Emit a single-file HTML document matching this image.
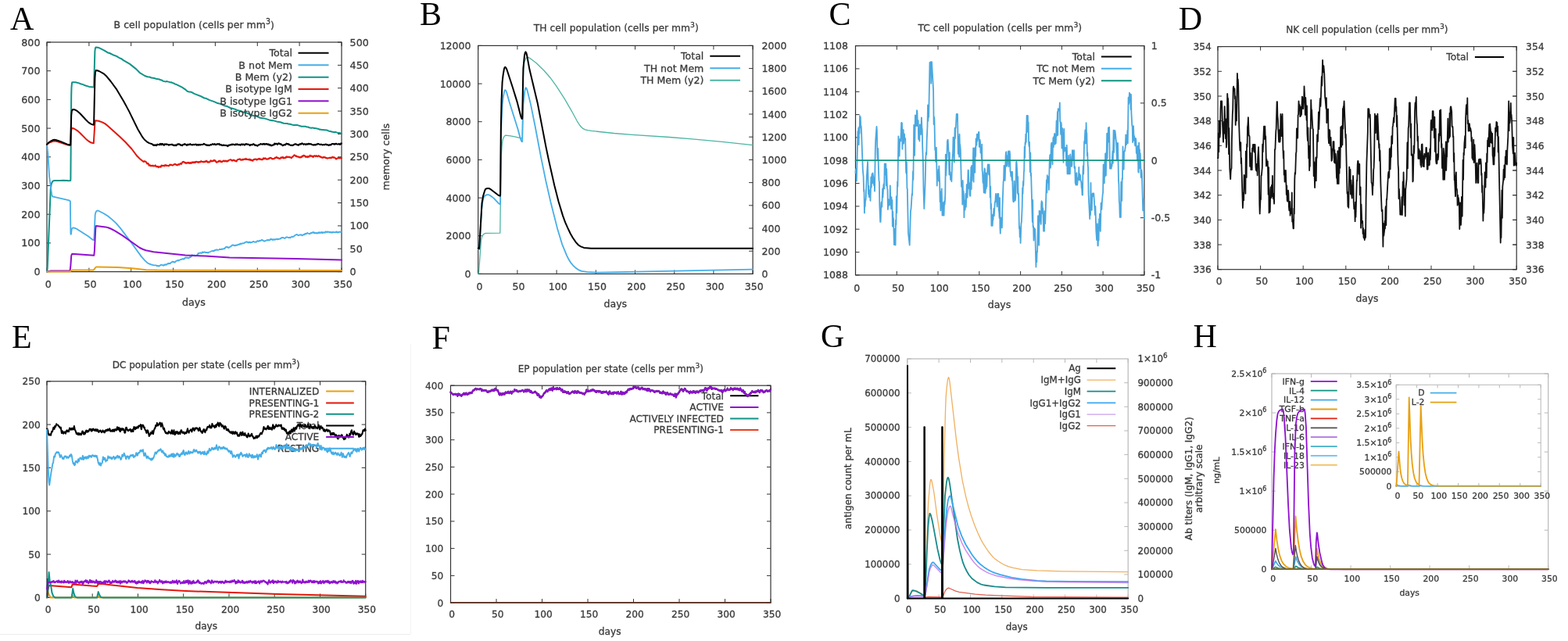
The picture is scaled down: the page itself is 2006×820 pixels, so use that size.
<!DOCTYPE html>
<html><head><meta charset="utf-8"><title>Immune simulation</title>
<style>html,body{margin:0;padding:0;background:#fff;} svg{display:block;} text{stroke:#3a3a3a;stroke-width:0.3px;} text.L{stroke:none;}</style></head>
<body><svg width="2006" height="820" viewBox="0 0 2006 820">
<rect width="2006" height="820" fill="#fff"/>
<text class="L" x="13.0" y="37.8" font-size="42" fill="#000" font-family="'Liberation Serif', 'DejaVu Serif', serif">A</text>
<text transform="translate(248.2,36.0) scale(0.96,1)" font-size="13.02" text-anchor="middle" fill="#3a3a3a" font-family="'DejaVu Sans', 'Liberation Sans', sans-serif">B cell population (cells per mm<tspan dy="-5" font-size="9.8">3</tspan><tspan dy="5">)</tspan></text>
<rect x="60.0" y="54.0" width="377.0" height="293.6" fill="none" stroke="#333" stroke-width="1.2"/>
<line x1="60.0" y1="347.6" x2="60.0" y2="342.6" stroke="#333" stroke-width="1"/>
<line x1="60.0" y1="54.0" x2="60.0" y2="59.0" stroke="#333" stroke-width="1"/>
<text transform="translate(61.7,368.0) scale(0.975,1)" font-size="13.02" text-anchor="middle" fill="#3a3a3a" font-family="'DejaVu Sans', 'Liberation Sans', sans-serif" >0</text>
<line x1="113.9" y1="347.6" x2="113.9" y2="342.6" stroke="#333" stroke-width="1"/>
<line x1="113.9" y1="54.0" x2="113.9" y2="59.0" stroke="#333" stroke-width="1"/>
<text transform="translate(115.6,368.0) scale(0.975,1)" font-size="13.02" text-anchor="middle" fill="#3a3a3a" font-family="'DejaVu Sans', 'Liberation Sans', sans-serif" >50</text>
<line x1="167.7" y1="347.6" x2="167.7" y2="342.6" stroke="#333" stroke-width="1"/>
<line x1="167.7" y1="54.0" x2="167.7" y2="59.0" stroke="#333" stroke-width="1"/>
<text transform="translate(169.4,368.0) scale(0.975,1)" font-size="13.02" text-anchor="middle" fill="#3a3a3a" font-family="'DejaVu Sans', 'Liberation Sans', sans-serif" >100</text>
<line x1="221.6" y1="347.6" x2="221.6" y2="342.6" stroke="#333" stroke-width="1"/>
<line x1="221.6" y1="54.0" x2="221.6" y2="59.0" stroke="#333" stroke-width="1"/>
<text transform="translate(223.3,368.0) scale(0.975,1)" font-size="13.02" text-anchor="middle" fill="#3a3a3a" font-family="'DejaVu Sans', 'Liberation Sans', sans-serif" >150</text>
<line x1="275.4" y1="347.6" x2="275.4" y2="342.6" stroke="#333" stroke-width="1"/>
<line x1="275.4" y1="54.0" x2="275.4" y2="59.0" stroke="#333" stroke-width="1"/>
<text transform="translate(277.1,368.0) scale(0.975,1)" font-size="13.02" text-anchor="middle" fill="#3a3a3a" font-family="'DejaVu Sans', 'Liberation Sans', sans-serif" >200</text>
<line x1="329.3" y1="347.6" x2="329.3" y2="342.6" stroke="#333" stroke-width="1"/>
<line x1="329.3" y1="54.0" x2="329.3" y2="59.0" stroke="#333" stroke-width="1"/>
<text transform="translate(331.0,368.0) scale(0.975,1)" font-size="13.02" text-anchor="middle" fill="#3a3a3a" font-family="'DejaVu Sans', 'Liberation Sans', sans-serif" >250</text>
<line x1="383.1" y1="347.6" x2="383.1" y2="342.6" stroke="#333" stroke-width="1"/>
<line x1="383.1" y1="54.0" x2="383.1" y2="59.0" stroke="#333" stroke-width="1"/>
<text transform="translate(384.8,368.0) scale(0.975,1)" font-size="13.02" text-anchor="middle" fill="#3a3a3a" font-family="'DejaVu Sans', 'Liberation Sans', sans-serif" >300</text>
<line x1="437.0" y1="347.6" x2="437.0" y2="342.6" stroke="#333" stroke-width="1"/>
<line x1="437.0" y1="54.0" x2="437.0" y2="59.0" stroke="#333" stroke-width="1"/>
<text transform="translate(438.7,368.0) scale(0.975,1)" font-size="13.02" text-anchor="middle" fill="#3a3a3a" font-family="'DejaVu Sans', 'Liberation Sans', sans-serif" >350</text>
<line x1="60.0" y1="347.6" x2="65.0" y2="347.6" stroke="#333" stroke-width="1"/>
<text transform="translate(51.5,352.1) scale(0.975,1)" font-size="13.02" text-anchor="end" fill="#3a3a3a" font-family="'DejaVu Sans', 'Liberation Sans', sans-serif" >0</text>
<line x1="60.0" y1="310.9" x2="65.0" y2="310.9" stroke="#333" stroke-width="1"/>
<text transform="translate(51.5,315.4) scale(0.975,1)" font-size="13.02" text-anchor="end" fill="#3a3a3a" font-family="'DejaVu Sans', 'Liberation Sans', sans-serif" >100</text>
<line x1="60.0" y1="274.2" x2="65.0" y2="274.2" stroke="#333" stroke-width="1"/>
<text transform="translate(51.5,278.7) scale(0.975,1)" font-size="13.02" text-anchor="end" fill="#3a3a3a" font-family="'DejaVu Sans', 'Liberation Sans', sans-serif" >200</text>
<line x1="60.0" y1="237.5" x2="65.0" y2="237.5" stroke="#333" stroke-width="1"/>
<text transform="translate(51.5,242.0) scale(0.975,1)" font-size="13.02" text-anchor="end" fill="#3a3a3a" font-family="'DejaVu Sans', 'Liberation Sans', sans-serif" >300</text>
<line x1="60.0" y1="200.8" x2="65.0" y2="200.8" stroke="#333" stroke-width="1"/>
<text transform="translate(51.5,205.3) scale(0.975,1)" font-size="13.02" text-anchor="end" fill="#3a3a3a" font-family="'DejaVu Sans', 'Liberation Sans', sans-serif" >400</text>
<line x1="60.0" y1="164.1" x2="65.0" y2="164.1" stroke="#333" stroke-width="1"/>
<text transform="translate(51.5,168.6) scale(0.975,1)" font-size="13.02" text-anchor="end" fill="#3a3a3a" font-family="'DejaVu Sans', 'Liberation Sans', sans-serif" >500</text>
<line x1="60.0" y1="127.4" x2="65.0" y2="127.4" stroke="#333" stroke-width="1"/>
<text transform="translate(51.5,131.9) scale(0.975,1)" font-size="13.02" text-anchor="end" fill="#3a3a3a" font-family="'DejaVu Sans', 'Liberation Sans', sans-serif" >600</text>
<line x1="60.0" y1="90.7" x2="65.0" y2="90.7" stroke="#333" stroke-width="1"/>
<text transform="translate(51.5,95.2) scale(0.975,1)" font-size="13.02" text-anchor="end" fill="#3a3a3a" font-family="'DejaVu Sans', 'Liberation Sans', sans-serif" >700</text>
<line x1="60.0" y1="54.0" x2="65.0" y2="54.0" stroke="#333" stroke-width="1"/>
<text transform="translate(51.5,58.5) scale(0.975,1)" font-size="13.02" text-anchor="end" fill="#3a3a3a" font-family="'DejaVu Sans', 'Liberation Sans', sans-serif" >800</text>
<line x1="437.0" y1="347.6" x2="432.0" y2="347.6" stroke="#333" stroke-width="1"/>
<text transform="translate(447.6,352.1) scale(0.975,1)" font-size="13.02" text-anchor="start" fill="#3a3a3a" font-family="'DejaVu Sans', 'Liberation Sans', sans-serif" >0</text>
<line x1="437.0" y1="318.2" x2="432.0" y2="318.2" stroke="#333" stroke-width="1"/>
<text transform="translate(447.6,322.7) scale(0.975,1)" font-size="13.02" text-anchor="start" fill="#3a3a3a" font-family="'DejaVu Sans', 'Liberation Sans', sans-serif" >50</text>
<line x1="437.0" y1="288.9" x2="432.0" y2="288.9" stroke="#333" stroke-width="1"/>
<text transform="translate(447.6,293.4) scale(0.975,1)" font-size="13.02" text-anchor="start" fill="#3a3a3a" font-family="'DejaVu Sans', 'Liberation Sans', sans-serif" >100</text>
<line x1="437.0" y1="259.5" x2="432.0" y2="259.5" stroke="#333" stroke-width="1"/>
<text transform="translate(447.6,264.0) scale(0.975,1)" font-size="13.02" text-anchor="start" fill="#3a3a3a" font-family="'DejaVu Sans', 'Liberation Sans', sans-serif" >150</text>
<line x1="437.0" y1="230.2" x2="432.0" y2="230.2" stroke="#333" stroke-width="1"/>
<text transform="translate(447.6,234.7) scale(0.975,1)" font-size="13.02" text-anchor="start" fill="#3a3a3a" font-family="'DejaVu Sans', 'Liberation Sans', sans-serif" >200</text>
<line x1="437.0" y1="200.8" x2="432.0" y2="200.8" stroke="#333" stroke-width="1"/>
<text transform="translate(447.6,205.3) scale(0.975,1)" font-size="13.02" text-anchor="start" fill="#3a3a3a" font-family="'DejaVu Sans', 'Liberation Sans', sans-serif" >250</text>
<line x1="437.0" y1="171.4" x2="432.0" y2="171.4" stroke="#333" stroke-width="1"/>
<text transform="translate(447.6,175.9) scale(0.975,1)" font-size="13.02" text-anchor="start" fill="#3a3a3a" font-family="'DejaVu Sans', 'Liberation Sans', sans-serif" >300</text>
<line x1="437.0" y1="142.1" x2="432.0" y2="142.1" stroke="#333" stroke-width="1"/>
<text transform="translate(447.6,146.6) scale(0.975,1)" font-size="13.02" text-anchor="start" fill="#3a3a3a" font-family="'DejaVu Sans', 'Liberation Sans', sans-serif" >350</text>
<line x1="437.0" y1="112.7" x2="432.0" y2="112.7" stroke="#333" stroke-width="1"/>
<text transform="translate(447.6,117.2) scale(0.975,1)" font-size="13.02" text-anchor="start" fill="#3a3a3a" font-family="'DejaVu Sans', 'Liberation Sans', sans-serif" >400</text>
<line x1="437.0" y1="83.4" x2="432.0" y2="83.4" stroke="#333" stroke-width="1"/>
<text transform="translate(447.6,87.9) scale(0.975,1)" font-size="13.02" text-anchor="start" fill="#3a3a3a" font-family="'DejaVu Sans', 'Liberation Sans', sans-serif" >450</text>
<line x1="437.0" y1="54.0" x2="432.0" y2="54.0" stroke="#333" stroke-width="1"/>
<text transform="translate(447.6,58.5) scale(0.975,1)" font-size="13.02" text-anchor="start" fill="#3a3a3a" font-family="'DejaVu Sans', 'Liberation Sans', sans-serif" >500</text>
<text transform="translate(248.0,390.5) scale(0.975,1)" font-size="13.02" text-anchor="middle" fill="#3a3a3a" font-family="'DejaVu Sans', 'Liberation Sans', sans-serif" >days</text>
<text x="0.0" y="0.0" font-size="13.02" text-anchor="middle" fill="#3a3a3a" font-family="'DejaVu Sans', 'Liberation Sans', sans-serif" transform="translate(498,200.7) rotate(-90) scale(0.975,1)">memory cells</text>
<polyline points="60.0,347.6 60.5,345.4 60.8,340.3 64.6,246.4 64.8,241.1 65.7,235.5 66.5,233.4 67.5,231.8 69.7,230.9 78.3,231.1 80.2,230.8 86.7,231.0 87.2,231.3 90.2,231.0 90.4,228.8 91.2,122.5 91.5,111.9 92.0,106.1 92.3,105.3 96.6,105.3 101.2,106.4 103.1,107.3 106.3,108.1 107.9,109.0 113.9,110.9 119.5,111.5 120.1,111.1 121.4,65.3 121.9,61.8 122.5,60.5 125.2,60.7 127.1,61.4 133.5,64.6 137.6,67.2 140.2,68.0 144.6,70.2 149.1,71.9 153.4,74.5 154.8,74.9 158.3,77.4 166.1,81.9 174.2,88.4 178.5,92.8 185.2,97.0 188.7,98.2 191.4,98.5 193.8,99.6 197.3,100.0 200.6,101.1 204.1,101.6 205.4,102.3 207.0,102.6 208.4,103.6 211.3,104.4 213.8,104.1 218.1,105.4 219.4,105.3 221.0,106.2 222.4,106.4 223.7,107.5 225.3,107.9 232.9,111.6 236.9,114.3 239.1,116.3 240.7,117.2 244.5,117.7 248.5,119.9 256.0,122.7 261.4,125.5 263.6,125.8 267.6,127.9 274.1,130.1 278.4,132.1 283.8,133.3 285.7,134.6 288.1,135.5 290.8,136.1 294.5,138.0 300.5,139.6 303.4,141.0 307.7,141.9 311.5,143.7 316.1,144.6 323.9,148.1 324.2,147.9 326.1,148.4 328.2,148.5 332.8,150.8 338.2,151.4 344.4,153.4 348.1,154.2 349.2,154.1 353.8,155.4 358.6,156.3 362.9,157.8 367.3,157.9 368.6,158.6 371.0,158.8 375.6,160.1 380.7,160.1 385.8,161.7 390.7,161.8 393.1,162.6 394.2,162.5 395.5,163.2 398.5,163.7 399.8,163.4 402.0,164.0 402.8,163.9 407.6,165.0 409.3,165.8 410.3,165.6 412.2,166.1 418.4,166.6 420.8,167.7 423.0,168.0 424.3,168.6 428.1,169.2 428.7,169.0 429.7,169.1 433.0,170.1 434.3,170.0 437.0,171.0" fill="none" stroke="#0f9488" stroke-width="2.0" stroke-linejoin="round" stroke-linecap="round" opacity="1.0"/>
<polyline points="60.0,184.3 61.3,196.6 63.2,226.5 66.2,249.0 67.0,251.1 68.1,251.6 87.7,256.1 89.9,257.3 90.4,298.8 90.7,299.8 91.0,299.4 91.8,292.6 93.4,291.5 95.3,291.6 98.0,292.8 113.3,302.5 118.4,306.6 120.3,307.2 121.7,274.6 122.5,271.5 123.3,270.2 124.4,269.5 126.2,269.7 133.0,273.2 137.8,276.3 143.2,280.6 148.6,285.6 154.0,291.9 166.6,308.5 180.6,327.9 185.2,333.1 188.2,335.9 190.6,337.4 194.1,338.7 196.8,339.3 200.0,339.4 200.6,340.3 201.6,339.8 202.5,340.4 203.0,340.2 203.5,340.6 204.3,339.7 204.9,339.7 206.0,338.6 208.1,339.3 208.6,339.2 209.2,339.7 210.0,338.7 210.3,339.1 210.8,339.0 211.1,338.3 211.6,338.8 211.9,338.5 212.1,338.8 212.7,338.3 213.2,338.6 214.3,337.3 214.8,337.4 215.1,336.9 215.4,336.8 215.6,337.6 216.5,337.0 217.0,336.9 217.3,337.3 218.1,336.9 219.1,335.5 220.2,335.1 220.5,334.7 220.8,335.0 221.0,334.7 221.8,334.9 222.1,335.3 222.6,335.0 222.9,335.6 223.5,335.3 223.7,335.5 225.3,334.0 227.2,333.0 227.8,333.5 228.6,332.9 228.8,333.3 231.0,332.0 232.3,331.8 232.6,331.4 233.4,331.4 233.7,331.0 234.2,331.7 234.8,331.7 235.0,331.2 235.6,331.4 235.8,330.4 236.7,330.3 237.2,329.3 238.5,329.5 238.8,329.9 239.3,329.6 239.6,329.9 239.9,329.6 240.7,329.7 241.0,330.2 241.8,329.7 242.0,329.8 243.1,328.6 243.7,329.0 244.5,328.5 245.0,327.9 245.8,326.0 246.1,326.6 247.2,327.0 248.2,326.4 249.0,326.6 249.6,327.6 250.1,327.0 251.5,326.9 251.7,326.3 252.8,325.7 253.3,324.4 254.2,323.9 254.4,324.3 255.2,323.7 256.0,323.7 256.3,323.2 257.4,324.0 257.7,323.6 257.9,323.8 258.2,323.7 258.7,322.5 259.3,322.4 259.8,323.3 261.2,322.3 262.5,322.8 262.8,322.6 263.0,323.0 264.7,322.8 265.5,323.4 266.0,323.1 266.5,323.4 267.4,322.5 269.2,322.0 271.1,321.0 272.2,321.3 272.5,320.9 273.0,320.9 273.8,321.3 274.4,320.3 275.2,319.7 275.7,320.0 276.5,319.7 276.8,319.9 277.0,319.6 277.3,319.8 277.6,319.2 278.7,319.9 280.3,319.5 281.1,318.6 281.6,318.8 281.9,319.2 282.4,319.2 283.8,318.5 284.0,319.0 284.6,318.4 285.4,318.7 287.0,317.7 287.3,318.1 288.9,316.0 289.7,316.1 290.2,315.8 290.8,316.4 291.0,315.9 291.9,316.5 292.1,317.1 292.9,316.5 293.7,316.6 294.5,315.4 295.6,315.2 297.2,313.4 297.8,313.4 298.3,313.9 298.9,313.6 299.9,313.8 300.2,314.4 301.3,313.7 301.8,314.0 302.4,313.4 303.2,313.8 304.2,313.0 304.5,313.1 305.3,312.6 306.4,312.8 307.2,311.6 307.7,312.4 308.6,311.5 309.1,311.9 310.2,311.5 310.7,311.0 311.8,311.3 312.3,311.1 313.1,310.6 313.4,310.0 313.7,310.3 313.9,309.8 314.7,309.7 315.3,309.2 316.4,309.9 316.6,309.5 316.9,309.6 317.7,310.6 318.2,309.8 318.8,310.1 319.3,309.5 320.1,309.9 320.4,310.6 321.2,310.0 322.0,310.2 324.2,308.8 325.5,309.7 326.1,309.8 326.9,309.3 327.7,309.9 329.3,308.0 330.9,308.9 331.7,307.9 332.0,308.1 332.5,307.6 333.1,308.0 334.1,307.7 334.9,306.6 336.0,307.7 336.8,307.5 337.4,308.4 337.9,308.5 338.2,308.3 338.4,308.7 339.2,308.5 339.8,307.8 340.6,307.7 341.7,306.9 342.2,307.5 343.0,307.0 343.3,307.2 343.6,306.8 344.1,307.3 344.9,307.4 346.0,305.8 346.8,306.4 347.3,305.9 347.9,306.1 348.1,306.5 348.4,306.2 349.2,307.1 350.6,305.9 351.4,306.8 352.4,306.4 352.7,305.9 353.8,305.9 354.6,306.4 355.1,305.5 356.5,306.2 357.0,305.7 358.1,305.7 358.4,305.3 358.6,305.6 360.3,304.0 361.1,303.8 362.1,304.1 362.9,304.0 363.5,304.8 364.0,304.9 365.1,304.6 365.9,303.4 366.7,303.5 367.3,303.2 369.1,304.2 369.4,303.9 369.7,304.2 370.2,304.1 370.5,303.6 371.6,304.3 372.1,303.4 373.2,303.0 373.4,302.5 374.0,303.0 374.8,303.2 375.1,302.7 376.4,302.0 376.7,301.5 377.2,301.5 377.8,300.8 379.4,300.0 379.9,300.0 380.4,300.6 380.7,300.5 381.8,301.3 382.1,300.9 383.1,300.7 383.4,300.3 384.8,300.7 385.3,300.1 386.6,301.4 387.5,300.5 388.3,300.3 388.5,299.9 389.1,300.4 390.4,298.8 390.7,299.3 391.5,299.4 392.0,298.6 392.3,298.9 392.6,298.4 393.4,298.0 394.2,298.7 395.0,298.9 395.8,298.8 396.3,299.4 398.0,297.7 398.2,297.6 398.8,298.4 400.4,297.0 400.6,297.3 400.9,297.0 401.7,298.3 402.5,297.5 402.8,297.9 403.6,298.4 404.4,297.8 405.2,298.6 405.8,298.7 406.0,298.0 406.3,298.2 407.1,297.2 408.2,298.3 409.0,297.1 409.5,297.6 409.8,297.5 410.1,297.8 410.3,297.5 410.9,298.0 411.7,296.8 412.8,298.3 413.8,297.1 414.4,297.4 415.2,297.3 415.7,297.8 416.5,296.2 417.3,296.9 418.1,296.7 418.4,297.1 418.7,296.4 419.8,296.9 420.0,296.5 420.3,296.8 420.6,296.6 421.9,297.5 422.7,296.6 423.8,297.7 424.9,296.9 425.4,297.5 426.0,296.8 426.2,297.2 427.3,297.0 428.9,297.4 429.7,296.6 430.0,297.0 430.3,296.4 430.5,297.1 431.3,296.6 431.9,297.4 432.4,297.6 433.5,296.6 433.8,297.1 434.8,296.5 435.4,296.6 435.7,297.0 436.7,296.3 437.0,296.8" fill="none" stroke="#45aee8" stroke-width="1.8" stroke-linejoin="round" stroke-linecap="round" opacity="1.0"/>
<polyline points="60.0,347.6 65.1,346.5 89.6,346.5 90.4,339.6 91.2,327.4 91.8,325.6 92.3,324.8 120.3,326.7 120.9,321.1 122.2,293.1 122.7,289.2 123.0,288.9 135.1,290.4 138.4,291.2 141.6,292.5 146.7,295.2 157.2,301.6 178.8,317.0 183.1,319.0 186.6,320.3 196.5,322.2 237.2,326.5 262.8,327.5 293.7,329.5 379.6,331.0 437.0,332.4" fill="none" stroke="#9010d0" stroke-width="2.0" stroke-linejoin="round" stroke-linecap="round" opacity="1.0"/>
<polyline points="60.0,347.6 89.6,347.6 91.2,346.1 93.1,345.4 119.8,345.4 122.5,341.9 123.6,341.4 151.0,341.9 169.3,343.3 186.8,345.2 201.1,345.6 437.0,346.1" fill="none" stroke="#e8a010" stroke-width="2.0" stroke-linejoin="round" stroke-linecap="round" opacity="1.0"/>
<polyline points="60.0,184.7 62.4,182.9 65.1,181.7 67.8,180.8 70.2,180.6 74.0,181.3 86.9,185.6 90.2,186.1 91.0,168.8 91.5,163.7 94.7,164.5 98.5,166.8 102.0,169.8 110.1,177.9 113.9,181.0 116.8,182.6 119.8,183.2 121.4,157.5 121.9,154.2 122.5,154.2 126.2,154.8 131.4,156.6 134.6,158.4 138.1,161.2 153.4,175.0 160.4,181.8 168.5,190.5 175.5,199.8 179.0,203.2 182.5,206.1 183.9,207.0 184.4,206.1 185.2,206.6 185.8,206.4 186.3,206.6 186.6,207.1 186.8,207.0 188.2,209.4 188.4,209.5 189.0,208.8 190.1,209.8 190.6,211.7 190.9,211.8 191.1,211.3 192.5,211.6 192.8,212.3 193.6,211.9 193.8,212.2 194.6,212.1 194.9,212.3 195.5,211.6 196.8,212.6 197.9,212.2 198.7,211.3 199.2,212.5 199.5,212.4 199.8,212.9 200.0,212.8 200.3,213.3 200.6,212.9 201.1,213.1 201.4,213.5 201.9,212.8 202.7,214.1 203.0,213.8 203.3,214.0 203.5,213.3 204.6,213.5 205.1,213.1 205.7,213.7 206.5,211.5 207.6,212.2 208.1,211.7 208.6,212.1 208.9,211.8 209.7,212.0 210.3,212.5 210.8,211.3 211.9,211.5 212.1,211.1 212.7,212.1 213.5,211.6 214.6,212.0 215.4,211.9 215.9,212.4 217.3,210.5 217.8,211.1 218.3,210.7 219.1,211.0 219.4,210.8 220.5,211.6 221.0,211.6 221.6,211.0 222.1,210.9 222.4,210.3 223.5,209.8 223.7,210.3 224.5,209.9 225.6,210.9 226.1,210.8 226.7,211.4 228.3,210.0 229.1,210.8 229.4,210.3 229.9,210.3 230.7,209.1 231.3,209.2 231.5,209.7 232.1,209.9 233.4,207.3 234.0,207.4 234.8,206.8 235.0,207.2 235.8,207.2 236.4,208.2 236.7,208.0 236.9,208.3 237.5,208.0 238.0,208.9 238.8,208.2 239.6,208.8 240.4,207.7 241.0,208.2 241.5,208.0 242.0,208.9 242.3,208.6 242.6,208.8 242.8,208.4 243.1,208.7 243.4,207.9 243.9,208.9 244.7,208.4 245.0,208.8 245.8,207.4 246.3,207.9 246.9,207.5 247.2,208.0 247.7,207.3 248.0,208.0 248.2,207.7 248.5,208.0 248.8,207.6 249.0,208.0 249.6,207.1 249.8,207.5 250.1,207.2 250.4,207.7 250.9,206.8 253.1,207.3 253.3,207.8 253.9,207.9 254.4,206.9 255.0,206.9 255.8,207.6 256.0,207.5 257.4,206.0 258.2,207.0 259.3,207.0 259.5,206.7 260.1,207.5 260.6,206.9 260.9,207.2 261.7,207.2 262.2,206.4 262.5,207.1 262.8,207.1 264.1,205.7 264.7,206.1 264.9,207.1 265.5,207.1 266.0,207.8 266.3,207.2 266.8,207.1 267.1,207.6 268.2,207.5 269.5,205.3 270.0,206.1 270.9,205.7 271.1,206.5 272.2,205.8 272.5,206.0 272.7,205.7 273.3,205.9 273.8,204.7 274.6,205.7 275.4,205.3 275.7,205.5 276.0,206.6 276.8,207.6 277.0,207.4 277.3,207.7 278.1,207.4 278.7,206.7 279.5,206.9 280.0,205.8 280.8,206.4 281.4,205.6 281.9,206.0 282.4,207.0 283.0,207.2 283.5,207.1 283.8,206.5 284.0,207.0 284.6,207.0 285.4,205.8 285.9,206.0 286.5,205.5 287.5,206.4 288.4,205.6 289.4,206.5 290.2,205.9 290.5,206.6 290.8,206.5 291.3,205.9 291.6,206.1 291.9,205.9 292.4,205.1 294.0,204.6 294.3,204.2 295.1,204.5 295.4,204.3 296.7,205.6 297.0,205.3 297.2,205.6 298.3,204.8 298.6,204.9 298.9,204.5 299.9,205.7 300.2,205.2 300.5,205.3 301.3,205.7 301.5,206.2 302.4,206.2 302.6,206.5 303.4,204.6 304.8,203.8 305.6,204.0 306.7,203.3 307.2,203.7 307.5,203.6 308.3,204.9 309.6,204.6 310.2,203.7 311.0,204.6 312.3,203.5 312.6,203.8 313.4,203.5 313.9,203.9 314.7,202.9 315.3,204.1 317.2,203.8 318.0,204.5 319.3,203.6 320.1,205.0 320.4,204.2 320.9,204.3 321.2,204.9 321.7,204.5 322.0,205.3 322.3,204.9 322.6,205.0 323.4,205.8 323.9,204.5 325.0,203.9 325.2,204.3 326.1,203.5 327.4,203.9 327.7,203.5 328.5,204.6 329.0,203.9 329.8,204.0 330.4,203.0 330.9,203.6 331.4,203.7 332.0,202.8 332.5,203.2 332.8,203.9 333.9,203.6 334.4,204.3 334.9,203.9 335.2,204.3 335.7,204.3 336.3,203.7 336.8,202.2 337.1,202.2 337.6,203.1 338.2,202.5 338.7,203.2 339.5,202.2 339.8,202.8 341.1,203.8 341.4,203.3 341.7,203.8 342.2,203.4 343.0,203.6 343.6,202.7 344.1,202.6 344.4,202.9 344.9,202.0 345.2,202.4 346.0,201.8 346.8,202.0 348.1,203.4 348.4,203.1 350.0,203.3 350.8,203.0 351.9,201.6 352.4,202.2 353.0,202.0 353.8,200.9 354.9,202.1 355.1,201.9 355.9,202.5 356.2,202.1 357.0,202.7 357.8,202.7 358.1,203.1 359.7,201.2 360.3,201.9 360.8,201.9 361.1,201.2 361.3,201.7 361.6,201.5 361.9,200.8 362.7,202.4 362.9,202.5 363.8,201.7 364.6,201.6 364.8,202.1 365.6,201.8 366.4,200.3 367.0,201.1 367.5,200.5 368.3,201.0 368.6,200.7 369.9,200.7 370.2,201.4 370.8,200.8 372.9,202.1 374.0,200.5 374.3,200.8 376.4,198.3 377.2,198.6 378.3,200.0 379.1,199.3 380.2,200.6 381.3,200.2 381.5,200.7 382.3,200.8 382.9,201.5 383.7,200.8 384.5,201.5 384.8,200.8 385.0,201.4 385.6,200.6 386.4,200.7 386.6,199.6 387.5,199.7 388.3,198.9 388.5,199.5 388.8,198.8 389.1,199.3 389.6,199.1 391.0,200.9 391.8,200.0 392.3,200.8 392.6,200.5 393.4,201.1 393.9,200.0 394.7,200.8 395.5,200.5 396.6,198.7 397.7,199.9 398.5,199.8 398.8,199.4 399.8,199.9 400.4,201.0 400.9,200.9 401.5,199.6 401.7,199.7 402.0,199.3 402.5,199.5 402.8,199.3 403.9,200.2 404.7,199.1 405.0,199.6 406.3,200.3 407.6,199.1 408.5,200.1 409.0,199.9 409.5,200.8 410.1,200.4 410.9,200.9 411.1,201.6 412.2,201.2 412.8,201.9 414.1,200.8 414.9,201.4 415.7,201.1 416.3,201.9 416.8,201.6 417.3,202.2 417.9,202.1 418.4,202.6 418.7,202.2 419.8,202.4 421.4,201.8 421.9,202.3 423.0,201.4 423.3,202.0 423.5,201.8 423.8,202.2 424.9,201.5 425.2,200.7 426.2,201.3 426.5,201.8 426.8,201.5 427.0,201.7 427.3,201.3 428.4,201.6 430.0,203.6 430.8,202.8 431.6,202.4 431.9,202.6 432.4,202.1 433.2,202.4 433.8,201.5 434.6,202.4 434.8,202.1 435.1,202.2 435.4,201.7 436.2,202.4 437.0,202.2" fill="none" stroke="#e3170d" stroke-width="2.0" stroke-linejoin="round" stroke-linecap="round" opacity="1.0"/>
<polyline points="60.0,184.7 62.4,182.3 65.7,180.2 67.8,179.1 69.7,178.8 72.1,179.2 77.2,181.0 86.1,184.7 90.2,185.4 91.2,147.8 91.8,142.1 93.1,139.9 95.8,140.3 99.0,142.2 102.5,145.3 110.1,153.5 113.3,156.6 116.8,158.9 119.8,159.7 120.1,159.2 121.4,99.6 121.9,92.8 122.7,90.0 124.6,90.2 126.8,91.0 132.4,94.1 136.5,97.8 141.6,104.0 149.4,114.7 158.6,130.2 165.0,142.1 176.3,165.3 182.3,175.4 184.7,178.5 187.9,181.3 190.9,183.1 194.6,184.2 195.5,185.3 196.0,185.2 196.3,185.9 196.5,185.4 197.3,185.9 198.1,185.3 199.0,185.9 199.8,185.4 200.3,186.2 201.4,184.6 202.7,185.1 203.3,184.8 203.5,185.2 204.1,185.3 204.6,184.1 204.9,184.1 205.1,184.9 205.4,184.9 206.0,183.9 206.8,185.1 207.3,184.1 208.1,184.0 208.9,185.3 209.5,184.9 209.7,185.1 210.0,185.9 210.8,184.3 212.7,184.9 213.0,184.5 213.5,184.3 213.8,184.7 215.4,184.9 215.9,185.8 217.0,185.0 217.3,185.3 219.4,184.7 220.0,185.1 220.2,184.7 221.8,185.9 222.1,185.4 222.4,185.5 223.2,186.3 224.3,185.4 224.8,186.0 225.3,186.2 225.9,185.8 226.7,184.5 227.5,184.5 227.8,184.7 228.3,184.2 228.8,184.2 229.1,184.6 229.4,184.3 230.5,184.8 231.0,185.8 232.1,185.4 233.2,186.3 234.2,184.8 235.6,184.9 236.4,184.0 237.5,185.1 238.0,184.9 238.8,185.9 239.6,185.7 240.4,184.6 240.7,185.2 241.0,184.9 241.5,185.3 242.0,184.7 242.3,184.9 243.4,184.1 243.7,184.7 244.7,185.3 245.0,185.0 246.3,185.5 247.2,184.8 248.0,185.2 248.2,184.8 249.0,185.2 250.1,184.6 250.7,185.1 250.9,184.6 251.7,185.8 252.3,185.2 253.1,184.9 253.3,185.5 254.2,185.1 254.4,185.7 255.8,184.8 256.3,185.4 256.8,185.4 257.4,184.8 257.7,185.0 259.3,185.1 260.9,183.8 263.3,185.4 264.4,185.3 264.7,185.9 265.2,186.0 266.3,185.4 267.4,186.2 268.4,185.6 268.7,185.8 269.0,185.2 269.5,185.0 270.6,185.4 271.7,184.2 272.5,184.2 273.5,184.9 274.6,184.0 276.0,185.3 277.9,184.1 278.7,184.5 279.5,184.2 280.0,184.5 280.5,183.9 281.4,185.4 282.7,185.0 283.2,185.6 283.8,185.9 284.0,185.7 284.9,186.2 285.4,185.5 285.9,185.4 287.0,186.0 288.1,185.7 288.4,186.0 289.7,186.3 290.0,185.9 290.2,186.2 290.5,186.0 291.3,187.1 292.1,186.5 292.7,185.4 294.0,185.8 294.5,185.3 295.6,185.2 296.4,184.5 297.0,185.3 297.8,184.6 298.3,184.6 299.4,185.1 299.9,184.8 300.5,185.5 301.5,184.4 302.1,185.1 302.6,184.6 303.2,185.0 303.4,184.3 303.7,184.3 304.2,185.1 304.8,185.0 305.6,185.4 306.7,184.8 307.7,185.8 308.3,184.6 309.1,184.4 309.4,184.7 309.9,184.5 310.4,185.3 311.2,184.5 311.8,184.6 313.1,185.6 313.7,184.5 314.2,184.7 314.7,184.0 315.6,184.2 315.8,184.7 316.1,184.5 316.4,184.8 316.6,184.5 318.2,184.8 319.9,186.2 320.7,185.1 321.5,185.2 322.3,184.8 322.6,185.4 324.4,184.1 325.8,185.5 326.1,185.3 326.3,186.0 327.7,185.6 329.3,186.8 330.6,185.3 332.2,185.3 333.1,184.0 335.7,184.7 336.6,183.9 336.8,184.5 337.1,184.3 337.4,184.5 338.2,183.8 338.7,184.7 339.0,184.3 339.8,184.7 340.1,183.9 341.7,184.1 341.9,184.8 342.5,184.9 343.6,184.4 344.4,185.6 344.9,185.0 345.4,185.5 345.7,185.1 346.8,186.5 347.3,185.8 347.9,186.2 348.7,185.4 349.2,185.6 350.3,185.5 351.1,183.5 351.4,183.5 351.6,184.4 352.2,184.4 353.0,183.7 353.8,183.7 354.3,184.0 354.6,184.8 354.9,184.5 355.1,184.9 355.9,183.7 356.8,183.2 357.6,184.2 357.8,184.0 358.4,184.5 358.9,183.9 359.2,184.4 359.4,184.2 359.7,184.7 360.0,184.5 361.6,186.3 363.5,185.0 363.8,185.5 364.8,184.9 365.1,185.4 366.4,183.6 367.3,184.3 368.3,184.0 368.9,184.2 369.1,185.0 369.7,184.5 369.9,184.6 370.8,185.6 371.6,185.5 371.8,186.0 372.9,186.0 373.4,185.5 374.0,186.2 374.3,186.0 374.8,186.0 375.9,184.9 376.7,184.9 377.2,184.2 378.0,184.6 378.8,184.2 379.1,184.8 379.9,185.1 380.4,185.6 381.3,185.1 382.1,185.9 382.6,184.8 383.1,184.8 383.4,184.3 384.2,184.1 385.0,184.7 385.8,183.6 386.4,183.7 386.6,183.4 387.5,183.9 388.3,185.0 389.1,184.2 389.9,184.2 390.1,184.5 390.4,184.2 391.2,185.1 392.6,184.0 393.9,184.8 394.5,183.8 395.3,183.7 396.3,184.6 396.9,184.0 397.1,184.2 398.2,184.2 399.0,185.1 400.1,185.2 400.4,185.5 400.6,185.4 401.2,185.7 401.7,185.1 402.5,185.0 403.1,185.6 404.7,184.6 405.2,185.1 405.5,184.5 406.3,184.3 406.6,183.9 406.8,184.3 407.6,184.1 407.9,184.6 408.7,184.6 409.8,185.1 410.9,184.5 412.8,185.6 413.6,184.9 414.9,185.4 415.7,184.8 417.3,184.5 417.9,185.4 419.2,185.1 420.3,186.1 421.1,185.8 421.4,185.2 421.9,185.5 422.2,185.0 422.7,184.9 423.0,185.5 423.5,185.4 424.6,184.0 425.2,183.9 426.5,184.3 426.8,184.1 427.0,184.4 427.6,184.0 428.4,184.8 429.2,183.8 429.7,184.1 430.3,183.7 431.1,184.4 432.2,184.5 433.2,184.3 433.8,183.9 434.3,184.7 434.8,184.9 435.7,184.6 436.2,183.4 436.7,183.7 437.0,183.6" fill="none" stroke="#000000" stroke-width="2.0" stroke-linejoin="round" stroke-linecap="round" opacity="1.0"/>
<text transform="translate(374.0,72.3) scale(0.975,1)" font-size="13.02" text-anchor="end" fill="#3a3a3a" font-family="'DejaVu Sans', 'Liberation Sans', sans-serif" >Total</text>
<line x1="381.5" y1="67.8" x2="420.5" y2="67.8" stroke="#000000" stroke-width="2.0"/>
<text transform="translate(374.0,87.8) scale(0.975,1)" font-size="13.02" text-anchor="end" fill="#3a3a3a" font-family="'DejaVu Sans', 'Liberation Sans', sans-serif" >B not Mem</text>
<line x1="381.5" y1="83.3" x2="420.5" y2="83.3" stroke="#45aee8" stroke-width="2.0"/>
<text transform="translate(374.0,103.2) scale(0.975,1)" font-size="13.02" text-anchor="end" fill="#3a3a3a" font-family="'DejaVu Sans', 'Liberation Sans', sans-serif" >B Mem (y2)</text>
<line x1="381.5" y1="98.7" x2="420.5" y2="98.7" stroke="#0f9488" stroke-width="2.0"/>
<text transform="translate(374.0,118.4) scale(0.975,1)" font-size="13.02" text-anchor="end" fill="#3a3a3a" font-family="'DejaVu Sans', 'Liberation Sans', sans-serif" >B isotype IgM</text>
<line x1="381.5" y1="113.9" x2="420.5" y2="113.9" stroke="#e3170d" stroke-width="2.0"/>
<text transform="translate(374.0,133.8) scale(0.975,1)" font-size="13.02" text-anchor="end" fill="#3a3a3a" font-family="'DejaVu Sans', 'Liberation Sans', sans-serif" >B isotype IgG1</text>
<line x1="381.5" y1="129.3" x2="420.5" y2="129.3" stroke="#9010d0" stroke-width="2.0"/>
<text transform="translate(374.0,149.3) scale(0.975,1)" font-size="13.02" text-anchor="end" fill="#3a3a3a" font-family="'DejaVu Sans', 'Liberation Sans', sans-serif" >B isotype IgG2</text>
<line x1="381.5" y1="144.8" x2="420.5" y2="144.8" stroke="#e8a010" stroke-width="2.0"/>
<text class="L" x="537.0" y="31.6" font-size="42" fill="#000" font-family="'Liberation Serif', 'DejaVu Serif', serif">B</text>
<text transform="translate(788.3,39.5) scale(0.96,1)" font-size="12.86" text-anchor="middle" fill="#3a3a3a" font-family="'DejaVu Sans', 'Liberation Sans', sans-serif">TH cell population (cells per mm<tspan dy="-5" font-size="9.6">3</tspan><tspan dy="5">)</tspan></text>
<rect x="611.7" y="58.4" width="351.4" height="292.0" fill="none" stroke="#333" stroke-width="1.2"/>
<line x1="611.7" y1="350.4" x2="611.7" y2="345.4" stroke="#333" stroke-width="1"/>
<line x1="611.7" y1="58.4" x2="611.7" y2="63.4" stroke="#333" stroke-width="1"/>
<text transform="translate(613.4,371.0) scale(0.975,1)" font-size="12.86" text-anchor="middle" fill="#3a3a3a" font-family="'DejaVu Sans', 'Liberation Sans', sans-serif" >0</text>
<line x1="661.9" y1="350.4" x2="661.9" y2="345.4" stroke="#333" stroke-width="1"/>
<line x1="661.9" y1="58.4" x2="661.9" y2="63.4" stroke="#333" stroke-width="1"/>
<text transform="translate(663.6,371.0) scale(0.975,1)" font-size="12.86" text-anchor="middle" fill="#3a3a3a" font-family="'DejaVu Sans', 'Liberation Sans', sans-serif" >50</text>
<line x1="712.1" y1="350.4" x2="712.1" y2="345.4" stroke="#333" stroke-width="1"/>
<line x1="712.1" y1="58.4" x2="712.1" y2="63.4" stroke="#333" stroke-width="1"/>
<text transform="translate(713.8,371.0) scale(0.975,1)" font-size="12.86" text-anchor="middle" fill="#3a3a3a" font-family="'DejaVu Sans', 'Liberation Sans', sans-serif" >100</text>
<line x1="762.3" y1="350.4" x2="762.3" y2="345.4" stroke="#333" stroke-width="1"/>
<line x1="762.3" y1="58.4" x2="762.3" y2="63.4" stroke="#333" stroke-width="1"/>
<text transform="translate(764.0,371.0) scale(0.975,1)" font-size="12.86" text-anchor="middle" fill="#3a3a3a" font-family="'DejaVu Sans', 'Liberation Sans', sans-serif" >150</text>
<line x1="812.5" y1="350.4" x2="812.5" y2="345.4" stroke="#333" stroke-width="1"/>
<line x1="812.5" y1="58.4" x2="812.5" y2="63.4" stroke="#333" stroke-width="1"/>
<text transform="translate(814.2,371.0) scale(0.975,1)" font-size="12.86" text-anchor="middle" fill="#3a3a3a" font-family="'DejaVu Sans', 'Liberation Sans', sans-serif" >200</text>
<line x1="862.7" y1="350.4" x2="862.7" y2="345.4" stroke="#333" stroke-width="1"/>
<line x1="862.7" y1="58.4" x2="862.7" y2="63.4" stroke="#333" stroke-width="1"/>
<text transform="translate(864.4,371.0) scale(0.975,1)" font-size="12.86" text-anchor="middle" fill="#3a3a3a" font-family="'DejaVu Sans', 'Liberation Sans', sans-serif" >250</text>
<line x1="912.9" y1="350.4" x2="912.9" y2="345.4" stroke="#333" stroke-width="1"/>
<line x1="912.9" y1="58.4" x2="912.9" y2="63.4" stroke="#333" stroke-width="1"/>
<text transform="translate(914.6,371.0) scale(0.975,1)" font-size="12.86" text-anchor="middle" fill="#3a3a3a" font-family="'DejaVu Sans', 'Liberation Sans', sans-serif" >300</text>
<line x1="963.1" y1="350.4" x2="963.1" y2="345.4" stroke="#333" stroke-width="1"/>
<line x1="963.1" y1="58.4" x2="963.1" y2="63.4" stroke="#333" stroke-width="1"/>
<text transform="translate(964.8,371.0) scale(0.975,1)" font-size="12.86" text-anchor="middle" fill="#3a3a3a" font-family="'DejaVu Sans', 'Liberation Sans', sans-serif" >350</text>
<line x1="611.7" y1="350.4" x2="616.7" y2="350.4" stroke="#333" stroke-width="1"/>
<text transform="translate(602.5,354.9) scale(0.975,1)" font-size="12.86" text-anchor="end" fill="#3a3a3a" font-family="'DejaVu Sans', 'Liberation Sans', sans-serif" >0</text>
<line x1="611.7" y1="301.7" x2="616.7" y2="301.7" stroke="#333" stroke-width="1"/>
<text transform="translate(602.5,306.2) scale(0.975,1)" font-size="12.86" text-anchor="end" fill="#3a3a3a" font-family="'DejaVu Sans', 'Liberation Sans', sans-serif" >2000</text>
<line x1="611.7" y1="253.1" x2="616.7" y2="253.1" stroke="#333" stroke-width="1"/>
<text transform="translate(602.5,257.6) scale(0.975,1)" font-size="12.86" text-anchor="end" fill="#3a3a3a" font-family="'DejaVu Sans', 'Liberation Sans', sans-serif" >4000</text>
<line x1="611.7" y1="204.4" x2="616.7" y2="204.4" stroke="#333" stroke-width="1"/>
<text transform="translate(602.5,208.9) scale(0.975,1)" font-size="12.86" text-anchor="end" fill="#3a3a3a" font-family="'DejaVu Sans', 'Liberation Sans', sans-serif" >6000</text>
<line x1="611.7" y1="155.7" x2="616.7" y2="155.7" stroke="#333" stroke-width="1"/>
<text transform="translate(602.5,160.2) scale(0.975,1)" font-size="12.86" text-anchor="end" fill="#3a3a3a" font-family="'DejaVu Sans', 'Liberation Sans', sans-serif" >8000</text>
<line x1="611.7" y1="107.1" x2="616.7" y2="107.1" stroke="#333" stroke-width="1"/>
<text transform="translate(602.5,111.6) scale(0.975,1)" font-size="12.86" text-anchor="end" fill="#3a3a3a" font-family="'DejaVu Sans', 'Liberation Sans', sans-serif" >10000</text>
<line x1="611.7" y1="58.4" x2="616.7" y2="58.4" stroke="#333" stroke-width="1"/>
<text transform="translate(602.5,62.9) scale(0.975,1)" font-size="12.86" text-anchor="end" fill="#3a3a3a" font-family="'DejaVu Sans', 'Liberation Sans', sans-serif" >12000</text>
<line x1="963.1" y1="350.4" x2="958.1" y2="350.4" stroke="#333" stroke-width="1"/>
<text transform="translate(974.6,354.9) scale(0.975,1)" font-size="12.86" text-anchor="start" fill="#3a3a3a" font-family="'DejaVu Sans', 'Liberation Sans', sans-serif" >0</text>
<line x1="963.1" y1="321.2" x2="958.1" y2="321.2" stroke="#333" stroke-width="1"/>
<text transform="translate(974.6,325.7) scale(0.975,1)" font-size="12.86" text-anchor="start" fill="#3a3a3a" font-family="'DejaVu Sans', 'Liberation Sans', sans-serif" >200</text>
<line x1="963.1" y1="292.0" x2="958.1" y2="292.0" stroke="#333" stroke-width="1"/>
<text transform="translate(974.6,296.5) scale(0.975,1)" font-size="12.86" text-anchor="start" fill="#3a3a3a" font-family="'DejaVu Sans', 'Liberation Sans', sans-serif" >400</text>
<line x1="963.1" y1="262.8" x2="958.1" y2="262.8" stroke="#333" stroke-width="1"/>
<text transform="translate(974.6,267.3) scale(0.975,1)" font-size="12.86" text-anchor="start" fill="#3a3a3a" font-family="'DejaVu Sans', 'Liberation Sans', sans-serif" >600</text>
<line x1="963.1" y1="233.6" x2="958.1" y2="233.6" stroke="#333" stroke-width="1"/>
<text transform="translate(974.6,238.1) scale(0.975,1)" font-size="12.86" text-anchor="start" fill="#3a3a3a" font-family="'DejaVu Sans', 'Liberation Sans', sans-serif" >800</text>
<line x1="963.1" y1="204.4" x2="958.1" y2="204.4" stroke="#333" stroke-width="1"/>
<text transform="translate(974.6,208.9) scale(0.975,1)" font-size="12.86" text-anchor="start" fill="#3a3a3a" font-family="'DejaVu Sans', 'Liberation Sans', sans-serif" >1000</text>
<line x1="963.1" y1="175.2" x2="958.1" y2="175.2" stroke="#333" stroke-width="1"/>
<text transform="translate(974.6,179.7) scale(0.975,1)" font-size="12.86" text-anchor="start" fill="#3a3a3a" font-family="'DejaVu Sans', 'Liberation Sans', sans-serif" >1200</text>
<line x1="963.1" y1="146.0" x2="958.1" y2="146.0" stroke="#333" stroke-width="1"/>
<text transform="translate(974.6,150.5) scale(0.975,1)" font-size="12.86" text-anchor="start" fill="#3a3a3a" font-family="'DejaVu Sans', 'Liberation Sans', sans-serif" >1400</text>
<line x1="963.1" y1="116.8" x2="958.1" y2="116.8" stroke="#333" stroke-width="1"/>
<text transform="translate(974.6,121.3) scale(0.975,1)" font-size="12.86" text-anchor="start" fill="#3a3a3a" font-family="'DejaVu Sans', 'Liberation Sans', sans-serif" >1600</text>
<line x1="963.1" y1="87.6" x2="958.1" y2="87.6" stroke="#333" stroke-width="1"/>
<text transform="translate(974.6,92.1) scale(0.975,1)" font-size="12.86" text-anchor="start" fill="#3a3a3a" font-family="'DejaVu Sans', 'Liberation Sans', sans-serif" >1800</text>
<line x1="963.1" y1="58.4" x2="958.1" y2="58.4" stroke="#333" stroke-width="1"/>
<text transform="translate(974.6,62.9) scale(0.975,1)" font-size="12.86" text-anchor="start" fill="#3a3a3a" font-family="'DejaVu Sans', 'Liberation Sans', sans-serif" >2000</text>
<text transform="translate(787.3,392.7) scale(0.975,1)" font-size="12.86" text-anchor="middle" fill="#3a3a3a" font-family="'DejaVu Sans', 'Liberation Sans', sans-serif" >days</text>
<polyline points="611.7,350.4 612.5,349.0 612.7,346.7 615.5,307.5 616.2,304.0 617.2,301.5 619.0,299.3 621.2,298.3 639.8,298.1 640.6,234.3 641.3,200.4 642.1,187.1 642.8,180.8 643.6,177.3 645.3,174.3 646.3,173.4 647.1,173.2 653.1,173.8 658.4,174.8 664.9,176.4 667.9,176.8 668.2,175.2 668.9,110.1 669.7,90.7 670.4,81.7 670.9,78.8 672.7,74.9 674.2,73.4 675.7,73.4 677.7,74.3 686.2,80.7 695.5,89.7 703.8,99.2 711.6,109.8 722.4,126.7 731.2,141.8 738.2,154.8 741.5,160.0 744.0,163.0 746.2,164.6 748.5,165.8 751.8,166.7 756.5,167.4 785.4,170.5 808.7,172.4 856.4,175.5 883.0,177.6 923.9,181.4 963.1,185.7" fill="none" stroke="#4db5a3" stroke-width="1.3" stroke-linejoin="round" stroke-linecap="round" opacity="1.0"/>
<polyline points="611.7,318.8 613.0,319.1 613.2,317.7 616.2,267.5 617.5,257.8 618.7,252.8 619.7,251.1 621.0,250.0 623.2,249.1 625.3,249.2 627.3,250.2 631.5,253.4 638.1,260.4 639.8,261.2 640.1,259.7 640.8,186.1 641.6,153.3 642.6,133.9 643.8,123.8 645.1,117.3 645.8,115.4 646.3,115.1 647.1,115.8 648.1,118.0 651.6,130.6 662.4,164.7 665.7,176.9 666.9,180.2 667.9,181.4 668.2,180.7 669.4,133.8 671.2,117.3 671.9,113.6 672.7,112.2 673.4,112.8 674.5,115.4 679.0,133.6 684.7,162.0 691.8,199.7 698.3,231.4 704.6,259.0 713.4,293.6 719.1,312.3 725.2,327.1 727.7,332.1 729.9,335.6 732.9,339.3 735.9,342.2 740.5,345.4 744.0,346.8 751.3,347.9 764.6,348.6 963.1,344.6" fill="none" stroke="#45aee8" stroke-width="1.8" stroke-linejoin="round" stroke-linecap="round" opacity="1.0"/>
<polyline points="611.7,317.6 613.0,318.0 613.2,316.6 616.5,260.1 618.0,251.0 620.2,243.7 621.0,242.2 621.7,241.4 623.7,241.0 625.5,241.0 627.8,242.2 637.6,249.8 639.8,250.6 640.1,249.1 640.8,168.0 641.6,127.7 642.6,105.0 643.6,96.2 644.8,88.9 645.6,86.4 646.3,85.8 647.3,86.7 648.6,89.5 655.6,111.0 661.9,131.4 666.2,148.6 667.2,151.2 667.9,152.0 668.2,151.2 669.4,87.6 670.9,71.8 671.7,67.8 672.4,66.4 673.2,67.3 673.9,69.8 677.5,89.1 687.8,132.3 698.3,187.1 702.3,206.2 709.3,237.2 714.6,258.0 720.1,276.1 723.1,284.3 726.2,291.4 729.7,298.7 732.7,304.0 736.9,310.1 740.0,313.5 743.0,315.4 747.0,316.9 756.3,317.7 963.1,317.8" fill="none" stroke="#000000" stroke-width="2.0" stroke-linejoin="round" stroke-linecap="round" opacity="1.0"/>
<text transform="translate(900.3,76.3) scale(0.975,1)" font-size="12.86" text-anchor="end" fill="#3a3a3a" font-family="'DejaVu Sans', 'Liberation Sans', sans-serif" >Total</text>
<line x1="908.3" y1="71.8" x2="947.0" y2="71.8" stroke="#000000" stroke-width="2.0"/>
<text transform="translate(900.3,91.7) scale(0.975,1)" font-size="12.86" text-anchor="end" fill="#3a3a3a" font-family="'DejaVu Sans', 'Liberation Sans', sans-serif" >TH not Mem</text>
<line x1="908.3" y1="87.2" x2="947.0" y2="87.2" stroke="#45aee8" stroke-width="2.0"/>
<text transform="translate(900.3,107.2) scale(0.975,1)" font-size="12.86" text-anchor="end" fill="#3a3a3a" font-family="'DejaVu Sans', 'Liberation Sans', sans-serif" >TH Mem (y2)</text>
<line x1="908.3" y1="102.7" x2="947.0" y2="102.7" stroke="#4db5a3" stroke-width="2.0"/>
<text class="L" x="1060.5" y="31.7" font-size="42" fill="#000" font-family="'Liberation Serif', 'DejaVu Serif', serif">C</text>
<text transform="translate(1279.3,40.0) scale(0.96,1)" font-size="12.86" text-anchor="middle" fill="#3a3a3a" font-family="'DejaVu Sans', 'Liberation Sans', sans-serif">TC cell population (cells per mm<tspan dy="-5" font-size="9.6">3</tspan><tspan dy="5">)</tspan></text>
<rect x="1094.5" y="58.6" width="369.4" height="293.3" fill="none" stroke="#333" stroke-width="1.2"/>
<line x1="1094.5" y1="351.9" x2="1094.5" y2="346.9" stroke="#333" stroke-width="1"/>
<line x1="1094.5" y1="58.6" x2="1094.5" y2="63.6" stroke="#333" stroke-width="1"/>
<text transform="translate(1096.2,373.3) scale(0.975,1)" font-size="12.86" text-anchor="middle" fill="#3a3a3a" font-family="'DejaVu Sans', 'Liberation Sans', sans-serif" >0</text>
<line x1="1147.3" y1="351.9" x2="1147.3" y2="346.9" stroke="#333" stroke-width="1"/>
<line x1="1147.3" y1="58.6" x2="1147.3" y2="63.6" stroke="#333" stroke-width="1"/>
<text transform="translate(1149.0,373.3) scale(0.975,1)" font-size="12.86" text-anchor="middle" fill="#3a3a3a" font-family="'DejaVu Sans', 'Liberation Sans', sans-serif" >50</text>
<line x1="1200.0" y1="351.9" x2="1200.0" y2="346.9" stroke="#333" stroke-width="1"/>
<line x1="1200.0" y1="58.6" x2="1200.0" y2="63.6" stroke="#333" stroke-width="1"/>
<text transform="translate(1201.7,373.3) scale(0.975,1)" font-size="12.86" text-anchor="middle" fill="#3a3a3a" font-family="'DejaVu Sans', 'Liberation Sans', sans-serif" >100</text>
<line x1="1252.8" y1="351.9" x2="1252.8" y2="346.9" stroke="#333" stroke-width="1"/>
<line x1="1252.8" y1="58.6" x2="1252.8" y2="63.6" stroke="#333" stroke-width="1"/>
<text transform="translate(1254.5,373.3) scale(0.975,1)" font-size="12.86" text-anchor="middle" fill="#3a3a3a" font-family="'DejaVu Sans', 'Liberation Sans', sans-serif" >150</text>
<line x1="1305.6" y1="351.9" x2="1305.6" y2="346.9" stroke="#333" stroke-width="1"/>
<line x1="1305.6" y1="58.6" x2="1305.6" y2="63.6" stroke="#333" stroke-width="1"/>
<text transform="translate(1307.3,373.3) scale(0.975,1)" font-size="12.86" text-anchor="middle" fill="#3a3a3a" font-family="'DejaVu Sans', 'Liberation Sans', sans-serif" >200</text>
<line x1="1358.4" y1="351.9" x2="1358.4" y2="346.9" stroke="#333" stroke-width="1"/>
<line x1="1358.4" y1="58.6" x2="1358.4" y2="63.6" stroke="#333" stroke-width="1"/>
<text transform="translate(1360.1,373.3) scale(0.975,1)" font-size="12.86" text-anchor="middle" fill="#3a3a3a" font-family="'DejaVu Sans', 'Liberation Sans', sans-serif" >250</text>
<line x1="1411.1" y1="351.9" x2="1411.1" y2="346.9" stroke="#333" stroke-width="1"/>
<line x1="1411.1" y1="58.6" x2="1411.1" y2="63.6" stroke="#333" stroke-width="1"/>
<text transform="translate(1412.8,373.3) scale(0.975,1)" font-size="12.86" text-anchor="middle" fill="#3a3a3a" font-family="'DejaVu Sans', 'Liberation Sans', sans-serif" >300</text>
<line x1="1463.9" y1="351.9" x2="1463.9" y2="346.9" stroke="#333" stroke-width="1"/>
<line x1="1463.9" y1="58.6" x2="1463.9" y2="63.6" stroke="#333" stroke-width="1"/>
<text transform="translate(1465.6,373.3) scale(0.975,1)" font-size="12.86" text-anchor="middle" fill="#3a3a3a" font-family="'DejaVu Sans', 'Liberation Sans', sans-serif" >350</text>
<line x1="1094.5" y1="351.9" x2="1099.5" y2="351.9" stroke="#333" stroke-width="1"/>
<text transform="translate(1085.0,356.4) scale(0.975,1)" font-size="12.86" text-anchor="end" fill="#3a3a3a" font-family="'DejaVu Sans', 'Liberation Sans', sans-serif" >1088</text>
<line x1="1094.5" y1="322.6" x2="1099.5" y2="322.6" stroke="#333" stroke-width="1"/>
<text transform="translate(1085.0,327.1) scale(0.975,1)" font-size="12.86" text-anchor="end" fill="#3a3a3a" font-family="'DejaVu Sans', 'Liberation Sans', sans-serif" >1090</text>
<line x1="1094.5" y1="293.2" x2="1099.5" y2="293.2" stroke="#333" stroke-width="1"/>
<text transform="translate(1085.0,297.7) scale(0.975,1)" font-size="12.86" text-anchor="end" fill="#3a3a3a" font-family="'DejaVu Sans', 'Liberation Sans', sans-serif" >1092</text>
<line x1="1094.5" y1="263.9" x2="1099.5" y2="263.9" stroke="#333" stroke-width="1"/>
<text transform="translate(1085.0,268.4) scale(0.975,1)" font-size="12.86" text-anchor="end" fill="#3a3a3a" font-family="'DejaVu Sans', 'Liberation Sans', sans-serif" >1094</text>
<line x1="1094.5" y1="234.6" x2="1099.5" y2="234.6" stroke="#333" stroke-width="1"/>
<text transform="translate(1085.0,239.1) scale(0.975,1)" font-size="12.86" text-anchor="end" fill="#3a3a3a" font-family="'DejaVu Sans', 'Liberation Sans', sans-serif" >1096</text>
<line x1="1094.5" y1="205.2" x2="1099.5" y2="205.2" stroke="#333" stroke-width="1"/>
<text transform="translate(1085.0,209.8) scale(0.975,1)" font-size="12.86" text-anchor="end" fill="#3a3a3a" font-family="'DejaVu Sans', 'Liberation Sans', sans-serif" >1098</text>
<line x1="1094.5" y1="175.9" x2="1099.5" y2="175.9" stroke="#333" stroke-width="1"/>
<text transform="translate(1085.0,180.4) scale(0.975,1)" font-size="12.86" text-anchor="end" fill="#3a3a3a" font-family="'DejaVu Sans', 'Liberation Sans', sans-serif" >1100</text>
<line x1="1094.5" y1="146.6" x2="1099.5" y2="146.6" stroke="#333" stroke-width="1"/>
<text transform="translate(1085.0,151.1) scale(0.975,1)" font-size="12.86" text-anchor="end" fill="#3a3a3a" font-family="'DejaVu Sans', 'Liberation Sans', sans-serif" >1102</text>
<line x1="1094.5" y1="117.3" x2="1099.5" y2="117.3" stroke="#333" stroke-width="1"/>
<text transform="translate(1085.0,121.8) scale(0.975,1)" font-size="12.86" text-anchor="end" fill="#3a3a3a" font-family="'DejaVu Sans', 'Liberation Sans', sans-serif" >1104</text>
<line x1="1094.5" y1="87.9" x2="1099.5" y2="87.9" stroke="#333" stroke-width="1"/>
<text transform="translate(1085.0,92.4) scale(0.975,1)" font-size="12.86" text-anchor="end" fill="#3a3a3a" font-family="'DejaVu Sans', 'Liberation Sans', sans-serif" >1106</text>
<line x1="1094.5" y1="58.6" x2="1099.5" y2="58.6" stroke="#333" stroke-width="1"/>
<text transform="translate(1085.0,63.1) scale(0.975,1)" font-size="12.86" text-anchor="end" fill="#3a3a3a" font-family="'DejaVu Sans', 'Liberation Sans', sans-serif" >1108</text>
<line x1="1463.9" y1="351.9" x2="1458.9" y2="351.9" stroke="#333" stroke-width="1"/>
<text transform="translate(1472.7,356.4) scale(0.975,1)" font-size="12.86" text-anchor="start" fill="#3a3a3a" font-family="'DejaVu Sans', 'Liberation Sans', sans-serif" >-1</text>
<line x1="1463.9" y1="278.6" x2="1458.9" y2="278.6" stroke="#333" stroke-width="1"/>
<text transform="translate(1472.7,283.1) scale(0.975,1)" font-size="12.86" text-anchor="start" fill="#3a3a3a" font-family="'DejaVu Sans', 'Liberation Sans', sans-serif" >-0.5</text>
<line x1="1463.9" y1="205.2" x2="1458.9" y2="205.2" stroke="#333" stroke-width="1"/>
<text transform="translate(1472.7,209.8) scale(0.975,1)" font-size="12.86" text-anchor="start" fill="#3a3a3a" font-family="'DejaVu Sans', 'Liberation Sans', sans-serif" >0</text>
<line x1="1463.9" y1="131.9" x2="1458.9" y2="131.9" stroke="#333" stroke-width="1"/>
<text transform="translate(1472.7,136.4) scale(0.975,1)" font-size="12.86" text-anchor="start" fill="#3a3a3a" font-family="'DejaVu Sans', 'Liberation Sans', sans-serif" >0.5</text>
<line x1="1463.9" y1="58.6" x2="1458.9" y2="58.6" stroke="#333" stroke-width="1"/>
<text transform="translate(1472.7,63.1) scale(0.975,1)" font-size="12.86" text-anchor="start" fill="#3a3a3a" font-family="'DejaVu Sans', 'Liberation Sans', sans-serif" >1</text>
<text transform="translate(1278.5,394.1) scale(0.975,1)" font-size="12.86" text-anchor="middle" fill="#3a3a3a" font-family="'DejaVu Sans', 'Liberation Sans', sans-serif" >days</text>
<polyline points="1094.5,221.0 1094.9,216.7 1095.3,215.9 1095.8,231.6 1097.5,167.9 1097.9,176.0 1098.3,163.9 1098.7,185.1 1099.1,162.5 1099.6,170.7 1100.0,148.1 1100.4,152.5 1100.8,149.6 1101.3,163.2 1101.7,161.4 1102.1,169.0 1103.8,217.0 1104.6,225.6 1105.1,244.9 1105.5,243.0 1105.9,272.4 1106.3,256.6 1106.7,264.1 1107.2,255.0 1107.6,256.0 1108.9,224.3 1110.1,207.0 1111.0,248.5 1111.4,237.7 1111.8,251.9 1112.7,243.3 1113.5,256.8 1114.3,226.6 1114.8,239.6 1115.2,226.7 1115.6,222.5 1116.0,234.5 1116.5,221.5 1117.3,226.3 1118.1,237.2 1118.6,231.2 1119.0,244.5 1119.8,191.3 1120.3,178.0 1121.5,161.9 1121.9,166.7 1122.4,196.3 1122.8,204.7 1123.2,189.9 1124.1,221.4 1124.5,231.2 1124.9,232.8 1125.3,262.4 1126.2,283.9 1126.6,283.9 1127.4,259.6 1127.9,258.1 1128.3,264.7 1129.1,241.5 1129.5,252.5 1130.4,236.0 1130.8,235.1 1131.2,241.3 1131.7,209.5 1132.1,223.7 1132.5,222.1 1133.3,209.5 1133.8,237.3 1134.2,215.8 1135.0,240.4 1135.5,242.5 1135.9,267.9 1136.7,255.2 1137.1,262.0 1137.6,262.8 1138.0,261.9 1138.4,258.7 1138.8,237.5 1139.3,254.2 1140.1,267.2 1140.5,252.1 1140.9,264.0 1141.4,256.0 1141.8,289.5 1142.2,270.7 1142.6,282.7 1143.0,279.1 1143.9,313.1 1144.3,292.9 1144.7,297.7 1145.2,312.9 1145.6,313.5 1146.0,281.4 1146.4,287.6 1146.8,251.2 1147.3,272.2 1148.1,232.3 1148.5,238.4 1149.4,174.3 1150.6,199.6 1151.1,181.9 1151.5,177.8 1152.3,180.5 1153.2,157.0 1153.6,162.8 1154.0,157.3 1154.4,190.7 1155.3,166.6 1155.7,166.0 1156.1,183.7 1157.0,171.5 1157.4,178.7 1158.2,177.1 1159.1,220.0 1159.5,221.9 1159.9,207.4 1160.4,241.1 1160.8,241.4 1162.0,298.3 1163.7,313.6 1165.0,269.2 1165.4,268.4 1165.8,263.1 1166.7,248.1 1167.1,249.7 1168.0,219.1 1168.4,229.9 1169.2,159.8 1170.1,198.8 1170.9,147.3 1171.3,161.0 1171.8,154.1 1172.2,161.2 1173.0,141.2 1173.4,142.2 1173.9,161.0 1174.3,161.4 1174.7,154.1 1175.1,178.0 1175.6,170.7 1176.4,180.5 1176.8,159.5 1177.2,168.7 1177.7,163.7 1178.1,171.9 1178.9,150.3 1179.4,163.1 1179.8,165.8 1180.2,187.8 1181.0,209.6 1181.5,243.3 1182.3,266.9 1183.6,235.1 1184.4,201.0 1184.8,195.0 1185.3,197.7 1185.7,179.6 1186.5,161.8 1187.0,134.5 1187.4,154.6 1187.8,147.0 1188.2,149.8 1189.5,79.8 1190.3,93.9 1190.8,79.1 1191.2,106.7 1191.6,83.5 1192.0,79.1 1194.1,115.6 1194.6,159.0 1195.0,149.3 1195.4,151.4 1196.2,191.8 1196.7,189.7 1197.1,206.8 1197.5,191.4 1197.9,188.7 1198.8,237.6 1199.2,220.8 1199.6,229.0 1200.5,216.6 1200.9,231.6 1201.3,212.4 1202.2,234.0 1202.6,258.2 1203.0,245.5 1203.4,269.3 1203.8,245.0 1204.3,253.8 1204.7,241.3 1205.5,275.6 1206.0,259.1 1206.4,260.6 1206.8,259.3 1207.2,275.6 1207.6,275.6 1208.1,257.3 1208.5,261.7 1208.9,257.7 1209.3,248.1 1209.8,197.7 1210.2,224.5 1211.4,198.9 1211.9,181.0 1212.3,178.9 1212.7,178.9 1213.6,194.8 1214.4,223.4 1214.8,195.2 1215.2,223.7 1215.7,220.1 1216.1,229.9 1216.9,223.5 1217.4,232.2 1218.2,205.4 1219.0,197.2 1219.5,175.7 1219.9,179.2 1220.3,177.9 1220.7,207.5 1221.6,163.7 1222.0,176.9 1222.4,164.2 1222.8,163.8 1223.7,145.9 1225.0,145.9 1225.8,196.8 1226.2,174.4 1227.1,200.7 1227.5,171.6 1227.9,186.2 1228.3,185.2 1228.8,191.2 1230.0,238.8 1230.4,234.3 1230.9,232.7 1231.3,261.6 1231.7,230.9 1232.1,248.4 1232.6,244.4 1233.0,249.9 1233.4,278.2 1233.8,262.6 1234.2,257.1 1234.7,268.4 1235.5,247.9 1235.9,264.7 1236.8,236.1 1237.2,238.0 1237.6,252.7 1238.5,217.7 1238.9,217.7 1239.7,241.1 1240.1,233.8 1240.6,248.9 1241.0,250.7 1241.4,250.7 1242.3,213.9 1242.7,241.9 1243.1,212.0 1243.5,231.0 1243.9,219.4 1244.4,223.4 1245.2,189.3 1245.6,232.7 1246.1,189.8 1246.9,219.7 1247.3,220.7 1247.7,188.3 1248.2,199.9 1248.6,177.5 1249.0,186.1 1249.4,185.4 1249.9,171.7 1250.3,180.6 1250.7,178.4 1251.1,171.6 1251.5,173.9 1252.0,169.0 1252.4,169.0 1252.8,187.8 1253.2,181.0 1253.7,178.8 1254.1,182.2 1254.5,195.4 1255.3,193.9 1255.8,203.3 1256.2,184.6 1256.6,218.4 1257.0,220.1 1257.5,233.8 1257.9,224.2 1258.7,246.4 1259.1,222.2 1259.6,215.5 1260.0,216.8 1260.4,247.0 1260.8,244.5 1261.3,221.5 1261.7,241.3 1262.1,234.1 1262.5,238.7 1262.9,224.0 1263.8,210.3 1264.2,216.9 1264.6,212.3 1265.1,223.3 1265.5,210.3 1266.3,227.1 1266.7,252.4 1267.2,238.3 1267.6,267.3 1268.0,260.7 1268.4,288.8 1268.9,285.8 1269.3,274.6 1269.7,288.8 1270.1,280.5 1270.5,281.5 1271.4,266.8 1271.8,276.2 1272.7,259.8 1273.5,256.2 1273.9,247.8 1274.3,257.9 1274.8,250.4 1275.6,264.4 1276.0,247.8 1276.5,258.5 1276.9,248.6 1277.3,247.9 1277.7,268.6 1278.1,270.4 1278.6,278.9 1279.0,253.1 1279.4,291.4 1279.8,298.6 1280.3,278.3 1280.7,286.3 1281.1,282.7 1281.9,291.5 1282.4,265.9 1283.6,232.9 1284.1,228.9 1284.5,212.0 1284.9,218.0 1285.3,216.8 1285.7,230.9 1286.6,199.4 1287.0,194.9 1287.4,194.2 1287.9,212.7 1288.3,211.1 1288.7,199.4 1289.1,205.4 1289.5,203.5 1290.0,193.5 1290.4,213.0 1290.8,199.1 1291.2,193.5 1291.7,193.5 1292.1,197.1 1292.5,219.7 1292.9,220.1 1293.3,225.5 1293.8,220.0 1294.6,230.7 1295.0,219.6 1295.9,253.3 1296.3,258.0 1296.7,248.3 1297.1,258.0 1297.6,231.6 1298.0,248.5 1298.4,254.3 1298.8,256.6 1299.3,252.4 1300.1,207.6 1300.5,206.7 1301.4,220.6 1301.8,247.0 1302.2,225.8 1302.6,248.7 1303.1,247.7 1303.9,292.2 1304.3,289.5 1304.7,303.2 1305.2,291.8 1305.6,310.9 1306.4,286.7 1306.9,283.5 1307.7,264.1 1308.1,240.3 1308.5,247.7 1309.0,231.9 1309.4,237.3 1309.8,222.0 1310.2,217.5 1310.7,187.6 1311.1,201.7 1311.5,182.2 1311.9,184.6 1312.3,171.6 1312.8,181.7 1313.6,147.9 1314.0,169.0 1314.5,147.9 1314.9,147.9 1315.3,167.9 1315.7,156.4 1316.1,182.8 1316.6,187.5 1317.0,181.6 1317.8,220.0 1318.3,195.5 1318.7,225.0 1319.1,221.6 1320.8,284.0 1321.2,256.0 1321.6,290.6 1322.1,289.4 1322.5,307.5 1322.9,292.2 1323.3,291.9 1323.7,298.3 1324.2,293.1 1325.4,341.6 1325.8,322.7 1326.3,335.1 1326.7,321.6 1327.1,322.2 1328.0,276.1 1328.4,297.1 1328.8,288.2 1329.2,313.7 1329.6,269.7 1330.1,279.0 1330.5,270.4 1330.9,280.0 1331.8,286.9 1332.2,260.8 1332.6,257.2 1333.0,267.9 1333.4,258.6 1333.9,273.3 1334.3,266.5 1335.1,295.7 1335.6,289.7 1336.0,295.7 1336.4,270.1 1336.8,282.6 1337.2,286.1 1338.9,230.1 1339.4,246.4 1339.8,224.2 1340.2,232.1 1340.6,233.6 1341.0,232.3 1341.5,225.8 1341.9,242.8 1342.7,205.8 1343.2,198.5 1343.6,197.9 1344.0,214.5 1344.8,185.4 1345.3,182.7 1345.7,196.8 1346.5,210.1 1347.0,184.9 1347.4,176.2 1347.8,188.2 1348.2,174.9 1348.6,176.0 1349.1,171.0 1349.5,184.7 1349.9,172.0 1350.8,183.5 1351.6,154.6 1352.0,173.8 1352.9,142.8 1353.3,172.8 1353.7,139.1 1354.6,141.6 1355.0,141.1 1355.4,141.6 1355.8,131.5 1356.2,155.1 1356.7,157.0 1357.1,171.8 1357.5,156.7 1357.9,159.4 1358.4,189.6 1359.2,164.1 1360.5,207.8 1361.3,164.9 1361.7,193.5 1362.2,188.7 1362.6,190.6 1363.0,188.9 1363.8,195.4 1364.3,211.8 1364.7,185.7 1365.1,193.9 1365.5,222.4 1366.0,210.7 1366.4,222.3 1367.2,199.0 1367.6,222.3 1368.9,222.4 1369.3,197.5 1370.2,206.3 1370.6,206.5 1371.0,213.0 1371.4,210.8 1371.9,192.1 1372.3,193.6 1372.7,202.7 1373.1,204.5 1373.6,201.3 1374.0,192.1 1374.4,214.6 1374.8,215.1 1375.2,213.4 1375.7,234.0 1376.5,236.7 1376.9,222.9 1377.4,221.2 1378.2,236.7 1379.0,228.0 1379.5,227.2 1379.9,227.7 1380.3,214.0 1380.7,230.4 1381.2,222.4 1381.6,223.7 1382.0,224.1 1382.4,230.3 1383.3,233.0 1383.7,240.7 1384.1,240.8 1384.5,249.2 1385.0,249.6 1385.4,219.4 1385.8,212.1 1386.2,222.5 1387.1,180.9 1387.5,183.2 1388.3,166.5 1388.8,183.6 1389.2,177.7 1389.6,157.1 1390.0,169.3 1390.4,170.8 1390.9,199.3 1391.3,195.3 1391.7,210.5 1392.1,214.4 1392.6,248.2 1394.2,280.0 1394.7,266.7 1395.1,274.9 1395.5,233.9 1395.9,266.9 1396.8,268.8 1397.2,251.8 1397.6,247.5 1398.0,251.1 1398.5,247.5 1399.3,247.5 1401.0,275.0 1401.4,263.8 1402.3,295.4 1403.1,307.0 1404.0,286.1 1404.4,314.3 1404.8,314.3 1405.2,296.2 1405.6,307.5 1406.1,280.1 1406.5,287.8 1406.9,273.7 1407.8,295.8 1408.6,259.6 1409.0,266.9 1409.4,267.9 1409.9,258.0 1410.7,248.4 1411.1,246.5 1411.6,210.6 1412.0,234.5 1412.4,231.4 1412.8,234.3 1413.2,207.0 1413.7,225.5 1414.1,196.5 1414.9,224.4 1415.4,196.4 1415.8,192.9 1416.2,170.6 1416.6,202.8 1417.0,180.3 1417.5,181.3 1417.9,163.4 1418.7,181.7 1419.1,162.7 1420.0,215.7 1420.4,206.7 1420.8,215.7 1421.7,215.7 1422.1,210.1 1422.5,212.7 1423.4,193.4 1423.8,208.8 1424.6,166.6 1425.1,194.9 1425.5,178.1 1425.9,176.3 1426.3,167.0 1426.7,168.5 1428.0,181.5 1428.9,205.3 1429.3,183.3 1429.7,199.5 1430.1,182.9 1431.0,230.9 1431.4,236.0 1431.8,257.2 1432.2,260.7 1432.7,277.9 1433.9,277.9 1434.3,232.7 1434.8,233.4 1435.2,256.9 1435.6,228.2 1436.0,229.2 1436.5,187.5 1436.9,206.5 1437.3,207.2 1437.7,216.6 1438.1,194.8 1438.6,193.2 1439.0,193.5 1439.8,188.0 1440.3,172.4 1441.1,185.0 1441.5,181.1 1441.9,180.2 1442.4,167.0 1442.8,183.2 1443.6,124.7 1444.1,133.0 1444.5,131.1 1444.9,118.7 1445.3,126.6 1445.7,128.1 1446.2,120.4 1446.6,140.1 1447.0,121.0 1447.4,144.1 1448.3,160.6 1448.7,162.3 1449.1,182.0 1450.0,161.2 1450.8,179.7 1451.2,174.1 1452.1,186.3 1452.5,183.8 1452.9,177.0 1453.3,178.8 1453.8,195.9 1454.2,190.8 1454.6,194.3 1455.0,205.4 1455.5,186.7 1455.9,192.3 1456.3,220.1 1456.7,220.5 1457.1,182.6 1457.6,204.5 1458.0,191.2 1458.4,215.2 1458.8,196.2 1459.7,226.9 1460.1,226.4 1460.5,217.6 1460.9,221.9 1462.2,269.2 1462.6,254.3 1463.9,280.0" fill="none" stroke="#4aa8e0" stroke-width="1.8" stroke-linejoin="round" stroke-linecap="round" opacity="1.0"/>
<polyline points="1094.5,205.2 1463.9,205.2" fill="none" stroke="#10957f" stroke-width="1.8" stroke-linejoin="round" stroke-linecap="round" opacity="1.0"/>
<text transform="translate(1401.0,77.1) scale(0.975,1)" font-size="12.86" text-anchor="end" fill="#3a3a3a" font-family="'DejaVu Sans', 'Liberation Sans', sans-serif" >Total</text>
<line x1="1408.9" y1="72.6" x2="1447.7" y2="72.6" stroke="#000000" stroke-width="2.0"/>
<text transform="translate(1401.0,92.3) scale(0.975,1)" font-size="12.86" text-anchor="end" fill="#3a3a3a" font-family="'DejaVu Sans', 'Liberation Sans', sans-serif" >TC not Mem</text>
<line x1="1408.9" y1="87.8" x2="1447.7" y2="87.8" stroke="#45aee8" stroke-width="2.0"/>
<text transform="translate(1401.0,107.7) scale(0.975,1)" font-size="12.86" text-anchor="end" fill="#3a3a3a" font-family="'DejaVu Sans', 'Liberation Sans', sans-serif" >TC Mem (y2)</text>
<line x1="1408.9" y1="103.2" x2="1447.7" y2="103.2" stroke="#10957f" stroke-width="2.0"/>
<text class="L" x="1507.7" y="37.7" font-size="42" fill="#000" font-family="'Liberation Serif', 'DejaVu Serif', serif">D</text>
<text transform="translate(1748.9,41.5) scale(0.96,1)" font-size="12.60" text-anchor="middle" fill="#3a3a3a" font-family="'DejaVu Sans', 'Liberation Sans', sans-serif">NK cell population (cells per mm<tspan dy="-5" font-size="9.5">3</tspan><tspan dy="5">)</tspan></text>
<rect x="1558.0" y="59.6" width="382.2" height="285.1" fill="none" stroke="#333" stroke-width="1.2"/>
<line x1="1558.0" y1="344.7" x2="1558.0" y2="339.7" stroke="#333" stroke-width="1"/>
<line x1="1558.0" y1="59.6" x2="1558.0" y2="64.6" stroke="#333" stroke-width="1"/>
<text transform="translate(1559.7,364.3) scale(0.975,1)" font-size="12.60" text-anchor="middle" fill="#3a3a3a" font-family="'DejaVu Sans', 'Liberation Sans', sans-serif" >0</text>
<line x1="1612.6" y1="344.7" x2="1612.6" y2="339.7" stroke="#333" stroke-width="1"/>
<line x1="1612.6" y1="59.6" x2="1612.6" y2="64.6" stroke="#333" stroke-width="1"/>
<text transform="translate(1614.3,364.3) scale(0.975,1)" font-size="12.60" text-anchor="middle" fill="#3a3a3a" font-family="'DejaVu Sans', 'Liberation Sans', sans-serif" >50</text>
<line x1="1667.2" y1="344.7" x2="1667.2" y2="339.7" stroke="#333" stroke-width="1"/>
<line x1="1667.2" y1="59.6" x2="1667.2" y2="64.6" stroke="#333" stroke-width="1"/>
<text transform="translate(1668.9,364.3) scale(0.975,1)" font-size="12.60" text-anchor="middle" fill="#3a3a3a" font-family="'DejaVu Sans', 'Liberation Sans', sans-serif" >100</text>
<line x1="1721.8" y1="344.7" x2="1721.8" y2="339.7" stroke="#333" stroke-width="1"/>
<line x1="1721.8" y1="59.6" x2="1721.8" y2="64.6" stroke="#333" stroke-width="1"/>
<text transform="translate(1723.5,364.3) scale(0.975,1)" font-size="12.60" text-anchor="middle" fill="#3a3a3a" font-family="'DejaVu Sans', 'Liberation Sans', sans-serif" >150</text>
<line x1="1776.4" y1="344.7" x2="1776.4" y2="339.7" stroke="#333" stroke-width="1"/>
<line x1="1776.4" y1="59.6" x2="1776.4" y2="64.6" stroke="#333" stroke-width="1"/>
<text transform="translate(1778.1,364.3) scale(0.975,1)" font-size="12.60" text-anchor="middle" fill="#3a3a3a" font-family="'DejaVu Sans', 'Liberation Sans', sans-serif" >200</text>
<line x1="1831.0" y1="344.7" x2="1831.0" y2="339.7" stroke="#333" stroke-width="1"/>
<line x1="1831.0" y1="59.6" x2="1831.0" y2="64.6" stroke="#333" stroke-width="1"/>
<text transform="translate(1832.7,364.3) scale(0.975,1)" font-size="12.60" text-anchor="middle" fill="#3a3a3a" font-family="'DejaVu Sans', 'Liberation Sans', sans-serif" >250</text>
<line x1="1885.6" y1="344.7" x2="1885.6" y2="339.7" stroke="#333" stroke-width="1"/>
<line x1="1885.6" y1="59.6" x2="1885.6" y2="64.6" stroke="#333" stroke-width="1"/>
<text transform="translate(1887.3,364.3) scale(0.975,1)" font-size="12.60" text-anchor="middle" fill="#3a3a3a" font-family="'DejaVu Sans', 'Liberation Sans', sans-serif" >300</text>
<line x1="1940.2" y1="344.7" x2="1940.2" y2="339.7" stroke="#333" stroke-width="1"/>
<line x1="1940.2" y1="59.6" x2="1940.2" y2="64.6" stroke="#333" stroke-width="1"/>
<text transform="translate(1941.9,364.3) scale(0.975,1)" font-size="12.60" text-anchor="middle" fill="#3a3a3a" font-family="'DejaVu Sans', 'Liberation Sans', sans-serif" >350</text>
<line x1="1558.0" y1="344.7" x2="1563.0" y2="344.7" stroke="#333" stroke-width="1"/>
<line x1="1940.2" y1="344.7" x2="1935.2" y2="344.7" stroke="#333" stroke-width="1"/>
<text transform="translate(1549.9,349.2) scale(0.975,1)" font-size="12.60" text-anchor="end" fill="#3a3a3a" font-family="'DejaVu Sans', 'Liberation Sans', sans-serif" >336</text>
<line x1="1558.0" y1="313.0" x2="1563.0" y2="313.0" stroke="#333" stroke-width="1"/>
<line x1="1940.2" y1="313.0" x2="1935.2" y2="313.0" stroke="#333" stroke-width="1"/>
<text transform="translate(1549.9,317.5) scale(0.975,1)" font-size="12.60" text-anchor="end" fill="#3a3a3a" font-family="'DejaVu Sans', 'Liberation Sans', sans-serif" >338</text>
<line x1="1558.0" y1="281.3" x2="1563.0" y2="281.3" stroke="#333" stroke-width="1"/>
<line x1="1940.2" y1="281.3" x2="1935.2" y2="281.3" stroke="#333" stroke-width="1"/>
<text transform="translate(1549.9,285.8) scale(0.975,1)" font-size="12.60" text-anchor="end" fill="#3a3a3a" font-family="'DejaVu Sans', 'Liberation Sans', sans-serif" >340</text>
<line x1="1558.0" y1="249.7" x2="1563.0" y2="249.7" stroke="#333" stroke-width="1"/>
<line x1="1940.2" y1="249.7" x2="1935.2" y2="249.7" stroke="#333" stroke-width="1"/>
<text transform="translate(1549.9,254.2) scale(0.975,1)" font-size="12.60" text-anchor="end" fill="#3a3a3a" font-family="'DejaVu Sans', 'Liberation Sans', sans-serif" >342</text>
<line x1="1558.0" y1="218.0" x2="1563.0" y2="218.0" stroke="#333" stroke-width="1"/>
<line x1="1940.2" y1="218.0" x2="1935.2" y2="218.0" stroke="#333" stroke-width="1"/>
<text transform="translate(1549.9,222.5) scale(0.975,1)" font-size="12.60" text-anchor="end" fill="#3a3a3a" font-family="'DejaVu Sans', 'Liberation Sans', sans-serif" >344</text>
<line x1="1558.0" y1="186.3" x2="1563.0" y2="186.3" stroke="#333" stroke-width="1"/>
<line x1="1940.2" y1="186.3" x2="1935.2" y2="186.3" stroke="#333" stroke-width="1"/>
<text transform="translate(1549.9,190.8) scale(0.975,1)" font-size="12.60" text-anchor="end" fill="#3a3a3a" font-family="'DejaVu Sans', 'Liberation Sans', sans-serif" >346</text>
<line x1="1558.0" y1="154.6" x2="1563.0" y2="154.6" stroke="#333" stroke-width="1"/>
<line x1="1940.2" y1="154.6" x2="1935.2" y2="154.6" stroke="#333" stroke-width="1"/>
<text transform="translate(1549.9,159.1) scale(0.975,1)" font-size="12.60" text-anchor="end" fill="#3a3a3a" font-family="'DejaVu Sans', 'Liberation Sans', sans-serif" >348</text>
<line x1="1558.0" y1="123.0" x2="1563.0" y2="123.0" stroke="#333" stroke-width="1"/>
<line x1="1940.2" y1="123.0" x2="1935.2" y2="123.0" stroke="#333" stroke-width="1"/>
<text transform="translate(1549.9,127.5) scale(0.975,1)" font-size="12.60" text-anchor="end" fill="#3a3a3a" font-family="'DejaVu Sans', 'Liberation Sans', sans-serif" >350</text>
<line x1="1558.0" y1="91.3" x2="1563.0" y2="91.3" stroke="#333" stroke-width="1"/>
<line x1="1940.2" y1="91.3" x2="1935.2" y2="91.3" stroke="#333" stroke-width="1"/>
<text transform="translate(1549.9,95.8) scale(0.975,1)" font-size="12.60" text-anchor="end" fill="#3a3a3a" font-family="'DejaVu Sans', 'Liberation Sans', sans-serif" >352</text>
<line x1="1558.0" y1="59.6" x2="1563.0" y2="59.6" stroke="#333" stroke-width="1"/>
<line x1="1940.2" y1="59.6" x2="1935.2" y2="59.6" stroke="#333" stroke-width="1"/>
<text transform="translate(1549.9,64.1) scale(0.975,1)" font-size="12.60" text-anchor="end" fill="#3a3a3a" font-family="'DejaVu Sans', 'Liberation Sans', sans-serif" >354</text>
<line x1="1940.2" y1="344.7" x2="1935.2" y2="344.7" stroke="#333" stroke-width="1"/>
<text transform="translate(1952.1,349.2) scale(0.975,1)" font-size="12.60" text-anchor="start" fill="#3a3a3a" font-family="'DejaVu Sans', 'Liberation Sans', sans-serif" >336</text>
<line x1="1940.2" y1="313.0" x2="1935.2" y2="313.0" stroke="#333" stroke-width="1"/>
<text transform="translate(1952.1,317.5) scale(0.975,1)" font-size="12.60" text-anchor="start" fill="#3a3a3a" font-family="'DejaVu Sans', 'Liberation Sans', sans-serif" >338</text>
<line x1="1940.2" y1="281.3" x2="1935.2" y2="281.3" stroke="#333" stroke-width="1"/>
<text transform="translate(1952.1,285.8) scale(0.975,1)" font-size="12.60" text-anchor="start" fill="#3a3a3a" font-family="'DejaVu Sans', 'Liberation Sans', sans-serif" >340</text>
<line x1="1940.2" y1="249.7" x2="1935.2" y2="249.7" stroke="#333" stroke-width="1"/>
<text transform="translate(1952.1,254.2) scale(0.975,1)" font-size="12.60" text-anchor="start" fill="#3a3a3a" font-family="'DejaVu Sans', 'Liberation Sans', sans-serif" >342</text>
<line x1="1940.2" y1="218.0" x2="1935.2" y2="218.0" stroke="#333" stroke-width="1"/>
<text transform="translate(1952.1,222.5) scale(0.975,1)" font-size="12.60" text-anchor="start" fill="#3a3a3a" font-family="'DejaVu Sans', 'Liberation Sans', sans-serif" >344</text>
<line x1="1940.2" y1="186.3" x2="1935.2" y2="186.3" stroke="#333" stroke-width="1"/>
<text transform="translate(1952.1,190.8) scale(0.975,1)" font-size="12.60" text-anchor="start" fill="#3a3a3a" font-family="'DejaVu Sans', 'Liberation Sans', sans-serif" >346</text>
<line x1="1940.2" y1="154.6" x2="1935.2" y2="154.6" stroke="#333" stroke-width="1"/>
<text transform="translate(1952.1,159.1) scale(0.975,1)" font-size="12.60" text-anchor="start" fill="#3a3a3a" font-family="'DejaVu Sans', 'Liberation Sans', sans-serif" >348</text>
<line x1="1940.2" y1="123.0" x2="1935.2" y2="123.0" stroke="#333" stroke-width="1"/>
<text transform="translate(1952.1,127.5) scale(0.975,1)" font-size="12.60" text-anchor="start" fill="#3a3a3a" font-family="'DejaVu Sans', 'Liberation Sans', sans-serif" >350</text>
<line x1="1940.2" y1="91.3" x2="1935.2" y2="91.3" stroke="#333" stroke-width="1"/>
<text transform="translate(1952.1,95.8) scale(0.975,1)" font-size="12.60" text-anchor="start" fill="#3a3a3a" font-family="'DejaVu Sans', 'Liberation Sans', sans-serif" >352</text>
<line x1="1940.2" y1="59.6" x2="1935.2" y2="59.6" stroke="#333" stroke-width="1"/>
<text transform="translate(1952.1,64.1) scale(0.975,1)" font-size="12.60" text-anchor="start" fill="#3a3a3a" font-family="'DejaVu Sans', 'Liberation Sans', sans-serif" >354</text>
<text transform="translate(1748.9,385.6) scale(0.975,1)" font-size="12.60" text-anchor="middle" fill="#3a3a3a" font-family="'DejaVu Sans', 'Liberation Sans', sans-serif" >days</text>
<polyline points="1558.0,202.2 1558.4,202.2 1558.9,170.3 1559.3,194.2 1559.7,154.8 1560.2,154.5 1560.6,175.7 1561.1,170.2 1561.5,140.1 1561.9,129.5 1563.2,129.5 1563.7,150.9 1565.0,181.6 1565.9,155.7 1566.3,170.5 1566.7,136.1 1568.0,177.2 1568.5,152.4 1568.9,188.6 1569.4,184.2 1569.8,164.6 1570.2,119.8 1570.7,128.6 1571.1,125.8 1571.5,135.1 1572.0,197.0 1572.4,163.8 1573.3,216.2 1574.2,229.2 1574.6,219.9 1575.0,216.5 1575.5,215.3 1575.9,179.0 1576.8,146.1 1577.2,140.0 1577.7,112.7 1578.1,110.6 1579.0,115.9 1579.4,113.3 1579.8,126.3 1580.3,123.2 1580.7,159.9 1581.6,133.5 1582.0,154.4 1582.9,94.0 1583.3,107.6 1583.8,101.5 1584.2,108.6 1585.1,157.7 1586.0,184.6 1586.4,192.5 1586.8,192.2 1587.3,182.2 1587.7,209.1 1588.1,202.1 1589.9,266.0 1590.8,246.6 1591.2,256.2 1591.6,224.0 1592.1,226.9 1592.5,225.8 1592.9,231.1 1593.4,247.7 1593.8,193.6 1594.7,226.9 1595.1,184.4 1595.6,187.9 1596.0,162.3 1596.4,159.8 1596.9,150.2 1597.7,173.4 1598.2,173.4 1598.6,174.9 1599.1,212.8 1599.5,195.3 1599.9,196.0 1600.4,217.2 1601.7,217.2 1602.1,189.4 1602.6,193.5 1603.0,184.8 1604.3,184.8 1604.7,194.6 1605.2,192.2 1605.6,184.8 1606.5,213.9 1606.9,217.9 1607.4,209.9 1607.8,218.8 1608.2,212.8 1608.7,224.4 1609.1,203.3 1610.0,188.1 1610.9,218.7 1611.3,260.8 1611.7,273.4 1612.6,252.3 1613.0,255.3 1613.5,224.6 1613.9,224.3 1614.8,214.3 1615.2,184.7 1615.7,194.2 1617.0,161.6 1617.4,161.6 1617.8,177.9 1618.3,161.6 1618.7,173.4 1619.2,174.6 1620.0,212.4 1620.5,203.7 1620.9,210.1 1621.3,209.1 1621.8,206.3 1622.6,248.8 1623.1,214.1 1623.5,272.3 1624.4,267.1 1624.8,271.0 1625.3,243.2 1625.7,239.3 1626.1,253.2 1626.6,240.8 1627.0,236.6 1627.5,251.2 1627.9,224.8 1628.3,251.4 1628.8,254.2 1629.2,248.2 1629.6,251.4 1630.1,260.6 1630.9,191.2 1631.4,191.1 1632.3,167.9 1632.7,164.7 1633.6,130.2 1634.0,130.2 1634.4,147.8 1634.9,153.1 1635.8,177.9 1636.2,181.7 1636.6,181.7 1637.1,166.2 1637.5,181.7 1637.9,177.6 1638.4,146.0 1638.8,159.9 1639.2,148.6 1639.7,174.2 1640.6,146.0 1641.4,191.1 1641.9,202.5 1642.3,193.1 1642.7,223.5 1643.2,218.0 1643.6,232.6 1644.0,231.5 1644.9,217.9 1645.8,248.9 1646.2,237.5 1646.7,256.2 1647.1,257.6 1647.5,244.3 1648.0,243.6 1648.4,247.5 1648.9,264.2 1649.3,269.3 1650.2,257.8 1650.6,275.7 1651.0,267.0 1651.5,273.4 1651.9,273.1 1652.3,270.6 1652.8,246.5 1653.2,283.5 1653.7,281.0 1654.5,292.3 1655.0,292.3 1655.4,266.7 1655.8,273.5 1656.3,229.4 1656.7,220.9 1657.2,222.7 1658.0,196.1 1658.5,194.1 1658.9,164.4 1659.3,172.8 1659.8,166.1 1660.2,176.5 1660.6,147.5 1661.1,146.2 1661.5,129.3 1662.0,135.9 1662.4,133.9 1662.8,135.0 1663.3,149.1 1664.1,148.1 1664.6,136.6 1665.0,146.7 1665.9,123.6 1666.3,124.3 1666.8,137.5 1667.2,139.2 1667.6,131.7 1668.1,130.0 1668.5,110.3 1669.4,129.0 1669.8,146.9 1670.3,124.9 1671.6,153.6 1672.0,135.3 1672.4,171.1 1672.9,179.9 1673.3,163.3 1674.2,202.6 1674.6,186.6 1675.1,218.0 1675.5,207.7 1675.9,212.7 1676.4,163.4 1676.8,164.5 1677.2,127.8 1677.7,143.0 1678.1,140.4 1679.0,158.3 1679.4,164.5 1679.9,165.4 1680.7,225.2 1681.2,207.1 1682.1,240.0 1682.5,219.7 1683.4,201.5 1683.8,231.2 1684.2,203.4 1684.7,201.2 1685.1,172.5 1686.0,181.0 1686.9,143.3 1687.3,165.2 1688.6,131.4 1689.0,125.8 1689.5,135.9 1690.8,98.0 1691.2,109.6 1692.1,77.0 1692.5,92.4 1693.0,90.5 1693.4,84.1 1694.3,94.9 1695.2,125.0 1695.6,127.1 1696.5,138.9 1696.9,125.2 1697.3,157.1 1697.8,139.8 1698.2,152.4 1699.1,139.5 1699.5,175.8 1700.0,183.2 1700.4,183.3 1700.8,166.0 1701.3,167.4 1701.7,186.2 1702.1,185.5 1702.6,176.0 1703.5,205.8 1703.9,205.2 1704.3,202.2 1704.8,190.5 1705.2,192.7 1705.6,181.1 1706.5,181.1 1706.9,207.6 1707.4,191.8 1707.8,208.6 1708.3,197.1 1708.7,196.8 1709.1,201.1 1710.0,227.6 1710.4,223.0 1710.9,235.0 1711.3,193.2 1712.2,206.1 1712.6,235.0 1713.1,188.6 1713.5,221.7 1713.9,198.0 1714.4,214.7 1715.2,162.8 1715.7,162.2 1716.1,187.9 1717.0,160.9 1717.4,185.3 1717.9,138.9 1718.3,164.5 1718.7,136.4 1719.2,135.6 1719.6,129.3 1721.4,176.4 1721.8,172.0 1723.5,247.4 1724.0,245.5 1724.4,264.2 1724.9,254.2 1725.3,265.8 1726.2,213.6 1726.6,218.0 1727.0,216.9 1727.5,216.9 1727.9,248.3 1728.4,230.3 1729.2,250.4 1729.7,253.6 1730.1,237.2 1730.5,242.5 1731.0,224.9 1731.4,233.5 1731.8,259.3 1732.3,267.2 1732.7,265.2 1733.2,268.1 1733.6,283.2 1734.0,258.6 1734.5,277.6 1735.8,230.5 1736.2,231.3 1736.7,210.5 1737.1,206.0 1737.5,206.0 1738.0,209.9 1738.4,222.7 1738.8,219.4 1739.3,210.0 1739.7,249.2 1740.6,239.4 1741.0,291.5 1741.5,261.5 1742.3,285.1 1742.8,284.9 1743.2,283.0 1743.6,298.9 1744.1,291.8 1744.5,303.6 1745.0,304.5 1745.4,300.6 1745.8,307.0 1746.3,294.0 1746.7,304.4 1747.1,303.3 1747.6,256.9 1748.4,208.2 1749.8,169.3 1750.2,139.1 1751.1,139.1 1751.5,140.5 1751.9,149.4 1752.4,151.4 1752.8,146.6 1754.6,233.7 1755.0,234.0 1755.4,236.6 1755.9,249.3 1756.3,238.1 1756.7,237.4 1757.2,217.4 1757.6,214.9 1758.1,201.3 1758.9,145.7 1759.8,170.0 1760.2,152.1 1760.7,148.2 1761.1,150.6 1761.5,157.6 1762.0,178.5 1762.4,145.7 1764.2,189.3 1764.6,184.2 1765.0,205.8 1765.5,192.3 1766.4,235.8 1767.7,270.0 1768.1,269.7 1768.5,268.6 1769.4,315.6 1769.8,286.0 1770.3,301.6 1771.2,294.1 1771.6,282.7 1772.0,292.3 1772.5,266.4 1772.9,263.9 1773.3,288.0 1773.8,255.0 1774.2,255.5 1776.0,223.1 1776.4,219.8 1776.8,227.7 1777.3,226.2 1777.7,190.2 1778.6,216.4 1779.5,187.8 1779.9,200.8 1780.3,174.1 1781.2,183.8 1781.6,162.6 1782.1,160.7 1783.0,150.5 1783.4,156.5 1784.7,125.9 1785.6,125.9 1786.0,142.5 1786.4,136.5 1786.9,162.0 1787.3,148.0 1788.6,210.2 1789.1,216.9 1789.5,254.0 1789.9,241.7 1790.8,257.0 1791.3,274.5 1792.6,274.5 1793.0,269.1 1793.4,252.1 1793.9,274.9 1794.7,232.5 1795.2,250.0 1795.6,220.5 1796.5,262.3 1796.9,241.4 1797.8,276.6 1798.2,243.2 1799.6,228.9 1800.4,182.5 1800.9,215.4 1801.7,163.9 1802.2,161.5 1803.0,131.3 1803.9,131.3 1804.8,176.1 1805.2,158.3 1805.7,198.5 1806.1,197.1 1806.5,197.3 1807.0,200.4 1807.4,232.4 1807.8,231.3 1808.7,186.3 1809.2,195.9 1809.6,180.9 1810.0,143.0 1810.5,131.7 1810.9,132.7 1811.3,130.8 1811.8,124.0 1812.2,147.6 1812.7,157.3 1813.1,159.7 1813.5,180.2 1814.0,174.4 1814.4,202.8 1814.8,202.8 1815.3,190.6 1815.7,202.8 1816.1,200.9 1816.6,193.1 1817.5,211.1 1817.9,197.6 1818.3,213.7 1818.8,185.0 1819.2,205.7 1819.6,184.5 1820.1,205.9 1820.5,212.6 1821.0,201.5 1821.4,199.4 1821.8,213.1 1822.3,196.7 1822.7,203.3 1823.1,199.5 1823.6,200.6 1824.0,200.4 1824.4,189.0 1824.9,189.0 1825.3,197.9 1825.8,216.7 1826.2,213.3 1826.6,216.7 1827.1,195.4 1827.5,208.1 1828.4,211.5 1828.8,210.4 1829.3,190.4 1829.7,204.4 1830.1,194.2 1830.6,157.2 1831.0,153.6 1831.9,166.1 1832.3,166.6 1832.7,142.1 1833.2,151.9 1833.6,142.1 1834.1,163.3 1834.5,157.2 1834.9,176.2 1835.4,149.7 1835.8,193.8 1836.7,164.8 1837.1,205.8 1837.6,209.3 1838.4,209.3 1838.9,197.2 1839.3,197.8 1839.7,204.4 1840.2,200.0 1840.6,171.3 1841.0,180.8 1841.5,175.2 1841.9,141.3 1842.4,173.2 1843.2,140.3 1844.1,188.8 1844.5,184.1 1845.0,215.0 1845.4,215.0 1845.9,208.7 1846.3,229.8 1846.7,189.8 1847.6,202.1 1848.0,229.8 1849.8,181.3 1850.2,217.9 1850.7,200.2 1851.1,200.6 1852.4,151.7 1852.8,181.5 1853.3,171.2 1854.2,176.6 1854.6,144.7 1855.0,174.7 1855.5,138.8 1855.9,136.4 1856.3,136.4 1857.2,142.8 1857.6,161.5 1858.1,162.6 1858.5,162.0 1859.0,175.2 1859.4,174.6 1859.8,206.8 1860.3,196.0 1860.7,230.4 1861.1,230.9 1862.0,251.1 1862.4,225.7 1862.9,220.3 1863.3,241.4 1863.8,241.6 1864.2,244.8 1864.6,262.7 1865.1,249.7 1865.5,261.3 1865.9,252.9 1866.8,262.3 1867.3,293.1 1868.1,259.3 1869.0,287.8 1869.4,280.3 1869.9,252.0 1870.3,257.8 1870.7,276.6 1871.6,204.6 1872.1,229.8 1872.5,195.6 1872.9,198.4 1873.4,183.7 1874.2,174.0 1874.7,189.1 1875.1,151.0 1875.6,139.2 1876.0,134.1 1876.4,145.9 1876.9,146.0 1877.3,125.3 1877.7,158.2 1878.2,153.9 1878.6,167.7 1879.0,165.8 1879.5,167.2 1879.9,158.1 1880.8,167.7 1881.2,163.8 1882.1,168.7 1882.5,180.7 1883.0,176.0 1883.4,202.2 1883.9,194.5 1884.3,204.4 1884.7,204.1 1885.2,178.7 1885.6,207.9 1886.5,185.1 1887.8,214.4 1888.2,233.9 1888.7,218.7 1889.1,228.3 1889.5,208.6 1890.4,233.9 1890.8,232.7 1891.3,233.9 1891.7,205.8 1892.2,203.6 1892.6,203.6 1893.0,209.8 1893.5,203.6 1893.9,205.0 1894.3,203.6 1894.8,209.1 1895.2,224.0 1895.6,222.0 1896.1,246.1 1896.5,237.4 1897.4,282.6 1897.8,263.3 1898.3,272.6 1898.7,265.2 1899.6,220.4 1900.0,238.2 1900.5,239.5 1900.9,208.5 1901.8,227.3 1902.2,196.5 1902.6,207.4 1903.1,179.4 1903.5,187.2 1903.9,176.3 1904.4,187.2 1905.3,159.4 1905.7,187.6 1906.1,158.4 1907.0,167.4 1907.4,182.3 1907.9,168.9 1908.3,179.9 1908.8,183.3 1909.2,170.8 1909.6,198.7 1910.1,201.2 1910.5,210.4 1910.9,189.3 1911.4,210.4 1911.8,188.8 1912.2,199.6 1913.1,163.6 1913.6,168.5 1914.0,166.5 1914.4,155.9 1914.9,166.4 1915.3,156.8 1915.7,173.6 1916.2,161.6 1916.6,194.6 1917.0,174.8 1919.7,310.5 1920.1,293.2 1920.5,304.0 1921.4,243.4 1921.9,278.8 1922.3,238.8 1923.2,230.5 1923.6,216.7 1924.0,229.9 1924.5,211.3 1924.9,213.5 1925.3,227.1 1925.8,200.5 1926.2,209.1 1926.7,192.6 1927.1,209.3 1927.5,195.3 1928.0,210.4 1928.4,191.8 1929.3,175.2 1930.2,129.3 1930.6,167.2 1931.0,143.4 1931.5,157.5 1931.9,154.4 1932.8,132.0 1933.2,148.0 1933.6,146.7 1934.1,153.7 1935.0,186.4 1935.8,196.5 1936.3,175.8 1936.7,211.7 1937.1,211.7 1937.6,210.0 1938.0,195.7 1939.3,211.7 1939.8,211.7 1940.2,208.6" fill="none" stroke="#111" stroke-width="1.8" stroke-linejoin="round" stroke-linecap="round" opacity="1.0"/>
<text transform="translate(1878.9,77.4) scale(0.975,1)" font-size="12.60" text-anchor="end" fill="#3a3a3a" font-family="'DejaVu Sans', 'Liberation Sans', sans-serif" >Total</text>
<line x1="1886.9" y1="72.9" x2="1924.1" y2="72.9" stroke="#000000" stroke-width="2.0"/>
<line x1="0" y1="811.5" x2="525" y2="811.5" stroke="#ededed" stroke-width="1"/>
<line x1="525.5" y1="440" x2="525.5" y2="811" stroke="#f3f3f3" stroke-width="1"/>
<text class="L" x="15.0" y="445.2" font-size="42" fill="#000" font-family="'Liberation Serif', 'DejaVu Serif', serif">E</text>
<text transform="translate(263.8,470.5) scale(0.96,1)" font-size="12.50" text-anchor="middle" fill="#3a3a3a" font-family="'DejaVu Sans', 'Liberation Sans', sans-serif">DC population per state (cells per mm<tspan dy="-5" font-size="9.4">3</tspan><tspan dy="5">)</tspan></text>
<rect x="60.0" y="487.8" width="407.7" height="276.6" fill="none" stroke="#333" stroke-width="1.2"/>
<line x1="60.0" y1="764.4" x2="60.0" y2="759.4" stroke="#333" stroke-width="1"/>
<line x1="60.0" y1="487.8" x2="60.0" y2="492.8" stroke="#333" stroke-width="1"/>
<text transform="translate(61.7,783.5) scale(0.975,1)" font-size="12.50" text-anchor="middle" fill="#3a3a3a" font-family="'DejaVu Sans', 'Liberation Sans', sans-serif" >0</text>
<line x1="118.2" y1="764.4" x2="118.2" y2="759.4" stroke="#333" stroke-width="1"/>
<line x1="118.2" y1="487.8" x2="118.2" y2="492.8" stroke="#333" stroke-width="1"/>
<text transform="translate(119.9,783.5) scale(0.975,1)" font-size="12.50" text-anchor="middle" fill="#3a3a3a" font-family="'DejaVu Sans', 'Liberation Sans', sans-serif" >50</text>
<line x1="176.5" y1="764.4" x2="176.5" y2="759.4" stroke="#333" stroke-width="1"/>
<line x1="176.5" y1="487.8" x2="176.5" y2="492.8" stroke="#333" stroke-width="1"/>
<text transform="translate(178.2,783.5) scale(0.975,1)" font-size="12.50" text-anchor="middle" fill="#3a3a3a" font-family="'DejaVu Sans', 'Liberation Sans', sans-serif" >100</text>
<line x1="234.7" y1="764.4" x2="234.7" y2="759.4" stroke="#333" stroke-width="1"/>
<line x1="234.7" y1="487.8" x2="234.7" y2="492.8" stroke="#333" stroke-width="1"/>
<text transform="translate(236.4,783.5) scale(0.975,1)" font-size="12.50" text-anchor="middle" fill="#3a3a3a" font-family="'DejaVu Sans', 'Liberation Sans', sans-serif" >150</text>
<line x1="293.0" y1="764.4" x2="293.0" y2="759.4" stroke="#333" stroke-width="1"/>
<line x1="293.0" y1="487.8" x2="293.0" y2="492.8" stroke="#333" stroke-width="1"/>
<text transform="translate(294.7,783.5) scale(0.975,1)" font-size="12.50" text-anchor="middle" fill="#3a3a3a" font-family="'DejaVu Sans', 'Liberation Sans', sans-serif" >200</text>
<line x1="351.2" y1="764.4" x2="351.2" y2="759.4" stroke="#333" stroke-width="1"/>
<line x1="351.2" y1="487.8" x2="351.2" y2="492.8" stroke="#333" stroke-width="1"/>
<text transform="translate(352.9,783.5) scale(0.975,1)" font-size="12.50" text-anchor="middle" fill="#3a3a3a" font-family="'DejaVu Sans', 'Liberation Sans', sans-serif" >250</text>
<line x1="409.5" y1="764.4" x2="409.5" y2="759.4" stroke="#333" stroke-width="1"/>
<line x1="409.5" y1="487.8" x2="409.5" y2="492.8" stroke="#333" stroke-width="1"/>
<text transform="translate(411.2,783.5) scale(0.975,1)" font-size="12.50" text-anchor="middle" fill="#3a3a3a" font-family="'DejaVu Sans', 'Liberation Sans', sans-serif" >300</text>
<line x1="467.7" y1="764.4" x2="467.7" y2="759.4" stroke="#333" stroke-width="1"/>
<line x1="467.7" y1="487.8" x2="467.7" y2="492.8" stroke="#333" stroke-width="1"/>
<text transform="translate(469.4,783.5) scale(0.975,1)" font-size="12.50" text-anchor="middle" fill="#3a3a3a" font-family="'DejaVu Sans', 'Liberation Sans', sans-serif" >350</text>
<line x1="60.0" y1="764.4" x2="65.0" y2="764.4" stroke="#333" stroke-width="1"/>
<line x1="467.7" y1="764.4" x2="462.7" y2="764.4" stroke="#333" stroke-width="1"/>
<text transform="translate(51.8,768.9) scale(0.975,1)" font-size="12.50" text-anchor="end" fill="#3a3a3a" font-family="'DejaVu Sans', 'Liberation Sans', sans-serif" >0</text>
<line x1="60.0" y1="709.1" x2="65.0" y2="709.1" stroke="#333" stroke-width="1"/>
<line x1="467.7" y1="709.1" x2="462.7" y2="709.1" stroke="#333" stroke-width="1"/>
<text transform="translate(51.8,713.6) scale(0.975,1)" font-size="12.50" text-anchor="end" fill="#3a3a3a" font-family="'DejaVu Sans', 'Liberation Sans', sans-serif" >50</text>
<line x1="60.0" y1="653.8" x2="65.0" y2="653.8" stroke="#333" stroke-width="1"/>
<line x1="467.7" y1="653.8" x2="462.7" y2="653.8" stroke="#333" stroke-width="1"/>
<text transform="translate(51.8,658.3) scale(0.975,1)" font-size="12.50" text-anchor="end" fill="#3a3a3a" font-family="'DejaVu Sans', 'Liberation Sans', sans-serif" >100</text>
<line x1="60.0" y1="598.4" x2="65.0" y2="598.4" stroke="#333" stroke-width="1"/>
<line x1="467.7" y1="598.4" x2="462.7" y2="598.4" stroke="#333" stroke-width="1"/>
<text transform="translate(51.8,602.9) scale(0.975,1)" font-size="12.50" text-anchor="end" fill="#3a3a3a" font-family="'DejaVu Sans', 'Liberation Sans', sans-serif" >150</text>
<line x1="60.0" y1="543.1" x2="65.0" y2="543.1" stroke="#333" stroke-width="1"/>
<line x1="467.7" y1="543.1" x2="462.7" y2="543.1" stroke="#333" stroke-width="1"/>
<text transform="translate(51.8,547.6) scale(0.975,1)" font-size="12.50" text-anchor="end" fill="#3a3a3a" font-family="'DejaVu Sans', 'Liberation Sans', sans-serif" >200</text>
<line x1="60.0" y1="487.8" x2="65.0" y2="487.8" stroke="#333" stroke-width="1"/>
<line x1="467.7" y1="487.8" x2="462.7" y2="487.8" stroke="#333" stroke-width="1"/>
<text transform="translate(51.8,492.3) scale(0.975,1)" font-size="12.50" text-anchor="end" fill="#3a3a3a" font-family="'DejaVu Sans', 'Liberation Sans', sans-serif" >250</text>
<text transform="translate(263.8,804.7) scale(0.975,1)" font-size="12.50" text-anchor="middle" fill="#3a3a3a" font-family="'DejaVu Sans', 'Liberation Sans', sans-serif" >days</text>
<text transform="translate(408.3,504.8) scale(0.975,1)" font-size="12.50" text-anchor="end" fill="#3a3a3a" font-family="'DejaVu Sans', 'Liberation Sans', sans-serif" >INTERNALIZED</text>
<text transform="translate(408.3,519.8) scale(0.975,1)" font-size="12.50" text-anchor="end" fill="#3a3a3a" font-family="'DejaVu Sans', 'Liberation Sans', sans-serif" >PRESENTING-1</text>
<text transform="translate(408.3,534.1) scale(0.975,1)" font-size="12.50" text-anchor="end" fill="#3a3a3a" font-family="'DejaVu Sans', 'Liberation Sans', sans-serif" >PRESENTING-2</text>
<text transform="translate(408.3,548.7) scale(0.975,1)" font-size="12.50" text-anchor="end" fill="#3a3a3a" font-family="'DejaVu Sans', 'Liberation Sans', sans-serif" >Total</text>
<text transform="translate(408.3,563.3) scale(0.975,1)" font-size="12.50" text-anchor="end" fill="#3a3a3a" font-family="'DejaVu Sans', 'Liberation Sans', sans-serif" >ACTIVE</text>
<text transform="translate(408.3,578.0) scale(0.975,1)" font-size="12.50" text-anchor="end" fill="#3a3a3a" font-family="'DejaVu Sans', 'Liberation Sans', sans-serif" >RESTING</text>
<line x1="417.1" y1="500.5" x2="452.8" y2="500.5" stroke="#e8a010" stroke-width="2"/>
<polyline points="60.0,764.4 61.2,755.5 62.3,760.0 64.7,764.4 92.0,764.4 93.2,762.2 94.9,764.4 124.6,764.4 125.8,762.7 127.6,764.4 467.7,764.4" fill="none" stroke="#e8a010" stroke-width="2.0" stroke-linejoin="round" stroke-linecap="round" opacity="1.0"/>
<line x1="417.1" y1="515.5" x2="452.8" y2="515.5" stroke="#e3170d" stroke-width="2"/>
<polyline points="60.0,764.4 61.2,755.5 62.3,750.0 62.9,748.9 91.5,751.3 92.6,747.4 117.4,749.6 124.1,749.9 126.4,746.7 131.1,747.0 141.2,748.3 175.6,751.9 207.4,754.3 237.6,756.0 356.2,760.1 467.7,762.7" fill="none" stroke="#e3170d" stroke-width="2.0" stroke-linejoin="round" stroke-linecap="round" opacity="1.0"/>
<line x1="417.1" y1="529.8" x2="452.8" y2="529.8" stroke="#0f9488" stroke-width="2"/>
<polyline points="60.0,764.4 61.2,755.5 62.6,731.9 63.8,744.7 65.0,748.2 66.4,757.8 68.2,762.7 70.5,764.4 91.5,764.4 92.3,760.3 93.2,753.0 94.4,758.9 96.1,763.3 98.4,764.4 124.1,764.4 125.8,757.1 127.0,760.5 128.7,763.8 131.1,764.4 467.7,764.4" fill="none" stroke="#0f9488" stroke-width="2.0" stroke-linejoin="round" stroke-linecap="round" opacity="1.0"/>
<line x1="417.1" y1="544.4" x2="452.8" y2="544.4" stroke="#000000" stroke-width="2"/>
<polyline points="60.0,548.5 60.6,548.9 60.9,550.9 61.2,550.6 61.7,554.9 62.0,554.7 62.6,556.6 62.9,555.9 63.2,556.5 63.8,555.6 64.1,556.0 64.4,555.7 65.0,556.9 66.1,552.0 66.4,551.8 66.7,552.4 67.0,552.3 68.4,546.7 69.0,548.9 69.6,548.8 70.2,545.1 70.8,546.2 71.1,546.0 72.2,542.3 72.8,543.4 74.3,543.8 74.6,544.7 74.9,544.5 75.1,545.2 76.0,545.9 76.3,546.9 76.6,547.0 76.9,546.6 77.2,547.9 77.8,546.7 78.9,554.1 79.8,551.3 80.1,551.5 81.0,554.7 81.3,554.6 81.5,553.7 81.8,553.9 82.1,552.7 82.4,552.8 83.0,552.3 83.9,554.7 85.0,551.1 85.6,550.4 86.2,551.8 86.5,551.6 86.8,552.2 87.4,550.5 88.0,552.2 89.1,547.5 90.6,549.8 91.2,548.1 91.5,549.0 92.0,547.7 92.3,549.5 92.6,548.0 93.2,549.0 93.5,548.5 93.8,549.6 94.9,544.9 95.8,549.9 96.4,550.6 97.9,555.3 98.4,553.7 99.0,555.0 99.3,555.2 99.6,555.1 99.9,556.2 100.5,553.9 100.8,555.5 101.1,555.0 101.9,556.2 102.2,554.6 102.5,555.4 103.1,554.7 103.4,556.0 103.7,555.9 104.0,556.2 105.4,551.6 105.7,551.6 106.0,552.5 106.3,552.5 106.6,554.3 106.9,555.1 107.2,554.3 107.5,555.8 107.8,553.5 108.1,553.5 108.3,554.4 108.6,553.6 108.9,554.9 109.8,551.5 110.4,550.6 111.3,551.5 111.5,552.8 111.8,551.1 112.1,552.1 112.4,552.2 112.7,551.4 113.3,552.1 114.7,548.7 115.0,549.7 115.9,549.7 116.2,549.0 116.5,551.0 116.8,550.9 117.1,551.7 117.7,550.4 118.0,550.5 118.2,548.9 118.5,550.7 119.1,548.6 119.4,550.0 119.7,548.7 120.3,550.2 120.6,549.7 120.9,550.8 121.2,550.4 121.4,551.1 121.7,551.1 122.6,549.0 123.5,551.4 124.6,549.4 124.9,550.1 125.2,549.9 125.5,552.0 126.1,552.0 126.4,553.0 126.7,551.5 127.3,551.6 128.1,550.5 128.7,550.7 129.3,552.5 129.6,552.2 130.2,553.2 131.1,552.1 131.3,550.6 131.6,550.5 131.9,551.9 132.2,551.5 132.5,552.2 132.8,552.0 133.1,553.2 133.7,552.3 134.0,553.4 134.3,550.8 134.8,551.8 135.1,550.6 136.0,549.7 136.6,551.3 136.9,550.3 137.5,550.4 137.8,549.1 138.3,550.7 138.6,550.0 138.9,550.7 139.2,550.5 140.1,548.2 140.7,549.1 141.2,551.8 141.8,551.0 142.4,550.9 142.7,551.6 143.6,550.0 144.2,551.9 144.5,550.3 144.7,551.3 145.0,549.4 145.6,551.3 145.9,551.1 146.2,551.9 147.1,549.2 147.4,549.0 147.9,549.4 148.5,550.5 149.1,550.4 150.0,546.2 150.6,549.1 150.9,548.7 151.2,549.6 151.7,546.9 152.0,547.4 152.3,547.0 152.6,547.4 152.9,550.3 153.5,552.0 153.8,552.1 154.1,549.8 154.6,548.2 155.2,549.3 155.5,548.6 155.8,550.3 156.4,548.2 156.7,549.0 157.0,548.3 157.6,549.9 158.1,548.7 159.0,551.3 159.3,553.4 159.6,553.6 159.9,553.1 160.2,553.5 161.1,547.1 161.3,547.0 161.6,547.4 161.9,546.9 162.2,549.4 162.5,548.9 162.8,549.2 163.7,551.1 164.3,551.2 164.8,550.0 165.1,550.4 165.7,550.2 166.6,548.9 167.7,552.3 168.0,552.2 168.3,550.9 168.6,551.4 169.2,549.4 169.5,551.7 170.1,551.1 170.4,552.1 170.7,549.5 171.5,546.0 173.0,549.3 173.6,548.4 173.9,546.5 174.7,548.0 175.6,546.2 175.9,546.1 176.2,547.0 176.8,547.4 177.1,544.9 177.4,545.2 177.7,544.6 178.8,545.3 180.0,543.1 180.6,548.7 180.9,549.1 181.1,548.8 181.7,543.9 182.0,544.3 182.6,543.6 182.9,544.7 183.2,544.2 183.5,544.6 183.8,546.6 184.1,546.2 184.6,547.6 184.9,546.7 185.2,548.9 186.1,550.6 186.4,550.2 186.7,550.8 187.0,552.8 187.6,553.9 188.7,550.3 189.3,551.0 190.8,558.1 191.0,555.8 191.6,556.8 191.9,555.0 192.2,555.7 192.5,555.5 192.8,553.3 193.1,554.1 193.4,553.6 194.0,554.7 194.2,553.3 194.5,553.9 194.8,551.3 195.4,553.6 195.7,553.3 196.0,555.2 196.9,550.3 197.5,549.4 197.7,548.1 198.0,548.5 198.3,547.3 198.6,547.2 199.2,544.0 199.5,544.3 199.8,543.8 200.4,544.9 200.9,541.1 201.2,542.9 201.8,543.4 202.1,544.5 202.7,542.9 203.0,543.5 204.2,541.0 204.4,541.3 204.7,540.6 205.0,540.9 205.9,545.7 207.1,541.3 208.2,545.0 208.8,548.3 209.1,548.1 209.4,549.5 210.0,547.8 210.8,551.5 211.1,551.7 211.4,552.9 211.7,552.3 212.0,554.0 213.2,553.8 213.5,554.7 214.3,553.5 214.6,554.6 214.9,554.0 215.2,554.6 215.5,554.3 215.8,551.9 216.1,551.8 217.0,553.3 217.8,553.4 218.1,554.4 218.7,554.8 219.3,551.6 219.9,550.2 220.5,554.4 221.0,554.4 221.3,555.3 221.6,551.7 221.9,552.2 222.5,550.2 222.8,553.3 223.7,556.1 224.8,552.3 225.4,554.6 226.0,553.9 226.6,552.0 228.0,555.3 228.6,554.6 229.2,552.8 229.5,552.8 229.8,554.2 230.1,554.3 230.4,555.3 231.5,550.5 232.1,550.2 233.3,553.8 233.6,553.6 233.9,554.0 234.1,553.0 235.0,552.6 235.9,554.9 236.2,554.3 236.5,555.0 237.3,553.0 238.5,554.3 240.0,548.2 240.8,552.5 241.7,553.8 242.0,552.0 242.6,551.0 243.5,550.5 244.0,549.4 244.6,551.0 244.9,551.0 245.2,552.4 245.5,552.3 246.4,548.1 246.7,548.5 247.0,547.5 247.3,548.6 247.8,548.6 248.1,550.1 248.7,551.0 249.6,547.4 250.2,548.8 250.7,548.5 251.0,547.4 251.6,548.0 251.9,547.3 252.5,548.5 252.8,548.0 253.9,551.1 254.2,551.1 255.4,547.1 256.9,552.0 257.2,551.7 257.4,552.6 258.0,551.7 258.6,554.0 259.2,553.6 260.1,549.9 260.9,549.0 261.8,552.2 262.1,552.0 262.4,553.2 263.6,549.2 263.9,549.9 264.1,549.8 264.4,550.2 265.0,547.2 265.6,545.8 265.9,546.9 266.5,545.9 267.3,546.5 268.2,543.9 269.1,547.5 269.7,545.9 270.5,547.4 271.4,541.9 272.6,545.4 273.2,544.9 273.5,545.2 273.8,544.9 274.6,547.1 274.9,546.9 275.5,544.0 276.1,544.3 276.4,546.2 276.7,546.0 277.0,543.1 277.2,542.8 277.5,543.4 277.8,542.8 278.1,543.7 278.7,540.6 279.6,542.6 280.2,545.6 280.4,544.1 280.7,544.6 281.3,540.8 282.8,542.5 283.7,545.7 283.9,545.8 284.8,544.0 285.1,545.3 285.4,544.9 285.7,545.3 286.3,547.8 286.9,548.6 287.4,546.0 288.0,545.1 288.9,546.2 289.8,550.2 290.1,549.4 290.4,549.9 290.6,548.9 291.5,550.9 292.1,549.1 293.3,552.3 293.6,551.9 293.8,552.7 294.1,552.3 294.4,553.5 294.7,552.6 295.0,552.9 295.3,552.7 295.9,554.1 296.2,552.2 296.8,552.8 297.0,554.2 297.3,554.2 297.6,555.1 298.2,552.2 298.5,554.4 298.8,552.6 299.4,554.3 299.7,553.9 300.0,555.1 301.1,552.2 302.3,554.7 302.9,553.2 303.2,553.5 304.0,557.3 304.3,557.2 304.6,557.9 304.9,556.9 305.8,556.2 306.4,557.7 306.9,556.2 307.2,554.0 307.8,553.1 308.1,553.3 308.4,555.0 308.7,553.9 309.3,557.1 309.6,556.2 309.9,556.3 310.4,552.6 311.3,555.7 311.6,556.2 311.9,555.9 312.2,557.1 312.5,555.4 313.4,554.0 313.9,556.6 314.5,556.7 314.8,557.8 315.1,556.7 315.7,559.1 316.0,558.6 316.3,559.5 316.6,559.3 317.7,554.5 318.9,557.9 319.2,557.4 319.5,558.5 320.3,557.9 320.6,556.7 320.9,556.9 321.5,555.4 322.1,554.7 323.0,558.4 323.5,558.1 323.8,558.5 324.7,561.1 325.3,559.9 325.9,559.7 326.2,560.6 326.5,560.7 326.8,559.7 327.3,559.4 327.6,557.7 327.9,558.4 328.2,557.7 328.5,558.2 328.8,560.2 329.1,559.5 329.4,559.8 330.0,557.5 331.1,558.6 332.3,556.3 332.6,554.9 333.2,555.0 333.5,553.8 334.0,554.8 334.3,554.0 334.6,555.3 334.9,555.3 335.2,553.7 336.4,551.5 337.5,546.0 338.1,548.6 338.4,548.3 339.0,549.0 339.3,547.8 339.6,548.7 339.9,549.1 340.1,548.6 340.4,549.5 340.7,548.0 341.0,548.7 341.6,547.9 341.9,548.1 342.2,546.0 342.8,544.7 343.6,549.1 343.9,549.0 344.8,546.5 345.1,548.0 345.7,549.0 346.0,548.5 346.3,548.8 346.8,547.2 348.0,549.7 349.2,543.3 350.0,545.4 350.6,548.6 351.2,545.8 351.5,546.6 351.8,546.0 352.1,546.6 352.4,546.3 353.3,543.2 353.8,544.9 354.7,545.0 355.0,544.7 355.3,545.6 356.5,543.5 357.0,544.6 357.3,544.1 358.2,543.9 358.5,545.0 359.4,543.4 359.7,543.5 360.2,547.1 360.8,548.8 361.1,547.8 361.7,547.2 362.3,549.0 362.6,547.6 362.9,548.9 363.4,547.8 363.7,549.9 364.0,548.3 364.6,550.8 364.9,550.0 365.2,551.5 365.8,549.5 366.9,554.5 367.8,553.9 368.1,555.0 369.3,552.8 370.1,554.5 370.7,551.5 371.0,552.1 371.3,551.9 371.6,554.2 371.9,554.5 372.2,551.9 373.1,549.4 373.6,552.1 373.9,552.4 374.2,551.8 374.5,552.6 375.1,548.7 375.4,549.2 375.7,547.2 376.8,551.5 378.0,546.7 378.6,548.8 379.2,548.5 380.0,545.0 380.3,545.9 381.5,542.8 383.2,545.5 384.1,542.8 384.4,542.7 384.7,543.0 385.3,546.1 385.9,546.4 386.2,544.9 386.7,544.0 388.8,545.1 389.1,546.2 389.4,544.9 389.7,545.3 390.2,543.4 390.5,544.4 390.8,543.8 391.4,546.1 392.0,545.6 392.3,546.1 392.6,545.5 392.9,546.5 394.0,543.0 394.9,545.3 395.2,545.4 395.5,546.9 395.8,545.7 396.4,547.1 397.2,543.5 398.4,547.0 399.0,546.2 399.3,546.2 400.1,547.1 400.4,547.2 400.7,546.7 401.0,547.5 401.6,547.0 402.5,544.7 402.8,545.4 403.1,545.7 403.3,545.5 403.6,546.1 403.9,545.9 404.2,546.7 404.5,546.5 404.8,547.6 405.1,547.1 405.7,548.2 406.0,546.7 406.3,547.4 406.5,547.2 407.7,543.6 409.2,549.6 410.0,545.5 410.6,545.0 411.2,547.5 411.8,547.8 412.4,546.7 413.0,547.7 414.1,551.2 414.4,551.3 414.7,549.6 415.0,550.0 415.3,549.4 415.9,551.9 416.4,551.5 417.0,550.2 417.3,550.5 417.9,549.4 418.2,549.8 418.5,549.6 418.8,551.1 419.4,551.9 419.9,550.5 420.2,550.7 420.5,550.2 420.8,551.3 421.7,551.7 422.0,551.3 423.1,556.6 423.4,556.6 423.7,555.7 424.3,555.5 424.6,554.1 424.9,555.1 425.5,554.0 425.8,556.0 426.1,554.0 426.3,554.0 426.6,554.4 426.9,553.7 427.8,556.4 428.4,555.5 429.0,557.0 429.8,558.2 430.1,556.3 430.7,558.2 431.0,557.1 431.6,560.5 431.9,560.0 432.5,561.5 432.8,558.7 433.6,556.8 434.5,559.5 434.8,558.6 435.1,559.1 435.4,558.4 435.7,558.5 436.8,556.3 437.4,558.1 437.7,556.6 438.0,558.6 438.6,559.3 438.9,560.5 439.2,560.1 439.5,560.4 439.7,560.2 440.0,562.2 440.6,558.9 440.9,559.9 441.5,559.9 441.8,561.6 442.4,558.5 442.7,559.4 442.9,558.4 443.2,558.9 443.8,555.8 444.4,556.6 445.0,558.6 445.3,558.9 445.9,558.8 446.2,559.8 446.7,557.5 447.0,557.5 447.3,554.8 447.6,556.6 447.9,556.8 448.2,555.2 448.5,555.8 449.1,551.9 449.9,550.2 451.1,554.9 452.0,556.4 453.1,551.6 453.4,553.5 453.7,553.2 454.0,553.5 454.3,554.7 454.6,553.6 454.9,556.1 455.8,555.9 456.6,554.5 456.9,555.0 457.2,554.3 457.5,554.8 458.1,554.7 458.4,556.5 459.3,559.0 460.1,555.3 461.3,558.1 461.6,556.8 462.2,556.9 463.0,555.0 463.3,555.4 464.5,550.3 464.8,550.5 465.4,549.9 466.0,551.3 466.2,549.8 466.5,550.4 467.1,548.4 467.4,550.7 467.7,550.6" fill="none" stroke="#000000" stroke-width="2.0" stroke-linejoin="round" stroke-linecap="round" opacity="1.0"/>
<line x1="417.1" y1="559" x2="452.8" y2="559" stroke="#9010d0" stroke-width="2"/>
<polyline points="60.0,753.3 61.2,745.6 61.7,745.7 62.0,744.9 63.5,744.5 64.7,745.4 65.2,744.4 65.8,745.3 66.1,744.2 66.4,744.2 66.7,743.8 67.0,744.4 67.3,743.7 67.6,743.8 67.9,744.6 68.4,743.0 68.7,743.1 69.3,745.0 69.9,744.6 70.2,745.2 70.5,744.5 70.8,744.9 71.6,743.7 71.9,744.2 72.5,744.1 73.1,743.1 74.0,745.0 74.3,745.0 74.6,743.8 74.9,744.0 75.1,742.6 75.7,744.6 76.3,744.9 76.6,743.7 76.9,744.9 77.8,743.7 78.3,745.5 79.2,743.3 80.4,745.0 81.0,744.6 81.5,745.5 82.1,742.8 83.0,744.9 83.3,743.6 84.2,744.8 84.5,744.5 84.8,745.1 85.6,744.4 85.9,744.6 86.5,743.0 86.8,743.0 87.4,745.1 88.0,745.9 88.5,745.7 88.8,744.2 89.1,744.3 89.4,743.5 90.0,743.8 90.6,745.3 90.9,745.2 91.2,744.6 91.7,744.6 92.0,745.5 92.3,744.4 92.9,744.0 93.2,745.3 93.5,745.0 93.8,745.3 94.1,745.2 94.7,747.0 95.2,744.9 96.1,745.3 96.4,742.6 97.0,743.7 97.3,746.1 97.9,744.1 98.7,742.6 99.3,743.3 99.6,744.6 100.8,745.7 101.6,744.6 102.2,745.9 103.1,743.8 103.7,745.0 104.3,745.2 104.6,743.7 104.8,743.6 105.7,747.2 106.0,746.1 106.6,746.5 107.2,743.7 107.8,744.5 108.6,743.0 108.9,744.0 109.2,742.7 109.5,742.8 109.8,742.1 110.7,744.9 111.5,742.7 113.0,746.3 113.3,745.4 113.6,745.6 113.9,744.3 114.2,744.9 115.0,741.9 115.3,742.0 116.2,745.3 116.8,743.8 117.1,744.0 117.4,742.7 118.2,745.3 118.8,743.9 119.1,744.7 119.4,744.3 119.7,744.7 120.0,743.5 120.3,744.5 120.6,744.0 121.4,745.7 122.3,745.4 123.2,742.0 124.6,746.5 125.2,745.9 125.5,743.7 125.8,744.5 126.1,744.0 127.0,745.7 127.9,743.7 128.1,744.8 128.7,744.2 129.3,744.2 129.6,745.6 129.9,744.9 130.2,746.0 130.5,745.0 131.3,745.0 131.6,745.5 131.9,744.8 132.2,745.6 132.5,744.7 132.8,745.0 133.1,743.7 133.4,743.7 133.7,743.1 134.6,746.9 135.4,743.3 135.7,743.6 136.0,743.4 136.3,744.2 137.2,744.1 137.5,745.2 138.0,744.8 138.9,742.9 139.2,743.7 139.5,742.4 139.8,743.2 140.1,743.2 140.4,745.1 141.0,746.4 141.8,744.5 142.1,745.5 142.7,746.2 144.2,742.8 144.5,744.2 145.0,744.7 145.3,744.0 145.9,744.7 146.2,743.7 146.5,744.4 146.8,743.3 147.1,743.8 147.4,742.4 147.9,742.6 148.8,745.2 149.1,744.5 149.4,744.7 149.7,743.5 150.3,744.3 150.6,745.6 151.4,743.7 151.7,745.3 152.9,743.2 153.8,746.7 154.6,743.2 154.9,744.0 155.2,743.8 155.5,745.1 155.8,744.6 156.1,745.6 157.0,743.7 157.3,743.6 157.6,744.1 158.1,743.2 159.0,744.7 159.3,743.7 159.9,743.2 160.5,744.3 161.1,743.7 161.6,745.6 161.9,745.7 162.2,744.8 162.8,745.6 163.1,745.0 163.4,745.0 164.5,742.4 164.8,743.3 165.1,743.2 165.4,743.7 165.7,743.1 166.0,744.4 166.3,743.7 166.6,744.6 166.9,743.9 167.2,744.0 167.5,743.7 168.0,744.7 168.9,742.7 169.5,744.5 169.8,744.5 170.1,743.7 170.7,744.7 171.0,744.7 171.5,743.3 171.8,744.3 172.4,744.1 172.7,743.1 173.0,745.3 173.6,746.1 173.9,744.7 174.2,744.8 174.7,746.7 175.6,744.3 176.5,745.9 176.8,744.4 177.4,743.4 177.7,745.0 177.9,744.7 178.2,744.9 178.5,743.8 178.8,744.8 179.4,745.2 179.7,745.0 180.0,745.4 180.9,743.9 181.4,745.8 181.7,745.6 182.6,742.7 183.5,746.3 184.1,745.3 184.3,743.8 185.2,744.0 185.5,742.2 187.0,743.3 187.8,745.5 188.7,742.9 189.0,744.3 189.6,744.5 189.9,742.9 191.0,745.7 191.3,744.1 192.2,746.3 193.1,745.0 193.4,743.4 193.7,743.1 195.1,744.5 195.7,744.0 196.6,745.2 197.2,744.6 197.5,744.7 198.3,742.2 199.2,744.8 199.5,745.0 199.8,744.2 200.4,743.6 200.7,743.7 201.8,746.5 202.4,744.4 203.0,743.9 203.3,744.7 204.2,741.8 204.7,743.3 205.0,743.2 205.3,743.5 205.9,744.9 206.2,743.8 206.8,743.2 207.1,743.6 207.4,743.4 208.2,746.4 209.1,744.2 209.7,745.5 210.0,743.8 210.8,745.4 211.1,745.3 211.4,743.9 211.7,745.0 212.0,743.7 212.6,743.3 213.2,745.3 213.5,744.5 214.3,744.9 214.9,744.0 215.2,744.5 215.5,744.2 216.4,745.5 217.0,744.5 217.5,745.7 218.1,745.9 218.4,744.2 218.7,744.8 219.0,744.6 219.3,745.8 219.6,745.2 219.9,745.7 220.8,742.8 222.2,745.6 223.1,743.3 224.0,745.3 224.8,743.6 225.1,745.3 225.7,744.7 226.0,742.3 226.9,746.8 227.2,747.0 227.4,744.6 228.0,744.0 228.3,744.6 228.9,742.8 229.2,743.7 229.5,743.1 230.1,743.7 230.7,745.6 231.2,746.4 232.4,745.4 232.7,745.6 233.0,744.6 233.3,744.9 233.6,744.7 233.9,745.9 234.1,745.7 234.4,746.1 235.3,742.9 235.6,744.4 236.5,745.9 237.1,745.5 237.9,742.8 238.5,744.2 238.8,743.7 239.1,745.3 239.4,743.1 239.7,744.0 240.0,742.9 240.6,742.2 241.4,747.1 242.3,743.2 242.6,743.5 242.9,743.0 243.8,746.5 244.3,745.0 244.9,746.7 245.5,744.2 245.8,744.0 246.4,746.2 246.7,746.0 247.5,742.8 247.8,744.6 248.1,744.6 248.4,745.8 248.7,745.1 249.0,745.9 249.3,745.0 250.2,745.7 250.7,745.0 251.0,745.4 251.9,743.6 252.5,744.7 253.1,742.4 253.4,742.2 254.2,743.6 254.8,746.0 255.1,746.0 255.7,744.6 256.3,745.5 257.2,746.1 257.4,747.0 258.3,745.7 258.9,745.7 259.8,746.8 260.1,745.9 260.4,746.2 260.6,745.7 260.9,747.1 261.2,745.4 261.8,744.4 262.1,745.4 262.7,744.0 263.6,746.2 263.9,745.0 264.1,744.9 264.7,745.6 265.3,743.3 266.5,742.3 266.8,742.5 267.1,744.8 267.6,744.5 267.9,743.1 268.5,744.6 269.7,745.4 270.0,746.4 270.8,742.6 271.4,742.5 272.6,745.7 273.2,744.3 273.8,744.9 274.6,743.6 274.9,744.3 275.5,743.7 275.8,744.1 276.1,743.9 276.4,744.7 276.7,744.0 277.0,744.8 277.2,744.1 277.5,744.1 277.8,743.6 279.0,744.4 279.6,745.9 280.4,744.0 280.7,744.0 281.0,745.1 281.9,743.7 282.8,745.9 283.1,745.8 283.4,743.9 284.2,744.9 284.5,743.7 284.8,744.4 285.1,744.0 285.4,744.8 285.7,744.5 286.3,746.3 286.9,744.9 287.1,744.9 287.4,745.6 288.3,742.7 288.9,743.0 289.5,744.9 290.4,743.8 290.6,744.8 291.2,743.7 291.5,743.7 292.1,744.6 292.4,744.0 293.0,744.1 293.3,744.8 293.8,745.2 294.1,744.5 294.4,744.5 294.7,743.2 295.6,744.9 295.9,744.2 296.2,744.4 296.5,743.4 296.8,743.9 297.0,742.4 297.3,744.2 297.6,743.7 298.8,744.0 299.1,742.6 299.7,741.9 300.8,743.8 301.4,746.6 302.3,743.9 303.2,745.8 303.5,744.8 303.7,745.5 304.0,743.8 304.3,744.8 304.6,742.3 304.9,743.0 305.2,742.9 305.8,744.9 306.1,743.8 306.4,743.9 306.7,743.5 306.9,744.9 307.2,744.6 307.5,745.6 308.1,745.1 308.4,745.4 308.7,744.8 309.0,744.9 309.6,743.0 310.2,742.7 311.0,745.9 311.3,744.5 311.9,744.2 312.2,745.6 312.8,745.3 313.1,746.0 313.6,745.9 313.9,744.6 314.5,745.3 314.8,744.6 315.1,744.8 315.4,743.8 316.3,745.8 316.6,745.8 316.9,744.2 317.1,744.0 317.7,744.2 318.0,743.4 318.6,745.2 318.9,745.1 319.2,743.9 319.8,744.1 320.3,742.7 320.9,744.4 321.5,743.9 322.1,744.3 322.7,745.9 323.5,743.8 324.1,744.1 325.0,745.4 325.6,743.3 325.9,744.4 326.2,744.5 326.5,746.2 326.8,744.2 327.0,744.4 327.3,743.3 327.6,745.8 328.2,746.1 328.5,745.0 329.1,744.9 329.7,744.1 330.2,744.7 331.1,743.3 332.0,746.6 332.3,745.6 333.2,744.6 333.7,742.9 334.3,744.4 334.9,744.7 335.5,743.4 335.8,743.8 336.4,743.7 336.7,742.6 337.2,742.7 337.5,743.3 338.1,743.0 339.0,744.6 339.6,744.1 339.9,745.0 340.1,744.6 340.4,745.0 340.7,744.8 341.0,746.0 341.6,745.1 342.5,747.6 344.2,742.1 345.4,745.8 346.0,745.8 346.6,744.0 346.8,744.3 347.7,743.2 348.3,745.0 348.9,742.5 349.2,742.4 350.0,746.2 350.6,745.3 350.9,743.5 351.5,744.8 351.8,744.4 352.1,744.5 352.4,743.7 352.7,744.0 353.0,743.5 353.8,745.6 355.0,745.6 355.6,742.8 356.2,743.5 356.5,744.6 356.7,744.1 357.0,744.7 357.3,744.6 357.6,744.0 357.9,744.5 358.2,744.0 358.5,744.5 358.8,743.6 359.1,744.8 359.4,744.0 360.2,745.4 361.1,744.8 361.4,743.6 361.7,743.6 362.3,744.5 362.6,744.4 362.9,744.7 364.0,744.6 364.6,744.0 365.2,744.9 365.5,744.8 365.8,745.7 366.6,743.7 367.5,746.4 368.1,746.1 368.4,745.2 368.7,745.8 369.0,744.9 369.3,745.8 369.6,744.2 369.9,744.9 370.1,743.4 370.4,744.6 371.0,744.8 371.3,742.9 371.9,742.1 372.2,743.1 372.5,742.5 372.8,743.4 373.3,743.8 374.2,745.8 374.8,742.1 375.1,742.1 375.7,743.7 376.3,743.0 377.1,746.6 377.4,746.5 378.0,744.1 378.9,745.6 379.5,743.6 380.6,742.5 381.5,745.4 381.8,743.7 382.1,743.9 382.4,743.5 383.2,745.1 384.1,743.3 385.6,746.2 386.2,744.9 386.5,745.5 387.3,741.4 388.2,744.9 389.1,744.2 389.7,745.5 390.2,744.3 391.1,745.4 391.4,743.8 391.7,743.6 392.0,743.7 392.3,744.6 393.7,745.1 394.6,742.6 394.9,743.6 395.2,743.5 395.5,744.9 396.1,744.1 396.4,742.7 396.6,743.4 396.9,742.8 397.2,743.5 397.5,742.6 399.0,745.2 399.3,743.6 399.6,743.6 400.1,745.0 400.7,743.4 401.0,745.3 401.3,743.7 401.6,743.9 401.9,743.0 402.2,745.2 403.9,743.6 404.2,744.5 404.5,743.9 404.8,744.3 405.1,743.7 406.0,743.8 407.1,746.5 407.4,746.4 408.3,744.1 408.9,745.9 409.2,746.0 409.5,744.0 410.0,743.1 410.3,745.1 410.6,745.2 410.9,746.5 412.1,744.0 412.4,744.8 413.2,742.9 413.8,745.3 414.4,746.1 415.3,743.6 415.6,745.0 415.9,744.1 416.2,744.4 416.4,743.3 417.0,744.5 417.3,743.4 417.6,744.4 417.9,743.1 418.2,744.8 418.8,744.8 419.4,742.7 420.2,745.4 420.8,743.5 421.1,743.9 421.7,746.4 422.3,745.8 422.9,745.7 423.4,743.9 424.0,745.2 424.3,744.3 424.6,744.4 425.5,745.6 426.3,743.0 426.9,744.4 427.5,744.9 428.1,744.3 428.4,743.3 429.3,745.8 429.6,744.2 429.8,745.2 430.1,744.6 431.0,744.7 431.3,746.5 431.6,745.0 431.9,745.3 432.2,744.7 432.5,745.8 433.3,743.9 433.6,743.7 434.2,744.3 435.1,743.3 436.0,744.7 436.2,744.8 436.5,743.1 437.1,743.8 437.4,745.0 438.3,744.5 439.2,744.7 439.7,742.3 440.6,744.2 440.9,743.9 441.2,744.2 441.5,744.0 441.8,744.5 442.1,744.2 442.4,745.6 442.7,745.5 442.9,745.9 443.5,744.8 444.4,745.6 445.0,743.8 445.3,743.8 445.6,744.7 446.2,745.3 446.4,744.3 447.0,743.8 447.9,745.8 448.5,744.0 449.4,746.2 450.5,743.0 450.8,743.2 451.1,742.8 451.7,743.4 452.3,746.7 452.6,745.6 453.4,744.6 453.7,744.6 454.3,746.5 455.2,742.7 456.1,746.9 457.5,743.0 457.8,743.5 458.1,743.0 459.0,746.6 459.8,743.7 460.7,744.2 461.0,743.2 461.6,745.2 462.2,744.7 462.5,745.2 462.7,745.1 463.3,742.9 463.6,742.8 464.2,745.0 464.5,745.3 465.1,743.5 465.7,744.0 466.5,744.0 467.1,745.4 467.7,744.1" fill="none" stroke="#9010d0" stroke-width="2.0" stroke-linejoin="round" stroke-linecap="round" opacity="1.0"/>
<line x1="417.1" y1="573.7" x2="452.8" y2="573.7" stroke="#45aee8" stroke-width="2"/>
<polyline points="60.0,549.8 61.7,600.9 62.6,617.1 63.2,620.5 65.2,605.8 67.3,593.6 67.6,592.2 67.9,592.5 68.2,591.2 69.0,584.3 69.3,583.6 70.2,584.6 70.8,580.6 71.1,580.7 71.4,579.8 71.9,579.6 72.2,578.4 72.5,578.3 73.1,579.3 73.7,578.4 74.3,578.2 74.9,579.3 75.1,578.6 76.9,585.0 78.1,582.0 80.1,586.9 80.4,586.4 80.7,586.5 81.0,585.6 81.5,587.2 81.8,585.9 82.1,585.7 82.4,583.8 83.3,583.8 83.6,584.2 83.9,583.4 84.8,584.4 85.3,585.9 85.9,585.3 86.2,584.2 87.4,585.9 88.0,584.7 88.2,585.0 89.1,582.4 89.4,582.4 89.7,583.8 90.0,583.8 90.9,581.1 91.7,582.4 92.9,590.0 93.8,593.4 94.1,592.5 94.4,592.8 94.7,592.5 95.2,595.3 95.5,595.3 95.8,594.2 96.1,594.4 96.4,591.3 96.7,590.5 97.0,591.0 97.3,589.6 97.6,590.9 97.9,591.0 98.1,590.1 98.4,591.0 98.7,590.8 99.3,592.0 99.9,587.8 100.2,587.3 100.8,589.9 101.1,590.0 101.6,587.0 102.2,586.7 102.5,585.5 102.8,585.5 103.4,586.8 103.7,586.2 104.3,587.5 104.6,586.6 104.8,587.8 105.1,587.4 105.7,583.1 106.0,583.0 106.3,584.0 106.9,588.0 108.1,584.9 108.3,586.0 108.9,586.5 109.2,586.3 109.5,584.4 110.4,585.5 110.7,586.9 111.0,585.7 111.3,585.9 111.5,584.1 111.8,585.2 112.4,584.2 112.7,586.4 113.0,584.5 113.3,585.4 113.9,582.7 115.0,584.4 115.6,583.0 115.9,583.0 116.2,584.0 116.5,583.6 117.1,585.0 117.4,583.5 118.2,582.2 118.5,582.1 119.1,583.1 119.4,582.5 119.7,583.5 120.0,583.4 120.6,584.0 120.9,583.9 121.2,582.8 121.4,582.7 121.7,583.3 122.0,582.7 122.6,584.2 122.9,583.7 123.2,584.2 123.8,582.9 124.1,585.3 124.4,585.1 125.8,592.5 126.1,591.9 127.0,594.6 127.3,594.7 127.6,594.5 127.9,592.1 128.1,592.2 129.0,595.7 129.6,593.4 130.8,592.2 131.9,584.4 133.1,588.1 134.0,585.7 134.3,585.8 135.4,590.5 136.0,588.7 136.3,589.2 136.9,589.0 137.2,589.1 138.3,583.5 138.9,585.1 139.2,584.7 139.5,586.0 140.1,584.5 140.4,585.6 141.0,584.9 141.2,586.2 141.8,585.6 142.1,585.8 142.4,585.2 142.7,587.2 143.6,587.0 143.9,586.0 144.7,584.7 145.0,584.7 145.3,583.9 146.8,587.6 147.4,585.0 147.9,584.9 148.5,586.1 149.7,583.5 150.3,582.8 150.9,583.8 151.2,585.8 151.4,585.8 152.0,584.9 152.3,583.6 152.6,585.0 152.9,583.9 154.4,588.0 154.9,585.6 155.2,587.2 156.4,581.6 157.0,583.3 157.3,583.2 157.6,583.8 158.7,579.7 160.5,584.3 161.1,587.0 161.3,587.3 162.2,583.7 162.5,583.4 163.1,584.8 163.7,583.5 164.0,584.4 164.3,584.3 164.8,587.0 165.1,585.7 165.4,586.3 166.0,583.8 166.3,584.5 166.9,582.3 168.0,583.0 168.9,582.0 169.5,583.4 170.1,581.7 170.4,581.9 171.2,585.3 171.8,583.4 173.0,583.8 173.3,583.4 174.4,579.1 174.7,580.4 175.0,580.1 175.6,582.8 176.2,582.1 176.5,580.0 177.4,578.9 177.7,579.7 178.8,578.6 179.4,576.2 180.0,576.9 180.3,576.0 180.9,577.4 181.1,576.5 181.7,577.4 182.3,575.7 182.6,575.9 182.9,575.2 184.3,583.2 184.6,583.2 185.8,579.5 187.6,586.0 188.1,585.8 188.7,583.8 189.0,584.0 189.3,583.7 190.2,586.4 190.5,586.6 191.0,586.1 191.6,587.1 191.9,586.7 192.5,586.6 193.1,588.6 193.4,588.7 194.0,586.4 194.5,586.5 194.8,588.2 195.4,586.3 195.7,586.8 196.0,585.9 196.3,586.3 198.6,578.7 198.9,578.4 200.1,580.6 200.4,579.0 201.2,577.7 201.5,578.3 202.4,576.0 203.0,576.5 203.3,575.8 203.6,576.6 203.9,576.5 204.2,575.6 204.4,576.1 205.0,574.8 205.3,575.1 205.6,574.3 207.1,578.6 207.6,578.1 208.2,576.4 209.4,580.3 209.7,579.2 210.0,579.6 210.3,579.4 210.6,579.7 210.8,582.3 211.1,581.9 211.4,582.9 212.0,580.9 213.2,584.2 214.1,584.4 214.3,584.1 214.6,584.8 215.2,584.0 215.5,584.7 215.8,583.2 216.4,582.2 217.3,584.0 217.5,584.0 217.8,583.1 218.1,583.6 218.4,581.9 219.3,580.8 219.9,583.6 220.2,584.0 220.5,583.9 221.0,581.2 221.3,580.3 221.6,580.3 222.2,584.5 222.5,584.9 223.4,581.1 224.5,583.8 225.1,582.2 225.4,582.6 225.7,581.9 226.0,580.4 226.3,580.6 226.6,579.8 227.2,580.6 227.4,581.9 228.0,580.9 228.3,582.0 228.6,581.4 229.2,584.0 229.8,583.2 230.1,584.0 230.7,581.3 230.9,582.4 231.5,581.7 232.4,579.2 233.0,581.1 233.3,580.3 233.6,580.7 234.1,577.4 234.7,576.1 235.0,576.4 235.6,580.8 236.5,582.2 237.1,580.3 237.3,580.5 237.6,578.6 238.2,580.2 238.5,578.4 238.8,580.5 239.4,580.1 239.7,580.7 240.0,580.3 240.3,580.8 241.1,577.1 241.4,577.0 242.0,579.4 242.3,579.5 242.6,580.5 242.9,579.7 243.5,579.2 243.8,577.7 244.3,578.5 244.6,578.4 244.9,579.4 245.5,578.4 245.8,579.4 246.1,578.5 246.4,579.2 246.7,579.3 247.8,575.3 248.4,575.9 248.7,575.3 249.0,577.6 249.3,577.8 249.6,577.3 249.9,577.7 250.5,576.3 251.0,576.9 251.3,575.7 251.6,577.0 252.2,577.3 252.8,578.9 253.1,577.9 253.4,579.8 253.7,579.7 253.9,578.7 254.2,579.2 254.5,578.0 254.8,578.3 255.1,578.2 255.4,579.1 256.0,577.6 256.6,580.4 257.2,580.9 257.4,578.7 258.6,580.0 259.5,577.9 260.1,578.7 260.6,581.3 260.9,580.5 261.2,581.3 261.8,577.5 262.1,579.3 262.4,579.0 263.3,581.3 263.6,580.9 264.1,581.7 264.4,580.3 264.7,580.7 265.3,577.5 265.6,577.7 265.9,577.2 266.2,579.8 266.5,579.4 267.9,573.8 268.2,575.2 268.5,575.2 269.1,576.7 270.0,575.9 271.1,572.8 271.7,572.8 272.6,575.1 273.2,573.7 273.5,574.9 273.8,573.7 274.0,574.6 274.6,572.7 275.8,574.5 277.0,569.2 278.7,575.9 280.2,571.2 280.4,571.2 280.7,572.1 281.0,571.7 282.5,574.4 283.4,572.4 283.9,572.8 284.5,574.1 285.1,573.4 285.7,571.6 286.3,573.0 286.6,572.0 287.1,574.0 287.4,573.4 287.7,574.0 288.3,573.1 288.6,574.2 289.5,574.8 290.4,573.5 290.6,574.7 291.2,575.2 291.5,576.4 291.8,576.4 292.7,577.9 293.0,576.3 293.6,577.0 293.8,576.9 294.1,577.5 294.4,577.0 295.0,580.3 295.9,579.4 296.2,577.1 297.9,584.9 298.5,582.8 298.8,583.0 299.1,582.3 299.4,582.8 299.7,582.3 300.0,583.3 300.5,583.4 300.8,584.9 301.1,583.6 301.7,584.4 302.0,583.1 302.6,583.1 302.9,581.6 303.5,583.2 303.7,581.9 304.0,583.0 304.3,581.4 304.6,581.3 305.5,586.6 306.7,581.0 307.2,582.1 307.8,579.4 308.1,579.5 308.4,578.8 308.7,581.1 309.0,581.5 309.3,580.2 310.4,584.1 310.7,583.0 311.3,583.1 312.2,581.9 312.8,582.6 313.1,581.8 313.4,582.4 313.6,581.6 314.5,584.6 315.7,580.5 316.9,584.7 317.7,585.0 318.0,582.9 318.9,580.3 319.2,582.7 320.1,583.6 320.6,582.2 320.9,583.3 321.5,583.9 321.8,585.6 322.7,581.6 323.3,582.6 323.8,585.6 324.1,584.6 324.4,585.5 324.7,585.6 325.3,583.2 325.6,583.9 325.9,583.8 326.2,584.1 326.5,585.0 327.0,583.3 327.6,584.5 327.9,583.1 328.2,584.1 328.8,581.2 330.0,587.8 330.5,586.3 330.8,583.7 331.4,581.8 331.7,581.5 332.3,583.7 332.6,583.6 333.2,581.5 334.0,584.5 334.9,578.9 335.5,578.9 335.8,580.1 336.1,580.3 336.4,577.3 336.7,578.0 337.2,576.2 337.5,577.2 338.1,576.9 338.4,575.7 338.7,576.5 339.3,576.3 339.9,578.8 340.1,577.7 340.4,577.9 340.7,577.1 341.0,574.8 341.6,574.6 341.9,573.5 342.5,574.9 342.8,572.6 343.4,573.5 343.6,572.7 343.9,573.9 344.5,573.3 345.4,573.9 346.3,572.6 346.6,572.4 346.8,572.7 347.1,572.1 347.4,573.7 348.0,572.6 348.3,574.7 349.2,573.4 349.8,571.6 350.3,573.8 350.6,572.8 350.9,574.2 351.2,574.3 351.5,573.9 351.8,575.1 352.1,573.4 352.4,573.9 353.5,569.0 354.4,573.3 355.0,571.0 355.3,571.1 356.5,573.1 356.7,572.3 357.0,575.2 357.3,575.3 357.9,574.7 358.5,570.8 358.8,571.2 359.1,570.1 360.2,573.8 360.5,572.4 361.4,571.7 362.0,574.2 362.9,570.0 363.2,569.8 364.0,571.6 364.3,570.4 364.6,570.9 365.5,574.1 366.6,567.8 367.2,570.2 367.5,573.4 367.8,573.8 368.7,570.5 369.3,573.6 369.9,572.0 370.1,572.1 370.4,571.7 371.0,575.8 371.6,575.0 372.2,571.7 372.5,571.7 372.8,572.9 373.1,573.1 373.6,576.1 374.2,576.0 374.8,573.6 375.1,573.9 375.4,573.4 376.0,576.5 376.3,575.8 376.5,576.6 376.8,575.3 377.4,577.3 377.7,577.4 378.9,574.3 379.2,575.9 379.5,575.0 379.8,575.1 380.0,576.3 380.3,575.1 380.9,575.9 381.2,574.9 381.5,575.8 382.1,575.4 382.4,575.9 382.7,575.4 383.0,576.5 383.5,575.5 384.1,573.1 384.7,573.2 385.0,574.4 385.6,574.9 386.2,573.2 386.5,573.5 387.0,572.0 388.5,574.3 389.7,571.5 389.9,571.2 390.2,571.9 391.1,570.4 391.4,571.4 392.3,570.4 392.6,569.6 392.9,569.8 393.1,569.5 393.4,569.7 393.7,570.4 394.0,570.2 395.2,566.9 395.5,568.2 395.8,568.2 396.1,568.8 396.9,568.9 397.2,567.9 398.1,569.5 398.4,571.5 399.0,570.3 399.3,570.8 399.6,569.0 400.1,570.1 400.4,568.7 400.7,570.1 401.3,569.4 401.6,569.5 401.9,568.8 402.8,569.8 403.1,569.4 403.6,569.9 403.9,569.6 405.1,572.9 406.3,567.1 406.5,568.0 406.8,567.2 407.4,569.9 407.7,569.7 408.0,570.7 408.3,569.7 409.5,575.0 410.6,570.0 411.8,575.5 412.4,572.4 413.0,572.5 413.2,573.4 413.5,572.9 413.8,573.3 414.1,572.7 414.4,573.0 414.7,574.1 415.0,574.1 415.3,575.8 415.6,575.2 415.9,575.6 416.4,573.6 417.0,574.4 417.6,576.4 417.9,576.3 418.2,577.8 418.5,577.5 419.1,578.5 419.4,575.6 419.6,575.2 420.2,575.8 420.8,577.1 422.0,573.3 422.6,575.3 422.9,575.0 423.1,577.7 423.4,577.0 424.0,579.7 424.3,578.7 424.6,580.0 425.2,581.0 425.5,580.9 426.1,578.4 426.9,579.9 427.2,581.5 427.5,580.0 427.8,580.0 428.1,580.6 428.4,579.4 428.7,579.9 429.0,578.6 430.1,580.8 430.4,581.0 430.7,579.9 431.3,582.2 431.6,581.2 431.9,581.3 432.5,579.4 433.0,581.1 433.3,581.1 433.9,582.3 434.5,582.1 434.8,582.9 435.1,581.1 435.4,582.6 436.2,580.9 436.5,578.6 437.1,580.1 437.7,584.8 438.6,582.8 438.9,580.1 440.3,584.9 440.6,585.1 440.9,584.2 441.2,584.8 441.5,583.6 442.1,584.4 442.4,583.9 442.7,585.5 443.5,583.8 443.8,582.1 444.1,582.4 445.0,580.2 445.6,579.8 445.9,579.0 446.2,580.2 446.4,579.4 447.6,584.1 449.4,578.6 449.6,579.5 449.9,578.8 450.2,578.9 450.5,580.1 450.8,578.3 451.7,577.4 452.0,575.6 452.3,576.2 452.8,574.1 453.1,575.5 453.7,574.4 454.3,574.1 454.9,576.7 455.5,574.3 456.1,574.5 456.3,577.4 456.6,577.9 457.2,576.7 457.8,573.7 458.1,573.7 458.7,576.6 459.3,577.6 460.7,572.9 461.0,573.0 461.3,573.9 461.6,573.1 462.2,573.8 462.7,575.9 463.0,574.6 463.6,574.4 463.9,573.2 464.5,574.7 465.1,572.8 465.4,573.5 466.0,572.4 466.2,574.9 466.8,573.9 467.1,575.4 467.7,574.7" fill="none" stroke="#45aee8" stroke-width="1.9" stroke-linejoin="round" stroke-linecap="round" opacity="1.0"/>
<line x1="60.6" y1="764" x2="60.6" y2="740" stroke="#203a8a" stroke-width="1.5"/>
<text class="L" x="552.6" y="445.6" font-size="42" fill="#000" font-family="'Liberation Serif', 'DejaVu Serif', serif">F</text>
<text transform="translate(781.3,476.1) scale(0.96,1)" font-size="12.50" text-anchor="middle" fill="#3a3a3a" font-family="'DejaVu Sans', 'Liberation Sans', sans-serif">EP population per state (cells per mm<tspan dy="-5" font-size="9.4">3</tspan><tspan dy="5">)</tspan></text>
<rect x="576.5" y="493.2" width="409.5" height="277.9" fill="none" stroke="#333" stroke-width="1.2"/>
<line x1="576.5" y1="771.1" x2="576.5" y2="766.1" stroke="#333" stroke-width="1"/>
<line x1="576.5" y1="493.2" x2="576.5" y2="498.2" stroke="#333" stroke-width="1"/>
<text transform="translate(578.2,790.1) scale(0.975,1)" font-size="12.50" text-anchor="middle" fill="#3a3a3a" font-family="'DejaVu Sans', 'Liberation Sans', sans-serif" >0</text>
<line x1="635.0" y1="771.1" x2="635.0" y2="766.1" stroke="#333" stroke-width="1"/>
<line x1="635.0" y1="493.2" x2="635.0" y2="498.2" stroke="#333" stroke-width="1"/>
<text transform="translate(636.7,790.1) scale(0.975,1)" font-size="12.50" text-anchor="middle" fill="#3a3a3a" font-family="'DejaVu Sans', 'Liberation Sans', sans-serif" >50</text>
<line x1="693.5" y1="771.1" x2="693.5" y2="766.1" stroke="#333" stroke-width="1"/>
<line x1="693.5" y1="493.2" x2="693.5" y2="498.2" stroke="#333" stroke-width="1"/>
<text transform="translate(695.2,790.1) scale(0.975,1)" font-size="12.50" text-anchor="middle" fill="#3a3a3a" font-family="'DejaVu Sans', 'Liberation Sans', sans-serif" >100</text>
<line x1="752.0" y1="771.1" x2="752.0" y2="766.1" stroke="#333" stroke-width="1"/>
<line x1="752.0" y1="493.2" x2="752.0" y2="498.2" stroke="#333" stroke-width="1"/>
<text transform="translate(753.7,790.1) scale(0.975,1)" font-size="12.50" text-anchor="middle" fill="#3a3a3a" font-family="'DejaVu Sans', 'Liberation Sans', sans-serif" >150</text>
<line x1="810.5" y1="771.1" x2="810.5" y2="766.1" stroke="#333" stroke-width="1"/>
<line x1="810.5" y1="493.2" x2="810.5" y2="498.2" stroke="#333" stroke-width="1"/>
<text transform="translate(812.2,790.1) scale(0.975,1)" font-size="12.50" text-anchor="middle" fill="#3a3a3a" font-family="'DejaVu Sans', 'Liberation Sans', sans-serif" >200</text>
<line x1="869.0" y1="771.1" x2="869.0" y2="766.1" stroke="#333" stroke-width="1"/>
<line x1="869.0" y1="493.2" x2="869.0" y2="498.2" stroke="#333" stroke-width="1"/>
<text transform="translate(870.7,790.1) scale(0.975,1)" font-size="12.50" text-anchor="middle" fill="#3a3a3a" font-family="'DejaVu Sans', 'Liberation Sans', sans-serif" >250</text>
<line x1="927.5" y1="771.1" x2="927.5" y2="766.1" stroke="#333" stroke-width="1"/>
<line x1="927.5" y1="493.2" x2="927.5" y2="498.2" stroke="#333" stroke-width="1"/>
<text transform="translate(929.2,790.1) scale(0.975,1)" font-size="12.50" text-anchor="middle" fill="#3a3a3a" font-family="'DejaVu Sans', 'Liberation Sans', sans-serif" >300</text>
<line x1="986.0" y1="771.1" x2="986.0" y2="766.1" stroke="#333" stroke-width="1"/>
<line x1="986.0" y1="493.2" x2="986.0" y2="498.2" stroke="#333" stroke-width="1"/>
<text transform="translate(987.7,790.1) scale(0.975,1)" font-size="12.50" text-anchor="middle" fill="#3a3a3a" font-family="'DejaVu Sans', 'Liberation Sans', sans-serif" >350</text>
<line x1="576.5" y1="771.1" x2="581.5" y2="771.1" stroke="#333" stroke-width="1"/>
<line x1="986.0" y1="771.1" x2="981.0" y2="771.1" stroke="#333" stroke-width="1"/>
<text transform="translate(567.2,775.6) scale(0.975,1)" font-size="12.50" text-anchor="end" fill="#3a3a3a" font-family="'DejaVu Sans', 'Liberation Sans', sans-serif" >0</text>
<line x1="576.5" y1="736.4" x2="581.5" y2="736.4" stroke="#333" stroke-width="1"/>
<line x1="986.0" y1="736.4" x2="981.0" y2="736.4" stroke="#333" stroke-width="1"/>
<text transform="translate(567.2,740.9) scale(0.975,1)" font-size="12.50" text-anchor="end" fill="#3a3a3a" font-family="'DejaVu Sans', 'Liberation Sans', sans-serif" >50</text>
<line x1="576.5" y1="701.6" x2="581.5" y2="701.6" stroke="#333" stroke-width="1"/>
<line x1="986.0" y1="701.6" x2="981.0" y2="701.6" stroke="#333" stroke-width="1"/>
<text transform="translate(567.2,706.1) scale(0.975,1)" font-size="12.50" text-anchor="end" fill="#3a3a3a" font-family="'DejaVu Sans', 'Liberation Sans', sans-serif" >100</text>
<line x1="576.5" y1="666.9" x2="581.5" y2="666.9" stroke="#333" stroke-width="1"/>
<line x1="986.0" y1="666.9" x2="981.0" y2="666.9" stroke="#333" stroke-width="1"/>
<text transform="translate(567.2,671.4) scale(0.975,1)" font-size="12.50" text-anchor="end" fill="#3a3a3a" font-family="'DejaVu Sans', 'Liberation Sans', sans-serif" >150</text>
<line x1="576.5" y1="632.1" x2="581.5" y2="632.1" stroke="#333" stroke-width="1"/>
<line x1="986.0" y1="632.1" x2="981.0" y2="632.1" stroke="#333" stroke-width="1"/>
<text transform="translate(567.2,636.6) scale(0.975,1)" font-size="12.50" text-anchor="end" fill="#3a3a3a" font-family="'DejaVu Sans', 'Liberation Sans', sans-serif" >200</text>
<line x1="576.5" y1="597.4" x2="581.5" y2="597.4" stroke="#333" stroke-width="1"/>
<line x1="986.0" y1="597.4" x2="981.0" y2="597.4" stroke="#333" stroke-width="1"/>
<text transform="translate(567.2,601.9) scale(0.975,1)" font-size="12.50" text-anchor="end" fill="#3a3a3a" font-family="'DejaVu Sans', 'Liberation Sans', sans-serif" >250</text>
<line x1="576.5" y1="562.7" x2="581.5" y2="562.7" stroke="#333" stroke-width="1"/>
<line x1="986.0" y1="562.7" x2="981.0" y2="562.7" stroke="#333" stroke-width="1"/>
<text transform="translate(567.2,567.2) scale(0.975,1)" font-size="12.50" text-anchor="end" fill="#3a3a3a" font-family="'DejaVu Sans', 'Liberation Sans', sans-serif" >300</text>
<line x1="576.5" y1="527.9" x2="581.5" y2="527.9" stroke="#333" stroke-width="1"/>
<line x1="986.0" y1="527.9" x2="981.0" y2="527.9" stroke="#333" stroke-width="1"/>
<text transform="translate(567.2,532.4) scale(0.975,1)" font-size="12.50" text-anchor="end" fill="#3a3a3a" font-family="'DejaVu Sans', 'Liberation Sans', sans-serif" >350</text>
<line x1="576.5" y1="493.2" x2="581.5" y2="493.2" stroke="#333" stroke-width="1"/>
<line x1="986.0" y1="493.2" x2="981.0" y2="493.2" stroke="#333" stroke-width="1"/>
<text transform="translate(567.2,497.7) scale(0.975,1)" font-size="12.50" text-anchor="end" fill="#3a3a3a" font-family="'DejaVu Sans', 'Liberation Sans', sans-serif" >400</text>
<text transform="translate(780.2,812.4) scale(0.975,1)" font-size="12.50" text-anchor="middle" fill="#3a3a3a" font-family="'DejaVu Sans', 'Liberation Sans', sans-serif" >days</text>
<text transform="translate(926.0,510.6) scale(0.975,1)" font-size="12.50" text-anchor="end" fill="#3a3a3a" font-family="'DejaVu Sans', 'Liberation Sans', sans-serif" >Total</text>
<text transform="translate(926.0,525.3) scale(0.975,1)" font-size="12.50" text-anchor="end" fill="#3a3a3a" font-family="'DejaVu Sans', 'Liberation Sans', sans-serif" >ACTIVE</text>
<text transform="translate(926.0,539.8) scale(0.975,1)" font-size="12.50" text-anchor="end" fill="#3a3a3a" font-family="'DejaVu Sans', 'Liberation Sans', sans-serif" >ACTIVELY INFECTED</text>
<text transform="translate(926.0,554.3) scale(0.975,1)" font-size="12.50" text-anchor="end" fill="#3a3a3a" font-family="'DejaVu Sans', 'Liberation Sans', sans-serif" >PRESENTING-1</text>
<line x1="934.1" y1="506.3" x2="970.4" y2="506.3" stroke="#000000" stroke-width="2"/>
<polyline points="576.5,501.5 576.8,502.7 577.4,502.3 578.0,503.3 578.8,503.9 579.1,503.7 579.7,505.2 580.0,504.4 580.3,504.5 580.9,504.0 581.8,504.5 582.1,503.9 582.4,504.4 582.9,503.8 583.2,505.0 583.5,505.1 584.1,504.0 584.4,504.2 584.7,504.0 585.3,506.7 586.2,505.0 586.4,503.6 587.6,505.3 588.2,504.2 589.1,505.9 590.0,506.2 590.2,506.8 591.1,505.6 591.4,504.6 592.0,504.9 592.9,504.3 593.5,502.7 594.6,505.0 595.2,504.6 595.8,502.9 596.4,502.6 597.0,504.4 597.6,504.8 598.4,503.8 598.7,504.6 599.9,502.5 600.2,502.6 600.5,503.6 601.7,502.0 602.5,503.1 602.8,502.8 603.7,503.0 604.9,499.5 605.2,500.1 606.0,499.6 606.3,498.8 606.9,498.3 607.5,498.7 608.1,498.0 608.4,496.8 609.0,497.7 609.3,497.5 609.8,498.4 610.1,497.5 610.7,498.2 611.3,497.6 611.6,498.0 612.5,497.7 612.8,498.2 613.4,497.7 613.6,498.2 613.9,497.2 614.2,497.4 615.1,497.2 616.3,500.2 616.6,498.7 616.9,498.4 617.2,499.3 617.5,498.9 618.0,499.6 618.6,499.0 619.2,499.8 620.1,499.1 621.3,499.8 621.8,499.3 622.1,499.9 622.4,499.8 622.7,500.8 623.0,500.3 623.6,501.8 623.9,501.1 624.2,502.0 624.5,502.0 625.3,500.4 625.6,500.7 625.9,500.4 626.5,501.1 626.8,500.6 627.7,500.6 628.0,499.7 628.9,498.8 629.4,499.4 630.0,498.6 630.3,500.1 630.6,500.0 630.9,498.9 631.2,499.5 631.5,498.5 631.8,498.5 632.1,500.2 633.5,496.9 633.8,496.8 634.7,499.2 635.3,498.6 635.6,499.2 636.8,499.0 637.0,499.3 637.6,501.8 637.9,501.6 638.2,503.7 639.1,505.4 640.0,503.0 640.3,502.9 641.4,505.4 641.7,505.3 642.3,503.5 642.9,503.3 643.5,504.7 644.1,503.1 644.4,503.1 644.9,503.5 645.2,504.5 645.5,504.6 646.7,501.5 648.2,503.0 648.5,501.8 649.3,502.5 650.2,500.7 650.8,502.6 651.1,502.0 651.7,503.1 652.0,501.8 652.5,502.0 652.8,500.8 653.1,501.1 653.7,500.9 654.6,503.7 655.8,500.6 656.1,501.2 656.9,500.9 657.2,501.3 658.1,499.5 658.4,498.1 659.0,499.0 659.3,498.8 660.4,500.3 661.0,498.9 661.9,500.7 662.2,501.0 662.8,500.7 663.1,501.4 664.0,500.5 665.1,500.2 665.4,499.8 666.0,500.5 666.6,500.4 668.1,499.1 668.9,499.5 669.8,500.6 670.1,501.5 670.4,501.4 671.9,498.5 673.3,501.2 673.9,499.0 674.5,498.1 675.1,500.2 675.4,499.9 675.7,500.4 676.2,499.7 676.5,500.0 676.8,498.6 677.4,499.1 678.3,501.8 678.6,501.9 679.5,500.1 680.6,502.5 681.2,502.6 681.5,502.1 681.8,502.5 682.7,502.3 683.0,501.7 683.3,502.1 683.8,501.1 684.4,501.4 684.7,500.7 685.0,502.1 685.6,502.2 685.9,503.0 686.2,502.8 686.5,503.0 686.8,502.6 687.6,505.7 687.9,505.7 688.8,503.9 689.1,503.9 690.3,508.3 690.9,507.9 691.2,506.8 691.5,507.7 692.3,508.9 693.2,507.1 693.8,507.2 694.1,506.4 694.7,506.1 696.1,502.6 696.4,502.5 697.0,502.7 697.6,502.1 697.9,500.8 698.8,499.9 699.1,500.1 699.4,499.1 700.5,501.1 702.6,497.5 703.2,499.3 703.4,498.5 703.7,499.2 704.3,497.1 705.2,496.6 705.8,498.7 706.7,499.7 707.2,496.5 707.8,495.2 708.7,497.5 709.3,498.1 709.9,497.1 710.5,497.2 711.0,496.6 711.9,498.2 712.8,496.0 713.7,497.6 714.0,497.4 714.3,497.7 714.6,497.6 714.9,498.1 715.1,498.0 715.4,496.9 715.7,497.2 716.0,496.1 716.6,497.3 716.9,497.0 718.1,500.1 718.7,500.1 719.2,497.9 720.4,502.0 721.0,500.7 721.9,501.7 722.2,501.4 722.5,500.1 723.3,501.8 723.9,501.9 724.5,501.3 724.8,502.7 725.1,502.1 725.7,503.1 726.8,501.1 727.7,502.7 728.0,504.0 728.3,503.3 728.9,503.6 729.5,502.8 730.1,503.3 730.4,502.7 731.5,501.4 731.8,501.6 732.7,500.5 733.3,501.6 733.6,501.3 734.2,502.4 734.5,502.0 734.7,502.8 735.3,500.3 735.6,500.1 736.5,502.3 737.1,500.8 737.4,500.8 738.3,503.0 739.1,500.2 739.4,500.2 740.0,501.3 740.3,500.8 741.2,502.4 741.5,502.3 741.8,502.7 742.1,502.5 742.6,502.8 742.9,502.0 743.5,502.0 743.8,502.9 744.7,503.5 745.3,502.7 745.6,504.0 745.9,503.7 746.1,504.0 747.0,503.3 747.6,504.9 748.5,502.5 748.8,502.8 749.1,502.0 749.7,501.6 750.0,498.9 750.5,498.6 751.1,499.9 751.4,499.7 751.7,500.6 752.0,499.9 752.6,500.8 752.9,499.4 754.0,500.5 754.3,500.1 755.2,500.4 755.8,499.0 756.4,498.8 757.0,500.1 757.6,499.7 757.9,498.7 758.4,498.0 759.0,499.1 759.3,498.7 760.2,498.9 760.5,500.4 761.7,499.9 762.5,501.9 762.8,501.9 764.0,499.8 764.6,501.1 765.2,501.2 765.5,500.3 766.3,500.0 766.6,501.5 767.2,500.2 767.5,500.6 767.8,500.2 769.5,503.0 770.1,501.4 770.7,501.1 771.3,502.7 771.9,501.3 772.2,501.4 772.5,500.8 773.1,502.2 773.4,501.2 773.6,501.7 773.9,501.1 774.5,502.0 774.8,501.1 775.1,501.3 775.7,500.6 776.0,501.6 776.6,501.9 776.9,503.3 777.4,503.3 777.7,504.1 778.6,504.6 779.5,500.7 780.1,500.6 781.0,503.4 781.2,503.1 781.8,504.0 782.1,502.9 782.4,503.9 783.0,502.5 783.3,502.7 783.6,502.1 784.5,504.3 785.6,501.6 785.9,502.4 786.8,501.9 787.1,503.0 787.7,502.5 788.0,503.0 788.3,501.7 789.1,503.6 789.4,502.7 789.7,503.4 790.3,501.6 790.6,501.9 790.9,501.2 791.8,504.1 793.0,503.0 793.2,503.8 793.5,503.9 794.4,500.8 795.3,502.7 795.6,504.6 796.2,502.7 796.8,501.9 797.6,504.1 798.2,502.5 798.5,503.4 799.1,503.9 799.4,503.7 799.7,502.2 800.6,501.3 800.8,502.2 801.4,501.8 801.7,502.2 802.3,499.9 802.6,500.0 802.9,498.9 803.2,499.4 803.5,499.4 803.8,497.8 804.9,498.9 805.8,497.0 806.1,497.4 806.4,497.2 806.7,498.2 807.3,497.0 807.6,497.7 807.9,496.9 808.5,497.7 809.6,496.7 810.8,494.4 811.7,496.0 812.0,495.9 812.5,494.7 813.1,494.7 814.0,496.6 814.3,496.4 814.6,496.7 815.2,495.6 816.1,495.9 816.4,495.5 816.9,495.4 817.5,497.9 817.8,498.0 818.1,497.4 818.4,498.1 818.7,496.7 819.3,498.1 820.2,496.5 821.0,495.7 821.3,496.0 821.6,495.9 822.2,497.7 822.5,497.7 822.8,498.2 823.1,497.3 823.4,497.6 824.2,497.7 824.8,498.5 825.1,497.2 825.4,497.1 825.7,497.7 826.0,497.5 826.3,498.4 826.9,498.2 827.5,499.7 828.3,496.9 829.2,500.1 830.1,497.3 830.4,497.2 831.9,500.9 832.1,501.0 832.4,500.3 832.7,500.3 833.0,499.4 833.3,500.0 833.9,499.3 834.2,499.8 834.5,499.2 834.8,500.0 835.7,500.4 836.2,499.7 837.1,500.9 837.4,502.1 838.9,500.4 839.5,500.7 839.8,500.2 840.0,500.6 840.3,499.9 840.6,500.3 840.9,500.0 841.5,500.9 841.8,500.3 842.1,500.7 842.7,500.2 843.6,500.8 844.4,503.0 844.7,502.9 845.0,502.3 845.3,502.9 845.6,501.9 845.9,501.8 846.2,502.4 846.5,502.0 847.1,503.4 847.6,502.5 847.9,501.0 848.5,500.5 849.1,502.8 850.0,502.8 850.3,502.3 850.9,503.4 851.2,502.5 851.7,504.4 852.0,504.4 852.3,504.9 853.5,502.0 855.0,503.8 855.3,504.9 855.5,503.9 855.8,504.2 856.4,503.7 856.7,504.6 857.0,504.2 857.3,504.3 857.9,503.4 859.3,505.0 860.5,504.6 860.8,505.0 861.1,504.9 861.7,506.5 862.6,506.8 863.7,503.6 864.9,508.4 866.1,503.8 866.4,503.7 867.2,504.4 867.5,504.1 867.8,502.9 868.4,502.4 868.7,501.6 869.0,501.9 869.6,499.9 869.9,500.1 870.2,499.4 871.0,498.9 871.3,497.8 872.2,497.6 872.5,497.8 874.0,500.7 876.0,496.9 876.3,497.4 876.9,497.5 877.8,500.1 878.1,499.8 878.4,500.6 878.7,500.2 878.9,500.3 879.2,501.0 879.8,500.4 880.1,501.2 880.4,501.1 881.0,501.8 881.3,501.4 882.2,503.3 883.0,502.1 883.3,500.6 883.9,501.8 884.2,501.0 884.5,502.3 885.1,501.5 885.7,502.4 886.0,502.0 886.3,502.2 886.8,500.0 887.1,500.4 887.4,500.4 887.7,501.6 888.3,502.2 888.9,500.6 890.1,502.7 890.9,500.6 891.2,500.6 891.5,501.4 892.1,501.0 892.4,501.2 892.7,500.6 893.0,502.2 893.3,501.7 893.6,502.2 894.2,500.8 894.4,500.9 895.9,499.4 896.2,500.7 896.5,500.0 897.1,500.2 897.4,499.2 898.2,500.0 899.1,499.0 899.7,499.7 900.0,500.8 901.5,498.1 901.8,496.8 902.6,496.0 903.5,499.0 903.8,499.2 904.1,499.1 904.4,499.7 905.0,496.9 905.6,496.6 906.1,497.5 906.7,496.4 907.0,497.2 907.3,497.1 908.5,494.3 908.8,494.8 909.1,494.3 909.4,494.7 910.5,497.8 910.8,496.7 911.4,497.3 911.7,496.6 912.0,497.4 912.6,496.6 913.8,497.2 914.3,496.6 914.6,497.1 914.9,496.9 915.2,497.9 915.5,498.0 915.8,497.4 916.1,497.9 916.4,497.1 917.6,498.3 917.8,498.1 918.1,498.6 918.4,498.5 918.7,498.9 919.0,498.7 919.9,499.2 920.2,500.0 920.8,499.4 921.1,499.9 921.4,499.4 922.5,500.6 922.8,499.2 923.7,499.2 924.0,501.3 924.6,501.7 925.2,500.3 926.6,498.4 926.9,498.5 927.8,500.4 928.1,499.5 928.7,499.1 929.0,499.0 929.3,499.4 929.5,499.3 930.7,496.6 931.9,499.0 933.6,498.8 934.2,497.5 934.5,497.8 934.8,496.3 935.1,496.3 935.4,497.0 935.7,496.7 936.0,497.7 936.6,497.2 937.7,499.1 938.6,497.1 939.2,496.7 939.5,496.8 939.8,498.1 940.1,496.6 940.7,498.0 941.0,497.2 941.2,498.2 941.8,496.8 942.1,496.7 942.4,497.8 943.3,498.3 943.6,496.7 944.2,496.9 944.5,497.1 944.8,498.6 945.3,498.1 945.6,498.9 945.9,498.6 946.2,499.3 946.5,499.3 947.1,496.4 948.3,499.5 948.6,499.2 948.9,499.8 949.1,499.6 949.4,501.0 950.6,499.0 951.8,502.8 952.4,500.9 952.7,501.1 953.5,504.0 954.1,503.7 954.4,505.1 954.7,504.6 955.3,504.6 955.9,506.5 956.5,507.1 957.0,505.6 957.6,506.1 957.9,504.9 958.5,504.4 958.8,504.2 959.1,505.5 960.0,502.6 960.6,502.3 961.1,503.0 962.3,500.0 963.5,501.8 964.4,501.8 964.6,501.4 964.9,502.2 966.1,500.5 966.7,502.2 967.9,500.4 968.5,501.0 969.0,501.0 969.9,498.9 970.5,499.4 971.7,502.2 972.0,502.2 973.1,499.0 974.0,500.1 974.6,500.1 974.9,499.3 975.2,500.8 975.5,499.7 976.1,501.3 976.3,501.0 976.9,502.2 977.5,501.1 977.8,501.2 978.4,500.5 978.7,501.4 979.3,500.0 979.6,500.5 979.9,499.4 980.7,499.6 981.3,499.2 981.6,500.5 981.9,500.2 982.5,501.0 983.7,499.5 984.8,500.5 985.4,498.7 986.0,498.4" fill="none" stroke="#000000" stroke-width="2.0" stroke-linejoin="round" stroke-linecap="round" opacity="1.0"/>
<line x1="934.1" y1="521" x2="970.4" y2="521" stroke="#9010d0" stroke-width="2"/>
<polyline points="576.5,501.5 576.8,502.7 577.4,502.3 578.0,503.3 578.8,503.9 579.1,503.7 579.7,505.2 580.0,504.4 580.3,504.5 580.9,504.0 581.8,504.5 582.1,503.9 582.4,504.4 582.9,503.8 583.2,505.0 583.5,505.1 584.1,504.0 584.4,504.2 584.7,504.0 585.3,506.7 586.2,505.0 586.4,503.6 587.6,505.3 588.2,504.2 589.1,505.9 590.0,506.2 590.2,506.8 591.1,505.6 591.4,504.6 592.0,504.9 592.9,504.3 593.5,502.7 594.6,505.0 595.2,504.6 595.8,502.9 596.4,502.6 597.0,504.4 597.6,504.8 598.4,503.8 598.7,504.6 599.9,502.5 600.2,502.6 600.5,503.6 601.7,502.0 602.5,503.1 602.8,502.8 603.7,503.0 604.9,499.5 605.2,500.1 606.0,499.6 606.3,498.8 606.9,498.3 607.5,498.7 608.1,498.0 608.4,496.8 609.0,497.7 609.3,497.5 609.8,498.4 610.1,497.5 610.7,498.2 611.3,497.6 611.6,498.0 612.5,497.7 612.8,498.2 613.4,497.7 613.6,498.2 613.9,497.2 614.2,497.4 615.1,497.2 616.3,500.2 616.6,498.7 616.9,498.4 617.2,499.3 617.5,498.9 618.0,499.6 618.6,499.0 619.2,499.8 620.1,499.1 621.3,499.8 621.8,499.3 622.1,499.9 622.4,499.8 622.7,500.8 623.0,500.3 623.6,501.8 623.9,501.1 624.2,502.0 624.5,502.0 625.3,500.4 625.6,500.7 625.9,500.4 626.5,501.1 626.8,500.6 627.7,500.6 628.0,499.7 628.9,498.8 629.4,499.4 630.0,498.6 630.3,500.1 630.6,500.0 630.9,498.9 631.2,499.5 631.5,498.5 631.8,498.5 632.1,500.2 633.5,496.9 633.8,496.8 634.7,499.2 635.3,498.6 635.6,499.2 636.8,499.0 637.0,499.3 637.6,501.8 637.9,501.6 638.2,503.7 639.1,505.4 640.0,503.0 640.3,502.9 641.4,505.4 641.7,505.3 642.3,503.5 642.9,503.3 643.5,504.7 644.1,503.1 644.4,503.1 644.9,503.5 645.2,504.5 645.5,504.6 646.7,501.5 648.2,503.0 648.5,501.8 649.3,502.5 650.2,500.7 650.8,502.6 651.1,502.0 651.7,503.1 652.0,501.8 652.5,502.0 652.8,500.8 653.1,501.1 653.7,500.9 654.6,503.7 655.8,500.6 656.1,501.2 656.9,500.9 657.2,501.3 658.1,499.5 658.4,498.1 659.0,499.0 659.3,498.8 660.4,500.3 661.0,498.9 661.9,500.7 662.2,501.0 662.8,500.7 663.1,501.4 664.0,500.5 665.1,500.2 665.4,499.8 666.0,500.5 666.6,500.4 668.1,499.1 668.9,499.5 669.8,500.6 670.1,501.5 670.4,501.4 671.9,498.5 673.3,501.2 673.9,499.0 674.5,498.1 675.1,500.2 675.4,499.9 675.7,500.4 676.2,499.7 676.5,500.0 676.8,498.6 677.4,499.1 678.3,501.8 678.6,501.9 679.5,500.1 680.6,502.5 681.2,502.6 681.5,502.1 681.8,502.5 682.7,502.3 683.0,501.7 683.3,502.1 683.8,501.1 684.4,501.4 684.7,500.7 685.0,502.1 685.6,502.2 685.9,503.0 686.2,502.8 686.5,503.0 686.8,502.6 687.6,505.7 687.9,505.7 688.8,503.9 689.1,503.9 690.3,508.3 690.9,507.9 691.2,506.8 691.5,507.7 692.3,508.9 693.2,507.1 693.8,507.2 694.1,506.4 694.7,506.1 696.1,502.6 696.4,502.5 697.0,502.7 697.6,502.1 697.9,500.8 698.8,499.9 699.1,500.1 699.4,499.1 700.5,501.1 702.6,497.5 703.2,499.3 703.4,498.5 703.7,499.2 704.3,497.1 705.2,496.6 705.8,498.7 706.7,499.7 707.2,496.5 707.8,495.2 708.7,497.5 709.3,498.1 709.9,497.1 710.5,497.2 711.0,496.6 711.9,498.2 712.8,496.0 713.7,497.6 714.0,497.4 714.3,497.7 714.6,497.6 714.9,498.1 715.1,498.0 715.4,496.9 715.7,497.2 716.0,496.1 716.6,497.3 716.9,497.0 718.1,500.1 718.7,500.1 719.2,497.9 720.4,502.0 721.0,500.7 721.9,501.7 722.2,501.4 722.5,500.1 723.3,501.8 723.9,501.9 724.5,501.3 724.8,502.7 725.1,502.1 725.7,503.1 726.8,501.1 727.7,502.7 728.0,504.0 728.3,503.3 728.9,503.6 729.5,502.8 730.1,503.3 730.4,502.7 731.5,501.4 731.8,501.6 732.7,500.5 733.3,501.6 733.6,501.3 734.2,502.4 734.5,502.0 734.7,502.8 735.3,500.3 735.6,500.1 736.5,502.3 737.1,500.8 737.4,500.8 738.3,503.0 739.1,500.2 739.4,500.2 740.0,501.3 740.3,500.8 741.2,502.4 741.5,502.3 741.8,502.7 742.1,502.5 742.6,502.8 742.9,502.0 743.5,502.0 743.8,502.9 744.7,503.5 745.3,502.7 745.6,504.0 745.9,503.7 746.1,504.0 747.0,503.3 747.6,504.9 748.5,502.5 748.8,502.8 749.1,502.0 749.7,501.6 750.0,498.9 750.5,498.6 751.1,499.9 751.4,499.7 751.7,500.6 752.0,499.9 752.6,500.8 752.9,499.4 754.0,500.5 754.3,500.1 755.2,500.4 755.8,499.0 756.4,498.8 757.0,500.1 757.6,499.7 757.9,498.7 758.4,498.0 759.0,499.1 759.3,498.7 760.2,498.9 760.5,500.4 761.7,499.9 762.5,501.9 762.8,501.9 764.0,499.8 764.6,501.1 765.2,501.2 765.5,500.3 766.3,500.0 766.6,501.5 767.2,500.2 767.5,500.6 767.8,500.2 769.5,503.0 770.1,501.4 770.7,501.1 771.3,502.7 771.9,501.3 772.2,501.4 772.5,500.8 773.1,502.2 773.4,501.2 773.6,501.7 773.9,501.1 774.5,502.0 774.8,501.1 775.1,501.3 775.7,500.6 776.0,501.6 776.6,501.9 776.9,503.3 777.4,503.3 777.7,504.1 778.6,504.6 779.5,500.7 780.1,500.6 781.0,503.4 781.2,503.1 781.8,504.0 782.1,502.9 782.4,503.9 783.0,502.5 783.3,502.7 783.6,502.1 784.5,504.3 785.6,501.6 785.9,502.4 786.8,501.9 787.1,503.0 787.7,502.5 788.0,503.0 788.3,501.7 789.1,503.6 789.4,502.7 789.7,503.4 790.3,501.6 790.6,501.9 790.9,501.2 791.8,504.1 793.0,503.0 793.2,503.8 793.5,503.9 794.4,500.8 795.3,502.7 795.6,504.6 796.2,502.7 796.8,501.9 797.6,504.1 798.2,502.5 798.5,503.4 799.1,503.9 799.4,503.7 799.7,502.2 800.6,501.3 800.8,502.2 801.4,501.8 801.7,502.2 802.3,499.9 802.6,500.0 802.9,498.9 803.2,499.4 803.5,499.4 803.8,497.8 804.9,498.9 805.8,497.0 806.1,497.4 806.4,497.2 806.7,498.2 807.3,497.0 807.6,497.7 807.9,496.9 808.5,497.7 809.6,496.7 810.8,494.4 811.7,496.0 812.0,495.9 812.5,494.7 813.1,494.7 814.0,496.6 814.3,496.4 814.6,496.7 815.2,495.6 816.1,495.9 816.4,495.5 816.9,495.4 817.5,497.9 817.8,498.0 818.1,497.4 818.4,498.1 818.7,496.7 819.3,498.1 820.2,496.5 821.0,495.7 821.3,496.0 821.6,495.9 822.2,497.7 822.5,497.7 822.8,498.2 823.1,497.3 823.4,497.6 824.2,497.7 824.8,498.5 825.1,497.2 825.4,497.1 825.7,497.7 826.0,497.5 826.3,498.4 826.9,498.2 827.5,499.7 828.3,496.9 829.2,500.1 830.1,497.3 830.4,497.2 831.9,500.9 832.1,501.0 832.4,500.3 832.7,500.3 833.0,499.4 833.3,500.0 833.9,499.3 834.2,499.8 834.5,499.2 834.8,500.0 835.7,500.4 836.2,499.7 837.1,500.9 837.4,502.1 838.9,500.4 839.5,500.7 839.8,500.2 840.0,500.6 840.3,499.9 840.6,500.3 840.9,500.0 841.5,500.9 841.8,500.3 842.1,500.7 842.7,500.2 843.6,500.8 844.4,503.0 844.7,502.9 845.0,502.3 845.3,502.9 845.6,501.9 845.9,501.8 846.2,502.4 846.5,502.0 847.1,503.4 847.6,502.5 847.9,501.0 848.5,500.5 849.1,502.8 850.0,502.8 850.3,502.3 850.9,503.4 851.2,502.5 851.7,504.4 852.0,504.4 852.3,504.9 853.5,502.0 855.0,503.8 855.3,504.9 855.5,503.9 855.8,504.2 856.4,503.7 856.7,504.6 857.0,504.2 857.3,504.3 857.9,503.4 859.3,505.0 860.5,504.6 860.8,505.0 861.1,504.9 861.7,506.5 862.6,506.8 863.7,503.6 864.9,508.4 866.1,503.8 866.4,503.7 867.2,504.4 867.5,504.1 867.8,502.9 868.4,502.4 868.7,501.6 869.0,501.9 869.6,499.9 869.9,500.1 870.2,499.4 871.0,498.9 871.3,497.8 872.2,497.6 872.5,497.8 874.0,500.7 876.0,496.9 876.3,497.4 876.9,497.5 877.8,500.1 878.1,499.8 878.4,500.6 878.7,500.2 878.9,500.3 879.2,501.0 879.8,500.4 880.1,501.2 880.4,501.1 881.0,501.8 881.3,501.4 882.2,503.3 883.0,502.1 883.3,500.6 883.9,501.8 884.2,501.0 884.5,502.3 885.1,501.5 885.7,502.4 886.0,502.0 886.3,502.2 886.8,500.0 887.1,500.4 887.4,500.4 887.7,501.6 888.3,502.2 888.9,500.6 890.1,502.7 890.9,500.6 891.2,500.6 891.5,501.4 892.1,501.0 892.4,501.2 892.7,500.6 893.0,502.2 893.3,501.7 893.6,502.2 894.2,500.8 894.4,500.9 895.9,499.4 896.2,500.7 896.5,500.0 897.1,500.2 897.4,499.2 898.2,500.0 899.1,499.0 899.7,499.7 900.0,500.8 901.5,498.1 901.8,496.8 902.6,496.0 903.5,499.0 903.8,499.2 904.1,499.1 904.4,499.7 905.0,496.9 905.6,496.6 906.1,497.5 906.7,496.4 907.0,497.2 907.3,497.1 908.5,494.3 908.8,494.8 909.1,494.3 909.4,494.7 910.5,497.8 910.8,496.7 911.4,497.3 911.7,496.6 912.0,497.4 912.6,496.6 913.8,497.2 914.3,496.6 914.6,497.1 914.9,496.9 915.2,497.9 915.5,498.0 915.8,497.4 916.1,497.9 916.4,497.1 917.6,498.3 917.8,498.1 918.1,498.6 918.4,498.5 918.7,498.9 919.0,498.7 919.9,499.2 920.2,500.0 920.8,499.4 921.1,499.9 921.4,499.4 922.5,500.6 922.8,499.2 923.7,499.2 924.0,501.3 924.6,501.7 925.2,500.3 926.6,498.4 926.9,498.5 927.8,500.4 928.1,499.5 928.7,499.1 929.0,499.0 929.3,499.4 929.5,499.3 930.7,496.6 931.9,499.0 933.6,498.8 934.2,497.5 934.5,497.8 934.8,496.3 935.1,496.3 935.4,497.0 935.7,496.7 936.0,497.7 936.6,497.2 937.7,499.1 938.6,497.1 939.2,496.7 939.5,496.8 939.8,498.1 940.1,496.6 940.7,498.0 941.0,497.2 941.2,498.2 941.8,496.8 942.1,496.7 942.4,497.8 943.3,498.3 943.6,496.7 944.2,496.9 944.5,497.1 944.8,498.6 945.3,498.1 945.6,498.9 945.9,498.6 946.2,499.3 946.5,499.3 947.1,496.4 948.3,499.5 948.6,499.2 948.9,499.8 949.1,499.6 949.4,501.0 950.6,499.0 951.8,502.8 952.4,500.9 952.7,501.1 953.5,504.0 954.1,503.7 954.4,505.1 954.7,504.6 955.3,504.6 955.9,506.5 956.5,507.1 957.0,505.6 957.6,506.1 957.9,504.9 958.5,504.4 958.8,504.2 959.1,505.5 960.0,502.6 960.6,502.3 961.1,503.0 962.3,500.0 963.5,501.8 964.4,501.8 964.6,501.4 964.9,502.2 966.1,500.5 966.7,502.2 967.9,500.4 968.5,501.0 969.0,501.0 969.9,498.9 970.5,499.4 971.7,502.2 972.0,502.2 973.1,499.0 974.0,500.1 974.6,500.1 974.9,499.3 975.2,500.8 975.5,499.7 976.1,501.3 976.3,501.0 976.9,502.2 977.5,501.1 977.8,501.2 978.4,500.5 978.7,501.4 979.3,500.0 979.6,500.5 979.9,499.4 980.7,499.6 981.3,499.2 981.6,500.5 981.9,500.2 982.5,501.0 983.7,499.5 984.8,500.5 985.4,498.7 986.0,498.4" fill="none" stroke="#9010d0" stroke-width="2.0" stroke-linejoin="round" stroke-linecap="round" opacity="1.0"/>
<line x1="934.1" y1="535.5" x2="970.4" y2="535.5" stroke="#0f9488" stroke-width="2"/>
<polyline points="576.5,770.9 986.0,770.9" fill="none" stroke="#0f9488" stroke-width="1.4" stroke-linejoin="round" stroke-linecap="round" opacity="1.0"/>
<line x1="934.1" y1="550" x2="970.4" y2="550" stroke="#e84020" stroke-width="2"/>
<polyline points="576.5,770.8 986.0,770.8" fill="none" stroke="#6a2a1a" stroke-width="1.4" stroke-linejoin="round" stroke-linecap="round" opacity="1.0"/>
<text class="L" x="1050.0" y="443.5" font-size="42" fill="#000" font-family="'Liberation Serif', 'DejaVu Serif', serif">G</text>
<rect x="1160.8" y="459.0" width="282.4" height="306.6" fill="none" stroke="#b8b8b8" stroke-width="1.2"/>
<line x1="1160.8" y1="765.6" x2="1160.8" y2="760.6" stroke="#b8b8b8" stroke-width="1"/>
<line x1="1160.8" y1="459.0" x2="1160.8" y2="464.0" stroke="#b8b8b8" stroke-width="1"/>
<text transform="translate(1162.5,784.4) scale(0.975,1)" font-size="12.18" text-anchor="middle" fill="#3a3a3a" font-family="'DejaVu Sans', 'Liberation Sans', sans-serif" >0</text>
<line x1="1201.1" y1="765.6" x2="1201.1" y2="760.6" stroke="#b8b8b8" stroke-width="1"/>
<line x1="1201.1" y1="459.0" x2="1201.1" y2="464.0" stroke="#b8b8b8" stroke-width="1"/>
<text transform="translate(1202.8,784.4) scale(0.975,1)" font-size="12.18" text-anchor="middle" fill="#3a3a3a" font-family="'DejaVu Sans', 'Liberation Sans', sans-serif" >50</text>
<line x1="1241.5" y1="765.6" x2="1241.5" y2="760.6" stroke="#b8b8b8" stroke-width="1"/>
<line x1="1241.5" y1="459.0" x2="1241.5" y2="464.0" stroke="#b8b8b8" stroke-width="1"/>
<text transform="translate(1243.2,784.4) scale(0.975,1)" font-size="12.18" text-anchor="middle" fill="#3a3a3a" font-family="'DejaVu Sans', 'Liberation Sans', sans-serif" >100</text>
<line x1="1281.8" y1="765.6" x2="1281.8" y2="760.6" stroke="#b8b8b8" stroke-width="1"/>
<line x1="1281.8" y1="459.0" x2="1281.8" y2="464.0" stroke="#b8b8b8" stroke-width="1"/>
<text transform="translate(1283.5,784.4) scale(0.975,1)" font-size="12.18" text-anchor="middle" fill="#3a3a3a" font-family="'DejaVu Sans', 'Liberation Sans', sans-serif" >150</text>
<line x1="1322.2" y1="765.6" x2="1322.2" y2="760.6" stroke="#b8b8b8" stroke-width="1"/>
<line x1="1322.2" y1="459.0" x2="1322.2" y2="464.0" stroke="#b8b8b8" stroke-width="1"/>
<text transform="translate(1323.9,784.4) scale(0.975,1)" font-size="12.18" text-anchor="middle" fill="#3a3a3a" font-family="'DejaVu Sans', 'Liberation Sans', sans-serif" >200</text>
<line x1="1362.5" y1="765.6" x2="1362.5" y2="760.6" stroke="#b8b8b8" stroke-width="1"/>
<line x1="1362.5" y1="459.0" x2="1362.5" y2="464.0" stroke="#b8b8b8" stroke-width="1"/>
<text transform="translate(1364.2,784.4) scale(0.975,1)" font-size="12.18" text-anchor="middle" fill="#3a3a3a" font-family="'DejaVu Sans', 'Liberation Sans', sans-serif" >250</text>
<line x1="1402.9" y1="765.6" x2="1402.9" y2="760.6" stroke="#b8b8b8" stroke-width="1"/>
<line x1="1402.9" y1="459.0" x2="1402.9" y2="464.0" stroke="#b8b8b8" stroke-width="1"/>
<text transform="translate(1404.6,784.4) scale(0.975,1)" font-size="12.18" text-anchor="middle" fill="#3a3a3a" font-family="'DejaVu Sans', 'Liberation Sans', sans-serif" >300</text>
<line x1="1443.2" y1="765.6" x2="1443.2" y2="760.6" stroke="#b8b8b8" stroke-width="1"/>
<line x1="1443.2" y1="459.0" x2="1443.2" y2="464.0" stroke="#b8b8b8" stroke-width="1"/>
<text transform="translate(1444.9,784.4) scale(0.975,1)" font-size="12.18" text-anchor="middle" fill="#3a3a3a" font-family="'DejaVu Sans', 'Liberation Sans', sans-serif" >350</text>
<line x1="1160.8" y1="765.6" x2="1165.8" y2="765.6" stroke="#b8b8b8" stroke-width="1"/>
<text transform="translate(1151.5,769.8) scale(0.975,1)" font-size="12.18" text-anchor="end" fill="#3a3a3a" font-family="'DejaVu Sans', 'Liberation Sans', sans-serif" >0</text>
<line x1="1160.8" y1="721.8" x2="1165.8" y2="721.8" stroke="#b8b8b8" stroke-width="1"/>
<text transform="translate(1151.5,726.0) scale(0.975,1)" font-size="12.18" text-anchor="end" fill="#3a3a3a" font-family="'DejaVu Sans', 'Liberation Sans', sans-serif" >100000</text>
<line x1="1160.8" y1="678.0" x2="1165.8" y2="678.0" stroke="#b8b8b8" stroke-width="1"/>
<text transform="translate(1151.5,682.2) scale(0.975,1)" font-size="12.18" text-anchor="end" fill="#3a3a3a" font-family="'DejaVu Sans', 'Liberation Sans', sans-serif" >200000</text>
<line x1="1160.8" y1="634.2" x2="1165.8" y2="634.2" stroke="#b8b8b8" stroke-width="1"/>
<text transform="translate(1151.5,638.4) scale(0.975,1)" font-size="12.18" text-anchor="end" fill="#3a3a3a" font-family="'DejaVu Sans', 'Liberation Sans', sans-serif" >300000</text>
<line x1="1160.8" y1="590.4" x2="1165.8" y2="590.4" stroke="#b8b8b8" stroke-width="1"/>
<text transform="translate(1151.5,594.6) scale(0.975,1)" font-size="12.18" text-anchor="end" fill="#3a3a3a" font-family="'DejaVu Sans', 'Liberation Sans', sans-serif" >400000</text>
<line x1="1160.8" y1="546.6" x2="1165.8" y2="546.6" stroke="#b8b8b8" stroke-width="1"/>
<text transform="translate(1151.5,550.8) scale(0.975,1)" font-size="12.18" text-anchor="end" fill="#3a3a3a" font-family="'DejaVu Sans', 'Liberation Sans', sans-serif" >500000</text>
<line x1="1160.8" y1="502.8" x2="1165.8" y2="502.8" stroke="#b8b8b8" stroke-width="1"/>
<text transform="translate(1151.5,507.0) scale(0.975,1)" font-size="12.18" text-anchor="end" fill="#3a3a3a" font-family="'DejaVu Sans', 'Liberation Sans', sans-serif" >600000</text>
<line x1="1160.8" y1="459.0" x2="1165.8" y2="459.0" stroke="#b8b8b8" stroke-width="1"/>
<text transform="translate(1151.5,463.2) scale(0.975,1)" font-size="12.18" text-anchor="end" fill="#3a3a3a" font-family="'DejaVu Sans', 'Liberation Sans', sans-serif" >700000</text>
<line x1="1443.2" y1="765.6" x2="1438.2" y2="765.6" stroke="#b8b8b8" stroke-width="1"/>
<text transform="translate(1455.5,769.8) scale(0.975,1)" font-size="12.18" text-anchor="start" fill="#3a3a3a" font-family="'DejaVu Sans', 'Liberation Sans', sans-serif" >0</text>
<line x1="1443.2" y1="734.9" x2="1438.2" y2="734.9" stroke="#b8b8b8" stroke-width="1"/>
<text transform="translate(1455.5,739.1) scale(0.975,1)" font-size="12.18" text-anchor="start" fill="#3a3a3a" font-family="'DejaVu Sans', 'Liberation Sans', sans-serif" >100000</text>
<line x1="1443.2" y1="704.3" x2="1438.2" y2="704.3" stroke="#b8b8b8" stroke-width="1"/>
<text transform="translate(1455.5,708.5) scale(0.975,1)" font-size="12.18" text-anchor="start" fill="#3a3a3a" font-family="'DejaVu Sans', 'Liberation Sans', sans-serif" >200000</text>
<line x1="1443.2" y1="673.6" x2="1438.2" y2="673.6" stroke="#b8b8b8" stroke-width="1"/>
<text transform="translate(1455.5,677.8) scale(0.975,1)" font-size="12.18" text-anchor="start" fill="#3a3a3a" font-family="'DejaVu Sans', 'Liberation Sans', sans-serif" >300000</text>
<line x1="1443.2" y1="643.0" x2="1438.2" y2="643.0" stroke="#b8b8b8" stroke-width="1"/>
<text transform="translate(1455.5,647.2) scale(0.975,1)" font-size="12.18" text-anchor="start" fill="#3a3a3a" font-family="'DejaVu Sans', 'Liberation Sans', sans-serif" >400000</text>
<line x1="1443.2" y1="612.3" x2="1438.2" y2="612.3" stroke="#b8b8b8" stroke-width="1"/>
<text transform="translate(1455.5,616.5) scale(0.975,1)" font-size="12.18" text-anchor="start" fill="#3a3a3a" font-family="'DejaVu Sans', 'Liberation Sans', sans-serif" >500000</text>
<line x1="1443.2" y1="581.6" x2="1438.2" y2="581.6" stroke="#b8b8b8" stroke-width="1"/>
<text transform="translate(1455.5,585.8) scale(0.975,1)" font-size="12.18" text-anchor="start" fill="#3a3a3a" font-family="'DejaVu Sans', 'Liberation Sans', sans-serif" >600000</text>
<line x1="1443.2" y1="551.0" x2="1438.2" y2="551.0" stroke="#b8b8b8" stroke-width="1"/>
<text transform="translate(1455.5,555.2) scale(0.975,1)" font-size="12.18" text-anchor="start" fill="#3a3a3a" font-family="'DejaVu Sans', 'Liberation Sans', sans-serif" >700000</text>
<line x1="1443.2" y1="520.3" x2="1438.2" y2="520.3" stroke="#b8b8b8" stroke-width="1"/>
<text transform="translate(1455.5,524.5) scale(0.975,1)" font-size="12.18" text-anchor="start" fill="#3a3a3a" font-family="'DejaVu Sans', 'Liberation Sans', sans-serif" >800000</text>
<line x1="1443.2" y1="489.7" x2="1438.2" y2="489.7" stroke="#b8b8b8" stroke-width="1"/>
<text transform="translate(1455.5,493.9) scale(0.975,1)" font-size="12.18" text-anchor="start" fill="#3a3a3a" font-family="'DejaVu Sans', 'Liberation Sans', sans-serif" >900000</text>
<text transform="translate(1455.5,463.2) scale(0.975,1)" font-size="12.18" fill="#3a3a3a" font-family="'DejaVu Sans', 'Liberation Sans', sans-serif">1×10<tspan dy="-5" font-size="9.1">6</tspan></text>
<text transform="translate(1300.7,806.2) scale(0.975,1)" font-size="12.18" text-anchor="middle" fill="#3a3a3a" font-family="'DejaVu Sans', 'Liberation Sans', sans-serif" >days</text>
<text x="0.0" y="0.0" font-size="12.39" text-anchor="middle" fill="#3a3a3a" font-family="'DejaVu Sans', 'Liberation Sans', sans-serif" transform="translate(1088.5,612.2) rotate(-90) scale(0.975,1)">antigen count per mL</text>
<text x="0.0" y="0.0" font-size="12.39" text-anchor="middle" fill="#3a3a3a" font-family="'DejaVu Sans', 'Liberation Sans', sans-serif" transform="translate(1525,612.2) rotate(-90) scale(0.975,1)">Ab titers (IgM, IgG1, IgG2)</text>
<text x="0.0" y="0.0" font-size="12.39" text-anchor="middle" fill="#3a3a3a" font-family="'DejaVu Sans', 'Liberation Sans', sans-serif" transform="translate(1538.3,612.2) rotate(-90) scale(0.975,1)">arbitrary scale</text>
<text transform="translate(1382.9,475.4) scale(0.975,1)" font-size="12.18" text-anchor="end" fill="#3a3a3a" font-family="'DejaVu Sans', 'Liberation Sans', sans-serif" >Ag</text>
<line x1="1390.6" y1="471.2" x2="1427.3" y2="471.2" stroke="#000000" stroke-width="2.0"/>
<text transform="translate(1382.9,490.3) scale(0.975,1)" font-size="12.18" text-anchor="end" fill="#3a3a3a" font-family="'DejaVu Sans', 'Liberation Sans', sans-serif" >IgM+IgG</text>
<line x1="1390.6" y1="486.1" x2="1427.3" y2="486.1" stroke="#f0b060" stroke-width="1.3"/>
<text transform="translate(1382.9,504.8) scale(0.975,1)" font-size="12.18" text-anchor="end" fill="#3a3a3a" font-family="'DejaVu Sans', 'Liberation Sans', sans-serif" >IgM</text>
<line x1="1390.6" y1="500.6" x2="1427.3" y2="500.6" stroke="#1a8a8a" stroke-width="1.8"/>
<text transform="translate(1382.9,519.5) scale(0.975,1)" font-size="12.18" text-anchor="end" fill="#3a3a3a" font-family="'DejaVu Sans', 'Liberation Sans', sans-serif" >IgG1+IgG2</text>
<line x1="1390.6" y1="515.3" x2="1427.3" y2="515.3" stroke="#3aa8f0" stroke-width="1.8"/>
<text transform="translate(1382.9,534.3) scale(0.975,1)" font-size="12.18" text-anchor="end" fill="#3a3a3a" font-family="'DejaVu Sans', 'Liberation Sans', sans-serif" >IgG1</text>
<line x1="1390.6" y1="530.1" x2="1427.3" y2="530.1" stroke="#c8a0e8" stroke-width="1.4"/>
<text transform="translate(1382.9,548.8) scale(0.975,1)" font-size="12.18" text-anchor="end" fill="#3a3a3a" font-family="'DejaVu Sans', 'Liberation Sans', sans-serif" >IgG2</text>
<line x1="1390.6" y1="544.6" x2="1427.3" y2="544.6" stroke="#e06050" stroke-width="1.3"/>
<polyline points="1160.8,765.6 1163.5,762.7 1166.8,756.8 1169.4,755.6 1171.1,755.5 1173.1,756.1 1177.4,758.5 1181.3,761.1 1182.4,761.2 1183.1,760.5 1184.4,737.2 1185.8,689.0 1187.6,644.0 1189.4,621.7 1190.2,615.6 1190.8,613.3 1191.1,613.3 1191.5,613.7 1192.1,615.7 1194.7,629.0 1199.0,661.1 1202.6,684.4 1204.5,692.8 1205.2,694.4 1205.5,694.4 1206.5,670.9 1207.9,585.2 1209.7,519.5 1210.3,506.0 1211.3,495.0 1212.4,485.9 1213.4,482.7 1213.9,483.1 1214.4,484.8 1215.3,490.7 1223.7,564.9 1226.5,585.7 1231.2,614.7 1235.7,635.6 1239.1,648.5 1242.5,659.6 1246.8,671.7 1251.2,682.3 1254.9,690.1 1258.6,696.7 1264.1,705.0 1269.1,711.2 1272.3,714.4 1276.8,717.8 1281.5,720.7 1286.2,723.2 1290.4,724.8 1296.2,726.4 1307.5,728.6 1326.9,729.9 1359.0,730.8 1443.2,731.6" fill="none" stroke="#f0b060" stroke-width="1.3" stroke-linejoin="round" stroke-linecap="round" opacity="1.0"/>
<polyline points="1160.8,765.6 1163.4,762.9 1166.3,756.5 1167.4,755.2 1169.5,755.5 1172.9,756.7 1177.3,759.0 1181.3,761.8 1182.4,761.9 1183.1,761.1 1184.4,744.2 1185.7,708.1 1187.3,674.8 1188.4,662.4 1189.4,656.9 1189.7,656.8 1190.0,657.1 1190.7,658.6 1192.9,667.1 1199.4,702.4 1202.6,716.3 1204.2,720.9 1204.9,721.0 1205.5,719.8 1206.0,713.4 1208.9,634.9 1211.0,616.5 1212.0,612.0 1212.8,610.8 1213.2,611.2 1213.9,612.9 1215.3,620.6 1225.0,689.8 1227.9,704.3 1230.7,715.6 1232.3,720.7 1234.2,725.4 1237.0,731.0 1239.5,735.3 1243.4,740.0 1250.2,745.1 1254.6,747.3 1258.8,748.5 1272.6,750.4 1286.5,751.4 1339.0,751.8 1443.2,751.8" fill="none" stroke="#1a8a8a" stroke-width="1.8" stroke-linejoin="round" stroke-linecap="round" opacity="1.0"/>
<polyline points="1160.8,765.6 1164.2,763.4 1168.5,762.3 1173.2,761.9 1182.1,762.5 1183.1,761.8 1183.7,760.5 1184.2,758.2 1188.7,728.4 1190.8,722.5 1192.6,719.6 1193.6,719.3 1194.8,720.0 1202.6,728.6 1204.5,729.8 1205.7,729.9 1209.1,676.5 1211.3,650.8 1212.8,640.2 1214.2,635.8 1214.9,634.7 1215.3,634.4 1216.2,635.4 1217.0,638.0 1225.5,672.8 1230.4,685.9 1235.4,696.5 1243.3,709.2 1247.0,714.2 1250.7,718.5 1254.1,721.8 1258.8,725.4 1263.4,728.5 1268.1,731.0 1272.5,732.9 1279.6,735.1 1294.4,738.8 1307.3,740.9 1327.0,742.9 1338.6,743.5 1368.5,744.0 1443.2,744.1" fill="none" stroke="#3aa8f0" stroke-width="1.8" stroke-linejoin="round" stroke-linecap="round" opacity="1.0"/>
<polyline points="1160.8,765.6 1163.9,763.8 1167.1,763.0 1172.6,762.5 1182.3,762.8 1183.4,761.9 1184.4,758.1 1188.6,732.1 1190.7,726.1 1192.6,723.0 1193.6,722.7 1195.0,723.4 1202.8,731.8 1204.5,732.9 1205.7,733.0 1209.1,684.4 1210.5,669.4 1212.8,654.0 1214.4,649.0 1215.0,647.7 1215.7,647.3 1216.2,647.7 1216.8,649.5 1218.7,657.7 1225.3,681.2 1230.5,694.3 1235.4,703.9 1243.1,715.5 1246.6,720.0 1250.0,723.6 1253.1,726.3 1256.5,728.7 1261.2,731.4 1265.7,733.6 1274.2,736.5 1290.2,739.8 1304.6,741.8 1323.0,743.3 1337.2,744.1 1359.1,744.5 1443.2,745.4" fill="none" stroke="#c070e8" stroke-width="1.5" stroke-linejoin="round" stroke-linecap="round" opacity="0.8"/>
<polyline points="1160.8,765.6 1182.3,765.1 1184.8,763.8 1188.2,763.5 1205.3,764.0 1207.0,761.6 1209.2,755.8 1211.5,753.1 1213.2,752.2 1214.5,752.5 1222.6,756.2 1227.0,757.3 1247.6,760.1 1260.7,761.2 1319.3,763.4 1443.2,764.2" fill="none" stroke="#e06050" stroke-width="1.3" stroke-linejoin="round" stroke-linecap="round" opacity="1.0"/>
<polyline points="1160.8,765.6 1161.0,467.8 1161.6,765.6 1182.3,765.6 1182.4,546.3 1182.9,546.3 1183.2,765.6 1205.0,765.6 1205.2,546.3 1205.7,546.3 1206.0,765.6 1443.2,765.6" fill="none" stroke="#000000" stroke-width="2.0" stroke-linejoin="round" stroke-linecap="round" opacity="1.0"/>
<text class="L" x="1526.5" y="444.4" font-size="42" fill="#000" font-family="'Liberation Serif', 'DejaVu Serif', serif">H</text>
<rect x="1627.0" y="478.0" width="353.7" height="250.3" fill="none" stroke="#b8b8b8" stroke-width="1.2"/>
<line x1="1627.0" y1="728.3" x2="1627.0" y2="723.3" stroke="#b8b8b8" stroke-width="1"/>
<line x1="1627.0" y1="478.0" x2="1627.0" y2="483.0" stroke="#b8b8b8" stroke-width="1"/>
<text transform="translate(1628.7,744.0) scale(0.975,1)" font-size="11.13" text-anchor="middle" fill="#3a3a3a" font-family="'DejaVu Sans', 'Liberation Sans', sans-serif" >0</text>
<line x1="1677.5" y1="728.3" x2="1677.5" y2="723.3" stroke="#b8b8b8" stroke-width="1"/>
<line x1="1677.5" y1="478.0" x2="1677.5" y2="483.0" stroke="#b8b8b8" stroke-width="1"/>
<text transform="translate(1679.2,744.0) scale(0.975,1)" font-size="11.13" text-anchor="middle" fill="#3a3a3a" font-family="'DejaVu Sans', 'Liberation Sans', sans-serif" >50</text>
<line x1="1728.1" y1="728.3" x2="1728.1" y2="723.3" stroke="#b8b8b8" stroke-width="1"/>
<line x1="1728.1" y1="478.0" x2="1728.1" y2="483.0" stroke="#b8b8b8" stroke-width="1"/>
<text transform="translate(1729.8,744.0) scale(0.975,1)" font-size="11.13" text-anchor="middle" fill="#3a3a3a" font-family="'DejaVu Sans', 'Liberation Sans', sans-serif" >100</text>
<line x1="1778.6" y1="728.3" x2="1778.6" y2="723.3" stroke="#b8b8b8" stroke-width="1"/>
<line x1="1778.6" y1="478.0" x2="1778.6" y2="483.0" stroke="#b8b8b8" stroke-width="1"/>
<text transform="translate(1780.3,744.0) scale(0.975,1)" font-size="11.13" text-anchor="middle" fill="#3a3a3a" font-family="'DejaVu Sans', 'Liberation Sans', sans-serif" >150</text>
<line x1="1829.1" y1="728.3" x2="1829.1" y2="723.3" stroke="#b8b8b8" stroke-width="1"/>
<line x1="1829.1" y1="478.0" x2="1829.1" y2="483.0" stroke="#b8b8b8" stroke-width="1"/>
<text transform="translate(1830.8,744.0) scale(0.975,1)" font-size="11.13" text-anchor="middle" fill="#3a3a3a" font-family="'DejaVu Sans', 'Liberation Sans', sans-serif" >200</text>
<line x1="1879.6" y1="728.3" x2="1879.6" y2="723.3" stroke="#b8b8b8" stroke-width="1"/>
<line x1="1879.6" y1="478.0" x2="1879.6" y2="483.0" stroke="#b8b8b8" stroke-width="1"/>
<text transform="translate(1881.3,744.0) scale(0.975,1)" font-size="11.13" text-anchor="middle" fill="#3a3a3a" font-family="'DejaVu Sans', 'Liberation Sans', sans-serif" >250</text>
<line x1="1930.2" y1="728.3" x2="1930.2" y2="723.3" stroke="#b8b8b8" stroke-width="1"/>
<line x1="1930.2" y1="478.0" x2="1930.2" y2="483.0" stroke="#b8b8b8" stroke-width="1"/>
<text transform="translate(1931.9,744.0) scale(0.975,1)" font-size="11.13" text-anchor="middle" fill="#3a3a3a" font-family="'DejaVu Sans', 'Liberation Sans', sans-serif" >300</text>
<line x1="1980.7" y1="728.3" x2="1980.7" y2="723.3" stroke="#b8b8b8" stroke-width="1"/>
<line x1="1980.7" y1="478.0" x2="1980.7" y2="483.0" stroke="#b8b8b8" stroke-width="1"/>
<text transform="translate(1982.4,744.0) scale(0.975,1)" font-size="11.13" text-anchor="middle" fill="#3a3a3a" font-family="'DejaVu Sans', 'Liberation Sans', sans-serif" >350</text>
<text transform="translate(1620.5,732.1) scale(0.975,1)" font-size="11.13" text-anchor="end" fill="#3a3a3a" font-family="'DejaVu Sans', 'Liberation Sans', sans-serif" >0</text>
<text transform="translate(1620.5,682.0) scale(0.975,1)" font-size="11.13" text-anchor="end" fill="#3a3a3a" font-family="'DejaVu Sans', 'Liberation Sans', sans-serif" >500000</text>
<text transform="translate(1620.5,632.0) scale(0.975,1)" font-size="11.13" text-anchor="end" fill="#3a3a3a" font-family="'DejaVu Sans', 'Liberation Sans', sans-serif">1×10<tspan dy="-4.5" font-size="8.3">6</tspan></text>
<text transform="translate(1620.5,581.9) scale(0.975,1)" font-size="11.13" text-anchor="end" fill="#3a3a3a" font-family="'DejaVu Sans', 'Liberation Sans', sans-serif">1.5×10<tspan dy="-4.5" font-size="8.3">6</tspan></text>
<text transform="translate(1620.5,531.9) scale(0.975,1)" font-size="11.13" text-anchor="end" fill="#3a3a3a" font-family="'DejaVu Sans', 'Liberation Sans', sans-serif">2×10<tspan dy="-4.5" font-size="8.3">6</tspan></text>
<text transform="translate(1620.5,481.8) scale(0.975,1)" font-size="11.13" text-anchor="end" fill="#3a3a3a" font-family="'DejaVu Sans', 'Liberation Sans', sans-serif">2.5×10<tspan dy="-4.5" font-size="8.3">6</tspan></text>
<line x1="1627" y1="728.3" x2="1632" y2="728.3" stroke="#b8b8b8" stroke-width="1"/>
<line x1="1980.7" y1="728.3" x2="1975.7" y2="728.3" stroke="#b8b8b8" stroke-width="1"/>
<line x1="1627" y1="678.2" x2="1632" y2="678.2" stroke="#b8b8b8" stroke-width="1"/>
<line x1="1980.7" y1="678.2" x2="1975.7" y2="678.2" stroke="#b8b8b8" stroke-width="1"/>
<line x1="1627" y1="628.2" x2="1632" y2="628.2" stroke="#b8b8b8" stroke-width="1"/>
<line x1="1980.7" y1="628.2" x2="1975.7" y2="628.2" stroke="#b8b8b8" stroke-width="1"/>
<line x1="1627" y1="578.1" x2="1632" y2="578.1" stroke="#b8b8b8" stroke-width="1"/>
<line x1="1980.7" y1="578.1" x2="1975.7" y2="578.1" stroke="#b8b8b8" stroke-width="1"/>
<line x1="1627" y1="528.1" x2="1632" y2="528.1" stroke="#b8b8b8" stroke-width="1"/>
<line x1="1980.7" y1="528.1" x2="1975.7" y2="528.1" stroke="#b8b8b8" stroke-width="1"/>
<line x1="1627" y1="478.0" x2="1632" y2="478.0" stroke="#b8b8b8" stroke-width="1"/>
<line x1="1980.7" y1="478.0" x2="1975.7" y2="478.0" stroke="#b8b8b8" stroke-width="1"/>
<text transform="translate(1803.2,762.0) scale(0.975,1)" font-size="11.13" text-anchor="middle" fill="#3a3a3a" font-family="'DejaVu Sans', 'Liberation Sans', sans-serif" >days</text>
<text x="0.0" y="0.0" font-size="11.13" text-anchor="middle" fill="#3a3a3a" font-family="'DejaVu Sans', 'Liberation Sans', sans-serif" transform="translate(1560.3,601.8) rotate(-90) scale(0.975,1)">ng/mL</text>
<text transform="translate(1668.8,491.6) scale(0.975,1)" font-size="11.13" text-anchor="end" fill="#3a3a3a" font-family="'DejaVu Sans', 'Liberation Sans', sans-serif" >IFN-g</text>
<line x1="1676.8" y1="487.8" x2="1710.7" y2="487.8" stroke="#9010d0" stroke-width="1.8"/>
<text transform="translate(1668.8,503.5) scale(0.975,1)" font-size="11.13" text-anchor="end" fill="#3a3a3a" font-family="'DejaVu Sans', 'Liberation Sans', sans-serif" >IL-4</text>
<line x1="1676.8" y1="499.7" x2="1710.7" y2="499.7" stroke="#0f9480" stroke-width="1.8"/>
<text transform="translate(1668.8,515.4) scale(0.975,1)" font-size="11.13" text-anchor="end" fill="#3a3a3a" font-family="'DejaVu Sans', 'Liberation Sans', sans-serif" >IL-12</text>
<line x1="1676.8" y1="511.6" x2="1710.7" y2="511.6" stroke="#40a8e8" stroke-width="1.8"/>
<text transform="translate(1668.8,527.3) scale(0.975,1)" font-size="11.13" text-anchor="end" fill="#3a3a3a" font-family="'DejaVu Sans', 'Liberation Sans', sans-serif" >TGF-b</text>
<line x1="1676.8" y1="523.5" x2="1710.7" y2="523.5" stroke="#e8a010" stroke-width="1.8"/>
<text transform="translate(1668.8,539.2) scale(0.975,1)" font-size="11.13" text-anchor="end" fill="#3a3a3a" font-family="'DejaVu Sans', 'Liberation Sans', sans-serif" >TNF-a</text>
<line x1="1676.8" y1="535.4" x2="1710.7" y2="535.4" stroke="#e02010" stroke-width="1.8"/>
<text transform="translate(1668.8,551.1) scale(0.975,1)" font-size="11.13" text-anchor="end" fill="#3a3a3a" font-family="'DejaVu Sans', 'Liberation Sans', sans-serif" >IL-10</text>
<line x1="1676.8" y1="547.3" x2="1710.7" y2="547.3" stroke="#505050" stroke-width="1.8"/>
<text transform="translate(1668.8,563.0) scale(0.975,1)" font-size="11.13" text-anchor="end" fill="#3a3a3a" font-family="'DejaVu Sans', 'Liberation Sans', sans-serif" >IL-6</text>
<line x1="1676.8" y1="559.2" x2="1710.7" y2="559.2" stroke="#b070e0" stroke-width="1.8"/>
<text transform="translate(1668.8,574.9) scale(0.975,1)" font-size="11.13" text-anchor="end" fill="#3a3a3a" font-family="'DejaVu Sans', 'Liberation Sans', sans-serif" >IFN-b</text>
<line x1="1676.8" y1="571.1" x2="1710.7" y2="571.1" stroke="#40b0c8" stroke-width="1.8"/>
<text transform="translate(1668.8,586.8) scale(0.975,1)" font-size="11.13" text-anchor="end" fill="#3a3a3a" font-family="'DejaVu Sans', 'Liberation Sans', sans-serif" >IL-18</text>
<line x1="1676.8" y1="583.0" x2="1710.7" y2="583.0" stroke="#78c8f0" stroke-width="1.8"/>
<text transform="translate(1668.8,598.7) scale(0.975,1)" font-size="11.13" text-anchor="end" fill="#3a3a3a" font-family="'DejaVu Sans', 'Liberation Sans', sans-serif" >IL-23</text>
<line x1="1676.8" y1="594.9" x2="1710.7" y2="594.9" stroke="#f0c060" stroke-width="1.8"/>
<polyline points="1627.0,728.3 1627.5,728.3 1631.5,725.3 1635.0,726.8 1639.3,727.7 1645.2,728.1 1654.8,728.3 1657.8,724.3 1661.1,726.2 1665.1,727.3 1670.5,728.0 1678.8,728.2 1682.9,728.3 1684.9,725.3 1687.5,726.7 1690.9,727.6 1695.3,728.1 1702.3,728.3 1980.7,728.3" fill="none" stroke="#0f9480" stroke-width="1.6" stroke-linejoin="round" stroke-linecap="round" opacity="1.0"/>
<polyline points="1627.0,728.3 1631.9,717.6 1633.5,720.5 1635.2,722.8 1637.2,724.6 1639.5,726.0 1642.2,726.9 1645.4,727.6 1654.8,728.2 1657.8,712.2 1659.2,716.5 1660.8,719.9 1662.5,722.5 1664.5,724.6 1666.7,726.0 1669.4,727.0 1672.8,727.7 1677.2,728.1 1682.9,728.2 1684.9,712.2 1686.1,716.4 1687.5,719.9 1689.0,722.5 1690.9,724.6 1692.9,726.1 1695.3,727.1 1698.3,727.7 1702.3,728.1 1719.4,728.3 1980.7,728.3" fill="none" stroke="#40a8e8" stroke-width="1.6" stroke-linejoin="round" stroke-linecap="round" opacity="1.0"/>
<polyline points="1627.0,728.3 1631.9,677.2 1633.5,691.2 1635.2,701.9 1637.2,710.6 1639.5,717.1 1642.2,721.7 1645.3,724.7 1649.2,726.7 1654.5,727.7 1657.5,660.3 1659.0,677.9 1660.8,692.4 1662.7,703.8 1664.8,712.2 1667.2,718.3 1670.2,722.7 1671.9,724.3 1673.8,725.6 1678.5,727.2 1682.9,727.9 1684.8,702.0 1686.0,708.8 1687.4,714.5 1688.9,718.8 1690.8,722.3 1692.8,724.6 1695.2,726.3 1698.2,727.3 1702.2,727.9 1719.4,728.3 1980.7,728.3" fill="none" stroke="#e8a010" stroke-width="1.8" stroke-linejoin="round" stroke-linecap="round" opacity="1.0"/>
<polyline points="1627.0,728.3 1627.5,728.3 1631.9,701.5 1633.3,709.4 1634.9,715.6 1636.7,720.2 1638.8,723.5 1641.2,725.7 1644.4,727.1 1648.4,727.9 1654.5,728.2 1657.3,697.7 1658.5,705.6 1659.9,712.3 1661.6,717.6 1663.4,721.5 1665.4,724.2 1667.9,726.1 1671.0,727.3 1675.0,727.9 1682.9,728.2 1684.8,711.9 1687.1,719.8 1688.5,722.6 1690.2,724.7 1692.0,726.1 1694.1,727.1 1696.8,727.8 1700.5,728.1 1980.7,728.3" fill="none" stroke="#505050" stroke-width="1.4" stroke-linejoin="round" stroke-linecap="round" opacity="1.0"/>
<polyline points="1627.0,728.3 1629.6,611.0 1630.8,576.5 1632.0,554.5 1633.4,537.6 1634.6,529.4 1635.7,526.8 1636.8,525.3 1639.1,524.0 1641.2,523.6 1641.9,525.9 1642.9,535.1 1644.5,559.9 1648.1,646.0 1649.8,677.7 1651.9,700.7 1653.1,707.0 1654.0,709.2 1654.7,708.3 1654.9,704.1 1656.4,578.1 1657.8,542.9 1659.1,533.5 1660.0,529.9 1661.0,527.7 1662.5,525.8 1664.3,524.5 1666.4,523.8 1668.9,523.6 1669.7,528.7 1670.9,545.8 1674.1,645.4 1675.8,683.0 1677.1,699.4 1678.8,713.7 1680.6,720.8 1681.4,722.9 1682.2,724.1 1682.9,724.3 1683.0,723.4 1683.8,693.3 1684.8,681.3 1685.3,683.3 1686.5,694.5 1688.4,707.1 1691.3,719.6 1692.5,722.9 1694.7,726.2 1696.3,727.5 1698.6,728.0 1702.8,728.3 1980.7,728.3" fill="none" stroke="#9010d0" stroke-width="1.8" stroke-linejoin="round" stroke-linecap="round" opacity="1.0"/>
<polyline points="1627.0,728.0 1980.7,728.0" fill="none" stroke="#7a6a30" stroke-width="1.8" stroke-linejoin="round" stroke-linecap="round" opacity="1.0"/>
<rect x="1786.2" y="492.3" width="185.0" height="129.7" fill="#fff" stroke="#b8b8b8" stroke-width="1"/>
<line x1="1786.2" y1="622.0" x2="1786.2" y2="618.0" stroke="#b8b8b8" stroke-width="1"/>
<line x1="1786.2" y1="492.3" x2="1786.2" y2="496.3" stroke="#b8b8b8" stroke-width="1"/>
<text transform="translate(1787.9,637.5) scale(0.975,1)" font-size="11.13" text-anchor="middle" fill="#3a3a3a" font-family="'DejaVu Sans', 'Liberation Sans', sans-serif" >0</text>
<line x1="1812.6" y1="622.0" x2="1812.6" y2="618.0" stroke="#b8b8b8" stroke-width="1"/>
<line x1="1812.6" y1="492.3" x2="1812.6" y2="496.3" stroke="#b8b8b8" stroke-width="1"/>
<text transform="translate(1814.3,637.5) scale(0.975,1)" font-size="11.13" text-anchor="middle" fill="#3a3a3a" font-family="'DejaVu Sans', 'Liberation Sans', sans-serif" >50</text>
<line x1="1839.1" y1="622.0" x2="1839.1" y2="618.0" stroke="#b8b8b8" stroke-width="1"/>
<line x1="1839.1" y1="492.3" x2="1839.1" y2="496.3" stroke="#b8b8b8" stroke-width="1"/>
<text transform="translate(1840.8,637.5) scale(0.975,1)" font-size="11.13" text-anchor="middle" fill="#3a3a3a" font-family="'DejaVu Sans', 'Liberation Sans', sans-serif" >100</text>
<line x1="1865.5" y1="622.0" x2="1865.5" y2="618.0" stroke="#b8b8b8" stroke-width="1"/>
<line x1="1865.5" y1="492.3" x2="1865.5" y2="496.3" stroke="#b8b8b8" stroke-width="1"/>
<text transform="translate(1867.2,637.5) scale(0.975,1)" font-size="11.13" text-anchor="middle" fill="#3a3a3a" font-family="'DejaVu Sans', 'Liberation Sans', sans-serif" >150</text>
<line x1="1891.9" y1="622.0" x2="1891.9" y2="618.0" stroke="#b8b8b8" stroke-width="1"/>
<line x1="1891.9" y1="492.3" x2="1891.9" y2="496.3" stroke="#b8b8b8" stroke-width="1"/>
<text transform="translate(1893.6,637.5) scale(0.975,1)" font-size="11.13" text-anchor="middle" fill="#3a3a3a" font-family="'DejaVu Sans', 'Liberation Sans', sans-serif" >200</text>
<line x1="1918.3" y1="622.0" x2="1918.3" y2="618.0" stroke="#b8b8b8" stroke-width="1"/>
<line x1="1918.3" y1="492.3" x2="1918.3" y2="496.3" stroke="#b8b8b8" stroke-width="1"/>
<text transform="translate(1920.0,637.5) scale(0.975,1)" font-size="11.13" text-anchor="middle" fill="#3a3a3a" font-family="'DejaVu Sans', 'Liberation Sans', sans-serif" >250</text>
<line x1="1944.8" y1="622.0" x2="1944.8" y2="618.0" stroke="#b8b8b8" stroke-width="1"/>
<line x1="1944.8" y1="492.3" x2="1944.8" y2="496.3" stroke="#b8b8b8" stroke-width="1"/>
<text transform="translate(1946.5,637.5) scale(0.975,1)" font-size="11.13" text-anchor="middle" fill="#3a3a3a" font-family="'DejaVu Sans', 'Liberation Sans', sans-serif" >300</text>
<line x1="1971.2" y1="622.0" x2="1971.2" y2="618.0" stroke="#b8b8b8" stroke-width="1"/>
<line x1="1971.2" y1="492.3" x2="1971.2" y2="496.3" stroke="#b8b8b8" stroke-width="1"/>
<text transform="translate(1972.9,637.5) scale(0.975,1)" font-size="11.13" text-anchor="middle" fill="#3a3a3a" font-family="'DejaVu Sans', 'Liberation Sans', sans-serif" >350</text>
<text transform="translate(1780.5,625.8) scale(0.975,1)" font-size="11.13" text-anchor="end" fill="#3a3a3a" font-family="'DejaVu Sans', 'Liberation Sans', sans-serif" >0</text>
<text transform="translate(1780.5,607.3) scale(0.975,1)" font-size="11.13" text-anchor="end" fill="#3a3a3a" font-family="'DejaVu Sans', 'Liberation Sans', sans-serif" >500000</text>
<text transform="translate(1780.5,588.7) scale(0.975,1)" font-size="11.13" text-anchor="end" fill="#3a3a3a" font-family="'DejaVu Sans', 'Liberation Sans', sans-serif">1×10<tspan dy="-4.5" font-size="8.3">6</tspan></text>
<text transform="translate(1780.5,570.2) scale(0.975,1)" font-size="11.13" text-anchor="end" fill="#3a3a3a" font-family="'DejaVu Sans', 'Liberation Sans', sans-serif">1.5×10<tspan dy="-4.5" font-size="8.3">6</tspan></text>
<text transform="translate(1780.5,551.7) scale(0.975,1)" font-size="11.13" text-anchor="end" fill="#3a3a3a" font-family="'DejaVu Sans', 'Liberation Sans', sans-serif">2×10<tspan dy="-4.5" font-size="8.3">6</tspan></text>
<text transform="translate(1780.5,533.2) scale(0.975,1)" font-size="11.13" text-anchor="end" fill="#3a3a3a" font-family="'DejaVu Sans', 'Liberation Sans', sans-serif">2.5×10<tspan dy="-4.5" font-size="8.3">6</tspan></text>
<text transform="translate(1780.5,514.6) scale(0.975,1)" font-size="11.13" text-anchor="end" fill="#3a3a3a" font-family="'DejaVu Sans', 'Liberation Sans', sans-serif">3×10<tspan dy="-4.5" font-size="8.3">6</tspan></text>
<text transform="translate(1780.5,496.1) scale(0.975,1)" font-size="11.13" text-anchor="end" fill="#3a3a3a" font-family="'DejaVu Sans', 'Liberation Sans', sans-serif">3.5×10<tspan dy="-4.5" font-size="8.3">6</tspan></text>
<line x1="1786.2" y1="622.0" x2="1790.2" y2="622.0" stroke="#b8b8b8" stroke-width="1"/>
<line x1="1971.2" y1="622.0" x2="1967.2" y2="622.0" stroke="#b8b8b8" stroke-width="1"/>
<line x1="1786.2" y1="603.5" x2="1790.2" y2="603.5" stroke="#b8b8b8" stroke-width="1"/>
<line x1="1971.2" y1="603.5" x2="1967.2" y2="603.5" stroke="#b8b8b8" stroke-width="1"/>
<line x1="1786.2" y1="584.9" x2="1790.2" y2="584.9" stroke="#b8b8b8" stroke-width="1"/>
<line x1="1971.2" y1="584.9" x2="1967.2" y2="584.9" stroke="#b8b8b8" stroke-width="1"/>
<line x1="1786.2" y1="566.4" x2="1790.2" y2="566.4" stroke="#b8b8b8" stroke-width="1"/>
<line x1="1971.2" y1="566.4" x2="1967.2" y2="566.4" stroke="#b8b8b8" stroke-width="1"/>
<line x1="1786.2" y1="547.9" x2="1790.2" y2="547.9" stroke="#b8b8b8" stroke-width="1"/>
<line x1="1971.2" y1="547.9" x2="1967.2" y2="547.9" stroke="#b8b8b8" stroke-width="1"/>
<line x1="1786.2" y1="529.4" x2="1790.2" y2="529.4" stroke="#b8b8b8" stroke-width="1"/>
<line x1="1971.2" y1="529.4" x2="1967.2" y2="529.4" stroke="#b8b8b8" stroke-width="1"/>
<line x1="1786.2" y1="510.8" x2="1790.2" y2="510.8" stroke="#b8b8b8" stroke-width="1"/>
<line x1="1971.2" y1="510.8" x2="1967.2" y2="510.8" stroke="#b8b8b8" stroke-width="1"/>
<line x1="1786.2" y1="492.3" x2="1790.2" y2="492.3" stroke="#b8b8b8" stroke-width="1"/>
<line x1="1971.2" y1="492.3" x2="1967.2" y2="492.3" stroke="#b8b8b8" stroke-width="1"/>
<text transform="translate(1822.5,506.4) scale(0.975,1)" font-size="11.13" text-anchor="end" fill="#3a3a3a" font-family="'DejaVu Sans', 'Liberation Sans', sans-serif" >D</text>
<line x1="1829.8" y1="502.6" x2="1863.4" y2="502.6" stroke="#45aee8" stroke-width="1.8"/>
<text transform="translate(1822.5,518.4) scale(0.975,1)" font-size="11.13" text-anchor="end" fill="#3a3a3a" font-family="'DejaVu Sans', 'Liberation Sans', sans-serif" >L-2</text>
<line x1="1829.8" y1="514.6" x2="1863.4" y2="514.6" stroke="#e8a010" stroke-width="1.8"/>
<polyline points="1786.2,622.0 1786.7,620.1 1788.7,621.0 1791.2,621.6 1799.6,622.0 1800.9,622.0 1801.4,620.5 1805.9,621.6 1814.1,622.0 1815.5,622.0 1816.1,620.9 1820.5,621.7 1828.4,622.0 1971.2,622.0" fill="none" stroke="#45aee8" stroke-width="1.6" stroke-linejoin="round" stroke-linecap="round" opacity="1.0"/>
<polyline points="1786.2,621.7 1786.5,621.7 1789.5,577.6 1791.2,598.9 1792.2,606.1 1793.4,611.7 1794.7,615.6 1796.3,618.4 1798.3,620.1 1800.9,621.1 1802.7,508.4 1804.5,560.6 1805.6,580.0 1806.8,594.3 1808.2,604.6 1809.8,612.0 1811.8,616.8 1813.1,618.5 1814.5,619.7 1815.5,620.3 1817.7,518.8 1819.7,566.2 1820.8,583.2 1822.1,595.9 1823.6,605.5 1825.3,612.2 1827.3,616.8 1828.6,618.4 1830.0,619.6 1831.9,620.5 1834.3,621.2 1842.1,621.7 1971.2,621.7" fill="none" stroke="#e8a010" stroke-width="1.8" stroke-linejoin="round" stroke-linecap="round" opacity="1.0"/>
</svg></body></html>
